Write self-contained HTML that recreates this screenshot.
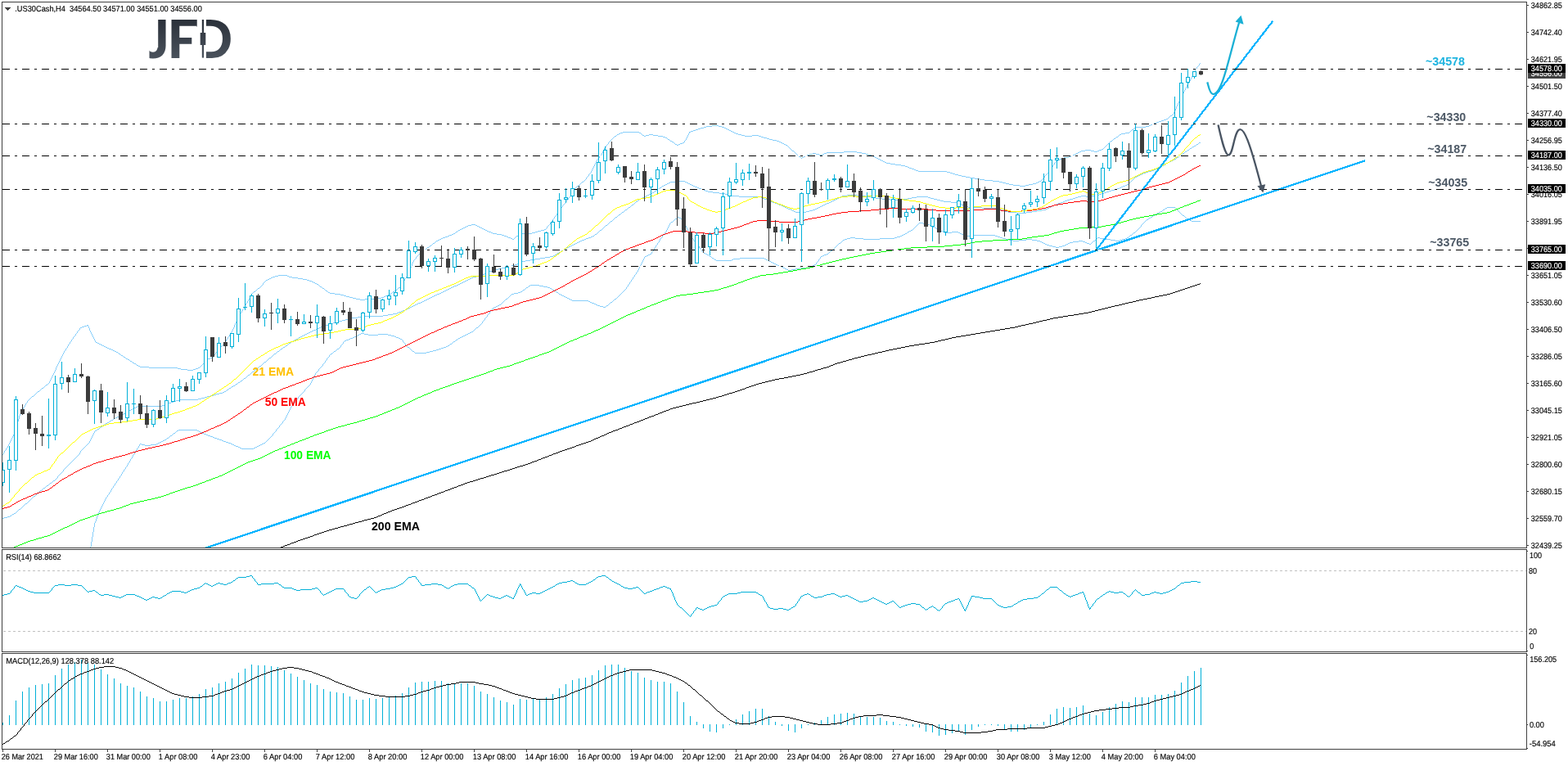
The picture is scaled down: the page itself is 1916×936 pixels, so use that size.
<!DOCTYPE html>
<html lang="en"><head><meta charset="utf-8"><title>.US30Cash H4 chart</title>
<style>
html,body{margin:0;padding:0;background:#fff;width:1916px;height:936px;overflow:hidden}
svg{display:block;position:absolute;left:0;top:0}
text{white-space:pre}
</style></head><body>
<svg width="1916" height="936" viewBox="0 0 1916 936" font-family="'Liberation Sans', sans-serif">
<rect width="1916" height="936" fill="#fff"/>
<defs>
<clipPath id="cm"><rect x="3" y="3" width="1862" height="666"/></clipPath>
<clipPath id="cr"><rect x="3" y="672" width="1862" height="124"/></clipPath>
<clipPath id="cd"><rect x="3" y="799" width="1862" height="116"/></clipPath>
<clipPath id="cj"><path d="M193.2,20 H204 V75 H182.5 V58 H193.2 Z"/><rect x="205" y="20" width="35.8" height="55"/><rect x="251.7" y="20" width="34" height="55"/></clipPath>
<linearGradient id="lg" gradientUnits="userSpaceOnUse" x1="0" y1="24" x2="0" y2="71"><stop offset="0" stop-color="#2b313a"/><stop offset="1" stop-color="#4a525c"/></linearGradient>
</defs>
<g clip-path="url(#cm)">
<g shape-rendering="crispEdges">
<path d="M1466 77h1v1h-1zM1465 78h1v1h-1zM1465 79h1v1h-1zM1464 80h1v1h-1zM1463 81h1v1h-1zM1462 82h1v1h-1zM1462 83h1v1h-1zM1461 84h1v1h-1zM1460 85h1v1h-1zM1460 86h1v1h-1zM1459 87h1v1h-1zM1459 88h1v1h-1zM1458 89h1v1h-1zM1458 90h1v1h-1zM1457 91h1v1h-1zM1457 92h1v1h-1zM1456 93h1v1h-1zM1456 94h1v1h-1zM1455 95h1v1h-1zM1455 96h1v1h-1zM1454 97h1v1h-1zM1454 98h1v1h-1zM1453 99h1v1h-1zM1453 100h1v1h-1zM1452 101h1v1h-1zM1451 102h1v1h-1zM1451 103h1v1h-1zM1450 104h1v1h-1zM1450 105h1v1h-1zM1449 106h1v1h-1zM1449 107h1v1h-1zM1448 108h1v1h-1zM1448 109h1v1h-1zM1447 110h1v1h-1zM1447 111h1v1h-1zM1446 112h1v1h-1zM1446 113h1v1h-1zM1445 114h1v1h-1zM1445 115h1v1h-1zM1444 116h1v1h-1zM1444 117h1v1h-1zM1443 118h1v1h-1zM1443 119h1v1h-1zM1442 120h1v1h-1zM1442 121h1v1h-1zM1441 122h1v1h-1zM1441 123h1v1h-1zM1440 124h1v1h-1zM1440 125h1v1h-1zM1439 126h1v1h-1zM1439 127h1v1h-1zM1438 128h1v1h-1zM1438 129h1v1h-1zM1437 130h1v1h-1zM1437 131h1v1h-1zM1437 132h1v1h-1zM1436 133h1v1h-1zM1436 134h1v1h-1zM1435 135h1v1h-1zM1435 136h1v1h-1zM1434 137h1v1h-1zM1434 138h1v1h-1zM1433 139h1v1h-1zM1432 140h1v1h-1zM1430 141h2v1h-2zM1429 142h1v1h-1zM1428 143h1v1h-1zM1427 144h1v1h-1zM1425 145h2v1h-2zM1422 146h3v1h-3zM1419 147h3v1h-3zM1416 148h3v1h-3zM1413 149h3v1h-3zM1410 150h3v1h-3zM1408 151h2v1h-2zM1406 152h2v1h-2zM870 153h8v1h-8zM1404 153h2v1h-2zM863 154h7v1h-7zM878 154h4v1h-4zM1400 154h4v1h-4zM860 155h3v1h-3zM882 155h3v1h-3zM1387 155h13v1h-13zM856 156h4v1h-4zM885 156h2v1h-2zM1386 156h1v1h-1zM853 157h3v1h-3zM887 157h2v1h-2zM1385 157h1v1h-1zM850 158h3v1h-3zM889 158h2v1h-2zM1383 158h2v1h-2zM847 159h3v1h-3zM891 159h2v1h-2zM1382 159h1v1h-1zM844 160h3v1h-3zM893 160h2v1h-2zM1381 160h1v1h-1zM761 161h20v1h-20zM842 161h2v1h-2zM895 161h2v1h-2zM1380 161h1v1h-1zM758 162h3v1h-3zM781 162h2v1h-2zM842 162h1v1h-1zM897 162h2v1h-2zM1375 162h5v1h-5zM756 163h2v1h-2zM783 163h1v1h-1zM841 163h1v1h-1zM899 163h3v1h-3zM1370 163h5v1h-5zM754 164h2v1h-2zM784 164h1v1h-1zM793 164h5v1h-5zM841 164h1v1h-1zM902 164h4v1h-4zM1368 164h2v1h-2zM753 165h1v1h-1zM785 165h2v1h-2zM789 165h4v1h-4zM798 165h6v1h-6zM840 165h1v1h-1zM906 165h4v1h-4zM919 165h8v1h-8zM1367 165h1v1h-1zM751 166h2v1h-2zM787 166h2v1h-2zM804 166h6v1h-6zM840 166h1v1h-1zM910 166h9v1h-9zM927 166h3v1h-3zM1366 166h1v1h-1zM750 167h1v1h-1zM810 167h3v1h-3zM839 167h1v1h-1zM930 167h3v1h-3zM1364 167h2v1h-2zM749 168h1v1h-1zM813 168h2v1h-2zM839 168h1v1h-1zM933 168h4v1h-4zM1363 168h1v1h-1zM748 169h1v1h-1zM815 169h1v1h-1zM838 169h1v1h-1zM937 169h3v1h-3zM1361 169h2v1h-2zM747 170h1v1h-1zM816 170h2v1h-2zM838 170h1v1h-1zM940 170h4v1h-4zM1360 170h1v1h-1zM746 171h1v1h-1zM818 171h1v1h-1zM837 171h1v1h-1zM944 171h5v1h-5zM1359 171h1v1h-1zM745 172h1v1h-1zM819 172h2v1h-2zM836 172h1v1h-1zM949 172h3v1h-3zM1357 172h2v1h-2zM744 173h1v1h-1zM821 173h2v1h-2zM836 173h1v1h-1zM952 173h2v1h-2zM1356 173h1v1h-1zM743 174h1v1h-1zM823 174h1v1h-1zM834 174h2v1h-2zM954 174h2v1h-2zM1355 174h1v1h-1zM743 175h1v1h-1zM824 175h1v1h-1zM831 175h3v1h-3zM956 175h2v1h-2zM1354 175h1v1h-1zM742 176h1v1h-1zM825 176h2v1h-2zM829 176h2v1h-2zM958 176h2v1h-2zM1353 176h1v1h-1zM741 177h1v1h-1zM827 177h2v1h-2zM960 177h2v1h-2zM1352 177h1v1h-1zM740 178h1v1h-1zM962 178h1v1h-1zM1351 178h1v1h-1zM740 179h1v1h-1zM963 179h1v1h-1zM1350 179h1v1h-1zM739 180h1v1h-1zM964 180h1v1h-1zM1349 180h1v1h-1zM738 181h1v1h-1zM965 181h1v1h-1zM1348 181h1v1h-1zM738 182h1v1h-1zM966 182h1v1h-1zM1346 182h2v1h-2zM737 183h1v1h-1zM967 183h1v1h-1zM1326 183h7v1h-7zM1343 183h3v1h-3zM737 184h1v1h-1zM968 184h2v1h-2zM1321 184h5v1h-5zM1333 184h4v1h-4zM1341 184h2v1h-2zM736 185h1v1h-1zM970 185h1v1h-1zM1031 185h16v1h-16zM1319 185h2v1h-2zM1337 185h4v1h-4zM736 186h1v1h-1zM971 186h1v1h-1zM1010 186h21v1h-21zM1047 186h6v1h-6zM1317 186h2v1h-2zM735 187h1v1h-1zM972 187h1v1h-1zM993 187h4v1h-4zM1007 187h3v1h-3zM1053 187h5v1h-5zM1315 187h2v1h-2zM735 188h1v1h-1zM973 188h1v1h-1zM989 188h4v1h-4zM997 188h4v1h-4zM1005 188h2v1h-2zM1058 188h3v1h-3zM1313 188h2v1h-2zM734 189h1v1h-1zM974 189h1v1h-1zM986 189h3v1h-3zM1001 189h4v1h-4zM1061 189h4v1h-4zM1311 189h2v1h-2zM733 190h1v1h-1zM975 190h1v1h-1zM984 190h2v1h-2zM1065 190h2v1h-2zM1309 190h2v1h-2zM732 191h1v1h-1zM976 191h2v1h-2zM982 191h2v1h-2zM1067 191h2v1h-2zM1306 191h3v1h-3zM732 192h1v1h-1zM978 192h1v1h-1zM980 192h2v1h-2zM1069 192h2v1h-2zM1300 192h6v1h-6zM731 193h1v1h-1zM979 193h1v1h-1zM1071 193h2v1h-2zM1297 193h3v1h-3zM730 194h1v1h-1zM1073 194h2v1h-2zM1295 194h2v1h-2zM729 195h1v1h-1zM1075 195h2v1h-2zM1293 195h2v1h-2zM729 196h1v1h-1zM1077 196h2v1h-2zM1292 196h1v1h-1zM728 197h1v1h-1zM1079 197h2v1h-2zM1290 197h2v1h-2zM728 198h1v1h-1zM1081 198h2v1h-2zM1289 198h1v1h-1zM727 199h1v1h-1zM1083 199h5v1h-5zM1288 199h1v1h-1zM727 200h1v1h-1zM1088 200h6v1h-6zM1288 200h1v1h-1zM726 201h1v1h-1zM1094 201h7v1h-7zM1287 201h1v1h-1zM726 202h1v1h-1zM1101 202h5v1h-5zM1286 202h1v1h-1zM725 203h1v1h-1zM1106 203h3v1h-3zM1286 203h1v1h-1zM725 204h1v1h-1zM1109 204h2v1h-2zM1285 204h1v1h-1zM724 205h1v1h-1zM1111 205h3v1h-3zM1284 205h1v1h-1zM724 206h1v1h-1zM1114 206h3v1h-3zM1283 206h1v1h-1zM723 207h1v1h-1zM1117 207h2v1h-2zM1283 207h1v1h-1zM723 208h1v1h-1zM1119 208h3v1h-3zM1282 208h1v1h-1zM722 209h1v1h-1zM1122 209h35v1h-35zM1281 209h1v1h-1zM722 210h1v1h-1zM1157 210h4v1h-4zM1281 210h1v1h-1zM721 211h1v1h-1zM1161 211h3v1h-3zM1280 211h1v1h-1zM720 212h1v1h-1zM1164 212h3v1h-3zM1279 212h1v1h-1zM719 213h1v1h-1zM1167 213h4v1h-4zM1278 213h1v1h-1zM719 214h1v1h-1zM1171 214h4v1h-4zM1277 214h1v1h-1zM718 215h1v1h-1zM1175 215h5v1h-5zM1276 215h1v1h-1zM717 216h1v1h-1zM1180 216h5v1h-5zM1276 216h1v1h-1zM716 217h1v1h-1zM1185 217h6v1h-6zM1275 217h1v1h-1zM716 218h1v1h-1zM1191 218h6v1h-6zM1274 218h1v1h-1zM715 219h1v1h-1zM1197 219h6v1h-6zM1273 219h1v1h-1zM714 220h1v1h-1zM1203 220h10v1h-10zM1272 220h1v1h-1zM713 221h1v1h-1zM1213 221h8v1h-8zM1270 221h2v1h-2zM711 222h2v1h-2zM1221 222h4v1h-4zM1268 222h2v1h-2zM710 223h1v1h-1zM1225 223h4v1h-4zM1266 223h2v1h-2zM709 224h1v1h-1zM1229 224h4v1h-4zM1262 224h4v1h-4zM708 225h1v1h-1zM1233 225h5v1h-5zM1257 225h5v1h-5zM707 226h1v1h-1zM1238 226h8v1h-8zM1253 226h4v1h-4zM705 227h2v1h-2zM1246 227h7v1h-7zM704 228h1v1h-1zM703 229h1v1h-1zM702 230h1v1h-1zM702 231h1v1h-1zM701 232h1v1h-1zM700 233h1v1h-1zM700 234h1v1h-1zM699 235h1v1h-1zM699 236h1v1h-1zM698 237h1v1h-1zM697 238h1v1h-1zM697 239h1v1h-1zM696 240h1v1h-1zM695 241h1v1h-1zM694 242h1v1h-1zM694 243h1v1h-1zM693 244h1v1h-1zM692 245h1v1h-1zM691 246h1v1h-1zM691 247h1v1h-1zM690 248h1v1h-1zM689 249h1v1h-1zM688 250h1v1h-1zM687 251h1v1h-1zM687 252h1v1h-1zM686 253h1v1h-1zM685 254h1v1h-1zM684 255h1v1h-1zM684 256h1v1h-1zM683 257h1v1h-1zM682 258h1v1h-1zM682 259h1v1h-1zM681 260h1v1h-1zM680 261h1v1h-1zM680 262h1v1h-1zM679 263h1v1h-1zM678 264h1v1h-1zM677 265h1v1h-1zM677 266h1v1h-1zM676 267h1v1h-1zM675 268h1v1h-1zM675 269h1v1h-1zM674 270h1v1h-1zM673 271h1v1h-1zM672 272h1v1h-1zM672 273h1v1h-1zM576 274h5v1h-5zM671 274h1v1h-1zM572 275h4v1h-4zM581 275h2v1h-2zM670 275h1v1h-1zM570 276h2v1h-2zM583 276h2v1h-2zM669 276h1v1h-1zM568 277h2v1h-2zM585 277h2v1h-2zM668 277h1v1h-1zM566 278h2v1h-2zM587 278h2v1h-2zM668 278h1v1h-1zM564 279h2v1h-2zM589 279h2v1h-2zM667 279h1v1h-1zM562 280h2v1h-2zM591 280h2v1h-2zM665 280h2v1h-2zM560 281h2v1h-2zM593 281h2v1h-2zM661 281h4v1h-4zM559 282h1v1h-1zM595 282h2v1h-2zM657 282h4v1h-4zM557 283h2v1h-2zM597 283h3v1h-3zM654 283h3v1h-3zM556 284h1v1h-1zM600 284h2v1h-2zM650 284h4v1h-4zM554 285h2v1h-2zM602 285h5v1h-5zM637 285h13v1h-13zM552 286h2v1h-2zM607 286h6v1h-6zM635 286h2v1h-2zM549 287h3v1h-3zM613 287h3v1h-3zM633 287h2v1h-2zM547 288h2v1h-2zM616 288h3v1h-3zM631 288h2v1h-2zM544 289h3v1h-3zM619 289h2v1h-2zM630 289h1v1h-1zM541 290h3v1h-3zM621 290h3v1h-3zM629 290h1v1h-1zM539 291h2v1h-2zM624 291h2v1h-2zM628 291h1v1h-1zM537 292h2v1h-2zM626 292h2v1h-2zM535 293h2v1h-2zM533 294h2v1h-2zM532 295h1v1h-1zM531 296h1v1h-1zM529 297h2v1h-2zM528 298h1v1h-1zM527 299h1v1h-1zM525 300h2v1h-2zM524 301h1v1h-1zM522 302h2v1h-2zM521 303h1v1h-1zM520 304h1v1h-1zM518 305h2v1h-2zM517 306h1v1h-1zM516 307h1v1h-1zM515 308h1v1h-1zM513 309h2v1h-2zM512 310h1v1h-1zM511 311h1v1h-1zM510 312h1v1h-1zM509 313h1v1h-1zM508 314h1v1h-1zM508 315h1v1h-1zM507 316h1v1h-1zM506 317h1v1h-1zM505 318h1v1h-1zM505 319h1v1h-1zM504 320h1v1h-1zM504 321h1v1h-1zM503 322h1v1h-1zM503 323h1v1h-1zM503 324h1v1h-1zM502 325h1v1h-1zM502 326h1v1h-1zM501 327h1v1h-1zM501 328h1v1h-1zM500 329h1v1h-1zM500 330h1v1h-1zM500 331h1v1h-1zM499 332h1v1h-1zM499 333h1v1h-1zM498 334h1v1h-1zM498 335h1v1h-1zM340 336h11v1h-11zM497 336h1v1h-1zM336 337h4v1h-4zM351 337h2v1h-2zM497 337h1v1h-1zM333 338h3v1h-3zM353 338h4v1h-4zM496 338h1v1h-1zM331 339h2v1h-2zM357 339h7v1h-7zM496 339h1v1h-1zM329 340h2v1h-2zM364 340h6v1h-6zM495 340h1v1h-1zM327 341h2v1h-2zM370 341h5v1h-5zM494 341h1v1h-1zM325 342h2v1h-2zM375 342h3v1h-3zM494 342h1v1h-1zM324 343h1v1h-1zM378 343h3v1h-3zM493 343h1v1h-1zM323 344h1v1h-1zM381 344h2v1h-2zM493 344h1v1h-1zM322 345h1v1h-1zM383 345h2v1h-2zM492 345h1v1h-1zM321 346h1v1h-1zM385 346h2v1h-2zM491 346h1v1h-1zM321 347h1v1h-1zM387 347h2v1h-2zM491 347h1v1h-1zM320 348h1v1h-1zM389 348h1v1h-1zM490 348h1v1h-1zM319 349h1v1h-1zM390 349h1v1h-1zM490 349h1v1h-1zM318 350h1v1h-1zM391 350h2v1h-2zM489 350h1v1h-1zM317 351h1v1h-1zM393 351h1v1h-1zM487 351h2v1h-2zM315 352h2v1h-2zM394 352h2v1h-2zM486 352h1v1h-1zM314 353h1v1h-1zM396 353h1v1h-1zM485 353h1v1h-1zM313 354h1v1h-1zM397 354h1v1h-1zM483 354h2v1h-2zM312 355h1v1h-1zM398 355h2v1h-2zM482 355h1v1h-1zM310 356h2v1h-2zM400 356h1v1h-1zM480 356h2v1h-2zM309 357h1v1h-1zM401 357h2v1h-2zM479 357h1v1h-1zM308 358h1v1h-1zM403 358h6v1h-6zM478 358h1v1h-1zM307 359h1v1h-1zM409 359h7v1h-7zM476 359h2v1h-2zM307 360h1v1h-1zM416 360h4v1h-4zM474 360h2v1h-2zM306 361h1v1h-1zM420 361h3v1h-3zM471 361h3v1h-3zM306 362h1v1h-1zM423 362h4v1h-4zM469 362h2v1h-2zM305 363h1v1h-1zM427 363h4v1h-4zM466 363h3v1h-3zM305 364h1v1h-1zM431 364h4v1h-4zM457 364h9v1h-9zM304 365h1v1h-1zM435 365h5v1h-5zM446 365h11v1h-11zM303 366h1v1h-1zM440 366h6v1h-6zM303 367h1v1h-1zM302 368h1v1h-1zM302 369h1v1h-1zM301 370h1v1h-1zM300 371h1v1h-1zM300 372h1v1h-1zM299 373h1v1h-1zM299 374h1v1h-1zM298 375h1v1h-1zM298 376h1v1h-1zM297 377h1v1h-1zM296 378h1v1h-1zM296 379h1v1h-1zM295 380h1v1h-1zM295 381h1v1h-1zM294 382h1v1h-1zM293 383h1v1h-1zM293 384h1v1h-1zM292 385h1v1h-1zM292 386h1v1h-1zM291 387h1v1h-1zM291 388h1v1h-1zM290 389h1v1h-1zM290 390h1v1h-1zM289 391h1v1h-1zM289 392h1v1h-1zM288 393h1v1h-1zM288 394h1v1h-1zM287 395h1v1h-1zM287 396h1v1h-1zM106 397h2v1h-2zM286 397h1v1h-1zM103 398h3v1h-3zM107 398h1v1h-1zM286 398h1v1h-1zM100 399h3v1h-3zM108 399h1v1h-1zM286 399h1v1h-1zM98 400h2v1h-2zM108 400h1v1h-1zM285 400h1v1h-1zM97 401h1v1h-1zM109 401h1v1h-1zM285 401h1v1h-1zM97 402h1v1h-1zM109 402h1v1h-1zM284 402h1v1h-1zM96 403h1v1h-1zM109 403h1v1h-1zM284 403h1v1h-1zM95 404h1v1h-1zM110 404h1v1h-1zM283 404h1v1h-1zM94 405h1v1h-1zM110 405h1v1h-1zM283 405h1v1h-1zM94 406h1v1h-1zM111 406h1v1h-1zM282 406h1v1h-1zM93 407h1v1h-1zM111 407h1v1h-1zM282 407h1v1h-1zM92 408h1v1h-1zM112 408h1v1h-1zM281 408h1v1h-1zM92 409h1v1h-1zM112 409h1v1h-1zM280 409h1v1h-1zM91 410h1v1h-1zM113 410h1v1h-1zM280 410h1v1h-1zM90 411h1v1h-1zM113 411h1v1h-1zM279 411h1v1h-1zM89 412h1v1h-1zM114 412h1v1h-1zM278 412h1v1h-1zM89 413h1v1h-1zM114 413h1v1h-1zM278 413h1v1h-1zM88 414h1v1h-1zM115 414h1v1h-1zM277 414h1v1h-1zM87 415h1v1h-1zM115 415h1v1h-1zM276 415h1v1h-1zM87 416h1v1h-1zM116 416h1v1h-1zM276 416h1v1h-1zM86 417h1v1h-1zM116 417h1v1h-1zM275 417h1v1h-1zM85 418h1v1h-1zM117 418h2v1h-2zM274 418h1v1h-1zM85 419h1v1h-1zM119 419h2v1h-2zM274 419h1v1h-1zM84 420h1v1h-1zM121 420h2v1h-2zM273 420h1v1h-1zM83 421h1v1h-1zM123 421h2v1h-2zM272 421h1v1h-1zM83 422h1v1h-1zM125 422h2v1h-2zM271 422h1v1h-1zM82 423h1v1h-1zM127 423h2v1h-2zM270 423h1v1h-1zM82 424h1v1h-1zM129 424h2v1h-2zM269 424h1v1h-1zM81 425h1v1h-1zM131 425h2v1h-2zM269 425h1v1h-1zM80 426h1v1h-1zM133 426h3v1h-3zM268 426h1v1h-1zM80 427h1v1h-1zM136 427h2v1h-2zM267 427h1v1h-1zM79 428h1v1h-1zM138 428h2v1h-2zM266 428h1v1h-1zM78 429h1v1h-1zM140 429h2v1h-2zM265 429h1v1h-1zM78 430h1v1h-1zM142 430h2v1h-2zM264 430h1v1h-1zM77 431h1v1h-1zM144 431h1v1h-1zM263 431h1v1h-1zM77 432h1v1h-1zM145 432h2v1h-2zM263 432h1v1h-1zM76 433h1v1h-1zM147 433h1v1h-1zM262 433h1v1h-1zM76 434h1v1h-1zM148 434h2v1h-2zM261 434h1v1h-1zM75 435h1v1h-1zM150 435h1v1h-1zM260 435h1v1h-1zM75 436h1v1h-1zM151 436h2v1h-2zM260 436h1v1h-1zM74 437h1v1h-1zM153 437h1v1h-1zM257 437h3v1h-3zM74 438h1v1h-1zM154 438h2v1h-2zM254 438h3v1h-3zM73 439h1v1h-1zM156 439h2v1h-2zM253 439h1v1h-1zM73 440h1v1h-1zM158 440h1v1h-1zM252 440h1v1h-1zM72 441h1v1h-1zM159 441h2v1h-2zM251 441h1v1h-1zM72 442h1v1h-1zM161 442h1v1h-1zM250 442h1v1h-1zM71 443h1v1h-1zM162 443h2v1h-2zM249 443h1v1h-1zM71 444h1v1h-1zM164 444h2v1h-2zM248 444h1v1h-1zM70 445h1v1h-1zM166 445h1v1h-1zM247 445h1v1h-1zM70 446h1v1h-1zM167 446h2v1h-2zM246 446h1v1h-1zM69 447h1v1h-1zM169 447h2v1h-2zM245 447h1v1h-1zM69 448h1v1h-1zM171 448h11v1h-11zM244 448h1v1h-1zM68 449h1v1h-1zM182 449h35v1h-35zM242 449h2v1h-2zM68 450h1v1h-1zM217 450h4v1h-4zM239 450h3v1h-3zM68 451h1v1h-1zM221 451h8v1h-8zM236 451h3v1h-3zM67 452h1v1h-1zM229 452h7v1h-7zM67 453h1v1h-1zM66 454h1v1h-1zM66 455h1v1h-1zM65 456h1v1h-1zM65 457h1v1h-1zM64 458h1v1h-1zM64 459h1v1h-1zM63 460h1v1h-1zM63 461h1v1h-1zM62 462h1v1h-1zM62 463h1v1h-1zM61 464h1v1h-1zM61 465h1v1h-1zM60 466h1v1h-1zM60 467h1v1h-1zM59 468h1v1h-1zM58 469h1v1h-1zM56 470h2v1h-2zM55 471h1v1h-1zM54 472h1v1h-1zM53 473h1v1h-1zM51 474h2v1h-2zM50 475h1v1h-1zM49 476h1v1h-1zM48 477h1v1h-1zM46 478h2v1h-2zM45 479h1v1h-1zM44 480h1v1h-1zM43 481h1v1h-1zM42 482h1v1h-1zM41 483h1v1h-1zM39 484h2v1h-2zM38 485h1v1h-1zM37 486h1v1h-1zM36 487h1v1h-1zM35 488h1v1h-1zM34 489h1v1h-1zM33 490h1v1h-1zM33 491h1v1h-1zM32 492h1v1h-1zM31 493h1v1h-1zM31 494h1v1h-1zM30 495h1v1h-1zM30 496h1v1h-1zM29 497h1v1h-1zM28 498h1v1h-1zM28 499h1v1h-1zM27 500h1v1h-1zM27 501h1v1h-1zM26 502h1v1h-1zM26 503h1v1h-1zM25 504h1v1h-1zM25 505h1v1h-1zM24 506h1v1h-1zM24 507h1v1h-1zM23 508h1v1h-1zM23 509h1v1h-1zM23 510h1v1h-1zM23 511h1v1h-1zM22 512h1v1h-1zM22 513h1v1h-1zM22 514h1v1h-1zM21 515h1v1h-1zM21 516h1v1h-1zM21 517h1v1h-1zM21 518h1v1h-1zM20 519h1v1h-1zM20 520h1v1h-1zM20 521h1v1h-1zM19 522h1v1h-1zM19 523h1v1h-1zM19 524h1v1h-1zM19 525h1v1h-1zM18 526h1v1h-1zM18 527h1v1h-1zM18 528h1v1h-1zM17 529h1v1h-1zM17 530h1v1h-1zM16 531h1v1h-1zM16 532h1v1h-1zM15 533h1v1h-1zM15 534h1v1h-1zM14 535h1v1h-1zM14 536h1v1h-1zM13 537h1v1h-1zM13 538h1v1h-1zM12 539h1v1h-1zM12 540h1v1h-1zM11 541h1v1h-1zM11 542h1v1h-1zM10 543h1v1h-1zM10 544h1v1h-1zM9 545h1v1h-1zM9 546h1v1h-1zM8 547h1v1h-1zM7 548h1v1h-1zM7 549h1v1h-1zM6 550h1v1h-1zM5 551h1v1h-1zM5 552h1v1h-1zM4 553h1v1h-1zM4 554h1v1h-1zM3 555h1v1h-1z" fill="#87cefa"/>
<path d="M1465 174h2v1h-2zM1464 175h1v1h-1zM1462 176h2v1h-2zM1461 177h1v1h-1zM1459 178h2v1h-2zM1457 179h2v1h-2zM1456 180h1v1h-1zM1454 181h2v1h-2zM1453 182h1v1h-1zM1451 183h2v1h-2zM1450 184h1v1h-1zM1448 185h2v1h-2zM1447 186h1v1h-1zM1445 187h2v1h-2zM1444 188h1v1h-1zM1443 189h1v1h-1zM1441 190h2v1h-2zM1440 191h1v1h-1zM1438 192h2v1h-2zM1437 193h1v1h-1zM1435 194h2v1h-2zM1433 195h2v1h-2zM1431 196h2v1h-2zM1429 197h2v1h-2zM1427 198h2v1h-2zM1425 199h2v1h-2zM1424 200h1v1h-1zM1422 201h2v1h-2zM1420 202h2v1h-2zM1418 203h2v1h-2zM1416 204h2v1h-2zM1414 205h2v1h-2zM1412 206h2v1h-2zM1410 207h2v1h-2zM1407 208h3v1h-3zM1403 209h4v1h-4zM1400 210h3v1h-3zM1397 211h3v1h-3zM1395 212h2v1h-2zM1393 213h2v1h-2zM1391 214h2v1h-2zM1389 215h2v1h-2zM1387 216h2v1h-2zM1386 217h1v1h-1zM1385 218h1v1h-1zM1384 219h1v1h-1zM1383 220h1v1h-1zM828 221h9v1h-9zM1382 221h1v1h-1zM819 222h9v1h-9zM837 222h2v1h-2zM1381 222h1v1h-1zM817 223h2v1h-2zM839 223h2v1h-2zM1380 223h1v1h-1zM815 224h2v1h-2zM841 224h2v1h-2zM1379 224h1v1h-1zM813 225h2v1h-2zM843 225h2v1h-2zM1377 225h2v1h-2zM811 226h2v1h-2zM845 226h2v1h-2zM1375 226h2v1h-2zM809 227h2v1h-2zM847 227h2v1h-2zM1372 227h3v1h-3zM808 228h1v1h-1zM849 228h3v1h-3zM1370 228h2v1h-2zM806 229h2v1h-2zM852 229h2v1h-2zM1368 229h2v1h-2zM805 230h1v1h-1zM854 230h3v1h-3zM1365 230h3v1h-3zM803 231h2v1h-2zM857 231h3v1h-3zM1362 231h3v1h-3zM802 232h1v1h-1zM860 232h2v1h-2zM1358 232h4v1h-4zM800 233h2v1h-2zM862 233h3v1h-3zM1355 233h3v1h-3zM799 234h1v1h-1zM865 234h6v1h-6zM1352 234h3v1h-3zM797 235h2v1h-2zM871 235h8v1h-8zM1349 235h3v1h-3zM795 236h2v1h-2zM879 236h7v1h-7zM1346 236h3v1h-3zM793 237h2v1h-2zM886 237h4v1h-4zM1343 237h3v1h-3zM791 238h2v1h-2zM890 238h4v1h-4zM1035 238h13v1h-13zM1339 238h4v1h-4zM789 239h2v1h-2zM894 239h9v1h-9zM1029 239h6v1h-6zM1048 239h10v1h-10zM1321 239h6v1h-6zM1333 239h6v1h-6zM787 240h2v1h-2zM903 240h27v1h-27zM1027 240h2v1h-2zM1058 240h6v1h-6zM1120 240h14v1h-14zM1317 240h4v1h-4zM1327 240h6v1h-6zM785 241h2v1h-2zM930 241h2v1h-2zM1025 241h2v1h-2zM1064 241h6v1h-6zM1114 241h6v1h-6zM1134 241h3v1h-3zM1314 241h3v1h-3zM783 242h2v1h-2zM932 242h2v1h-2zM1023 242h2v1h-2zM1070 242h8v1h-8zM1109 242h5v1h-5zM1137 242h4v1h-4zM1311 242h3v1h-3zM781 243h2v1h-2zM934 243h3v1h-3zM1021 243h2v1h-2zM1078 243h10v1h-10zM1100 243h9v1h-9zM1141 243h4v1h-4zM1307 243h4v1h-4zM780 244h1v1h-1zM937 244h2v1h-2zM1019 244h2v1h-2zM1088 244h12v1h-12zM1145 244h4v1h-4zM1304 244h3v1h-3zM779 245h1v1h-1zM939 245h3v1h-3zM1017 245h2v1h-2zM1149 245h4v1h-4zM1301 245h3v1h-3zM777 246h2v1h-2zM942 246h2v1h-2zM1015 246h2v1h-2zM1153 246h9v1h-9zM1299 246h2v1h-2zM776 247h1v1h-1zM944 247h3v1h-3zM1013 247h2v1h-2zM1162 247h8v1h-8zM1296 247h3v1h-3zM775 248h1v1h-1zM947 248h3v1h-3zM1010 248h3v1h-3zM1170 248h2v1h-2zM1293 248h3v1h-3zM774 249h1v1h-1zM950 249h2v1h-2zM1008 249h2v1h-2zM1172 249h3v1h-3zM1291 249h2v1h-2zM772 250h2v1h-2zM952 250h3v1h-3zM1006 250h2v1h-2zM1175 250h2v1h-2zM1288 250h3v1h-3zM771 251h1v1h-1zM955 251h2v1h-2zM1004 251h2v1h-2zM1177 251h3v1h-3zM1286 251h2v1h-2zM770 252h1v1h-1zM957 252h2v1h-2zM1002 252h2v1h-2zM1180 252h3v1h-3zM1284 252h2v1h-2zM768 253h2v1h-2zM959 253h2v1h-2zM1000 253h2v1h-2zM1183 253h17v1h-17zM1282 253h2v1h-2zM767 254h1v1h-1zM961 254h2v1h-2zM998 254h2v1h-2zM1200 254h17v1h-17zM1280 254h2v1h-2zM766 255h1v1h-1zM963 255h3v1h-3zM996 255h2v1h-2zM1217 255h4v1h-4zM1278 255h2v1h-2zM764 256h2v1h-2zM966 256h2v1h-2zM993 256h3v1h-3zM1221 256h4v1h-4zM1273 256h5v1h-5zM763 257h1v1h-1zM968 257h2v1h-2zM989 257h4v1h-4zM1225 257h3v1h-3zM1267 257h6v1h-6zM762 258h1v1h-1zM970 258h2v1h-2zM985 258h4v1h-4zM1228 258h4v1h-4zM1261 258h6v1h-6zM760 259h2v1h-2zM972 259h13v1h-13zM1232 259h10v1h-10zM1254 259h7v1h-7zM759 260h1v1h-1zM1242 260h12v1h-12zM758 261h1v1h-1zM756 262h2v1h-2zM755 263h1v1h-1zM754 264h1v1h-1zM752 265h2v1h-2zM751 266h1v1h-1zM750 267h1v1h-1zM749 268h1v1h-1zM748 269h1v1h-1zM746 270h2v1h-2zM745 271h1v1h-1zM744 272h1v1h-1zM743 273h1v1h-1zM742 274h1v1h-1zM740 275h2v1h-2zM739 276h1v1h-1zM738 277h1v1h-1zM737 278h1v1h-1zM736 279h1v1h-1zM735 280h1v1h-1zM733 281h2v1h-2zM732 282h1v1h-1zM731 283h1v1h-1zM730 284h1v1h-1zM729 285h1v1h-1zM727 286h2v1h-2zM726 287h1v1h-1zM724 288h2v1h-2zM722 289h2v1h-2zM719 290h3v1h-3zM716 291h3v1h-3zM714 292h2v1h-2zM711 293h3v1h-3zM709 294h2v1h-2zM707 295h2v1h-2zM705 296h2v1h-2zM703 297h2v1h-2zM701 298h2v1h-2zM699 299h2v1h-2zM697 300h2v1h-2zM695 301h2v1h-2zM693 302h2v1h-2zM691 303h2v1h-2zM690 304h1v1h-1zM688 305h2v1h-2zM686 306h2v1h-2zM685 307h1v1h-1zM683 308h2v1h-2zM681 309h2v1h-2zM680 310h1v1h-1zM678 311h2v1h-2zM676 312h2v1h-2zM672 313h4v1h-4zM666 314h6v1h-6zM660 315h6v1h-6zM654 316h6v1h-6zM648 317h6v1h-6zM642 318h6v1h-6zM638 319h4v1h-4zM636 320h2v1h-2zM634 321h2v1h-2zM632 322h2v1h-2zM629 323h3v1h-3zM625 324h4v1h-4zM621 325h4v1h-4zM617 326h4v1h-4zM613 327h4v1h-4zM609 328h4v1h-4zM605 329h4v1h-4zM601 330h4v1h-4zM598 331h3v1h-3zM596 332h2v1h-2zM594 333h2v1h-2zM592 334h2v1h-2zM590 335h2v1h-2zM587 336h3v1h-3zM582 337h5v1h-5zM578 338h4v1h-4zM576 339h2v1h-2zM574 340h2v1h-2zM572 341h2v1h-2zM570 342h2v1h-2zM568 343h2v1h-2zM566 344h2v1h-2zM564 345h2v1h-2zM562 346h2v1h-2zM560 347h2v1h-2zM558 348h2v1h-2zM555 349h3v1h-3zM553 350h2v1h-2zM551 351h2v1h-2zM549 352h2v1h-2zM547 353h2v1h-2zM545 354h2v1h-2zM543 355h2v1h-2zM541 356h2v1h-2zM539 357h2v1h-2zM537 358h2v1h-2zM534 359h3v1h-3zM532 360h2v1h-2zM530 361h2v1h-2zM528 362h2v1h-2zM526 363h2v1h-2zM524 364h2v1h-2zM522 365h2v1h-2zM520 366h2v1h-2zM518 367h2v1h-2zM516 368h2v1h-2zM514 369h2v1h-2zM511 370h3v1h-3zM509 371h2v1h-2zM507 372h2v1h-2zM505 373h2v1h-2zM503 374h2v1h-2zM501 375h2v1h-2zM499 376h2v1h-2zM497 377h2v1h-2zM495 378h2v1h-2zM492 379h3v1h-3zM490 380h2v1h-2zM487 381h3v1h-3zM485 382h2v1h-2zM480 383h5v1h-5zM474 384h6v1h-6zM468 385h6v1h-6zM446 386h22v1h-22zM437 387h9v1h-9zM430 388h7v1h-7zM426 389h4v1h-4zM422 390h4v1h-4zM418 391h4v1h-4zM414 392h4v1h-4zM410 393h4v1h-4zM407 394h3v1h-3zM404 395h3v1h-3zM401 396h3v1h-3zM398 397h3v1h-3zM395 398h3v1h-3zM392 399h3v1h-3zM390 400h2v1h-2zM388 401h2v1h-2zM386 402h2v1h-2zM383 403h3v1h-3zM381 404h2v1h-2zM379 405h2v1h-2zM377 406h2v1h-2zM375 407h2v1h-2zM373 408h2v1h-2zM371 409h2v1h-2zM369 410h2v1h-2zM367 411h2v1h-2zM365 412h2v1h-2zM364 413h1v1h-1zM362 414h2v1h-2zM360 415h2v1h-2zM358 416h2v1h-2zM356 417h2v1h-2zM355 418h1v1h-1zM353 419h2v1h-2zM352 420h1v1h-1zM351 421h1v1h-1zM349 422h2v1h-2zM348 423h1v1h-1zM346 424h2v1h-2zM345 425h1v1h-1zM343 426h2v1h-2zM342 427h1v1h-1zM341 428h1v1h-1zM339 429h2v1h-2zM338 430h1v1h-1zM337 431h1v1h-1zM335 432h2v1h-2zM334 433h1v1h-1zM333 434h1v1h-1zM332 435h1v1h-1zM331 436h1v1h-1zM329 437h2v1h-2zM328 438h1v1h-1zM327 439h1v1h-1zM326 440h1v1h-1zM325 441h1v1h-1zM323 442h2v1h-2zM322 443h1v1h-1zM321 444h1v1h-1zM320 445h1v1h-1zM319 446h1v1h-1zM317 447h2v1h-2zM316 448h1v1h-1zM315 449h1v1h-1zM314 450h1v1h-1zM312 451h2v1h-2zM311 452h1v1h-1zM310 453h1v1h-1zM308 454h2v1h-2zM307 455h1v1h-1zM306 456h1v1h-1zM305 457h1v1h-1zM303 458h2v1h-2zM302 459h1v1h-1zM301 460h1v1h-1zM300 461h1v1h-1zM298 462h2v1h-2zM297 463h1v1h-1zM296 464h1v1h-1zM294 465h2v1h-2zM293 466h1v1h-1zM291 467h2v1h-2zM290 468h1v1h-1zM288 469h2v1h-2zM287 470h1v1h-1zM285 471h2v1h-2zM283 472h2v1h-2zM282 473h1v1h-1zM280 474h2v1h-2zM279 475h1v1h-1zM277 476h2v1h-2zM276 477h1v1h-1zM274 478h2v1h-2zM272 479h2v1h-2zM268 480h4v1h-4zM264 481h4v1h-4zM261 482h3v1h-3zM257 483h4v1h-4zM253 484h4v1h-4zM250 485h3v1h-3zM246 486h4v1h-4zM242 487h4v1h-4zM219 488h23v1h-23zM215 489h4v1h-4zM212 490h3v1h-3zM209 491h3v1h-3zM206 492h3v1h-3zM203 493h3v1h-3zM201 494h2v1h-2zM198 495h3v1h-3zM168 496h30v1h-30zM166 497h2v1h-2zM164 498h2v1h-2zM162 499h2v1h-2zM160 500h2v1h-2zM158 501h2v1h-2zM156 502h2v1h-2zM154 503h2v1h-2zM153 504h1v1h-1zM151 505h2v1h-2zM149 506h2v1h-2zM147 507h2v1h-2zM145 508h2v1h-2zM143 509h2v1h-2zM141 510h2v1h-2zM139 511h2v1h-2zM138 512h1v1h-1zM136 513h2v1h-2zM134 514h2v1h-2zM133 515h1v1h-1zM131 516h2v1h-2zM129 517h2v1h-2zM128 518h1v1h-1zM126 519h2v1h-2zM125 520h1v1h-1zM123 521h2v1h-2zM122 522h1v1h-1zM121 523h1v1h-1zM119 524h2v1h-2zM118 525h1v1h-1zM116 526h2v1h-2zM115 527h1v1h-1zM115 528h1v1h-1zM114 529h1v1h-1zM114 530h1v1h-1zM113 531h1v1h-1zM113 532h1v1h-1zM112 533h1v1h-1zM112 534h1v1h-1zM111 535h1v1h-1zM111 536h1v1h-1zM110 537h1v1h-1zM110 538h1v1h-1zM109 539h1v1h-1zM109 540h1v1h-1zM108 541h1v1h-1zM107 542h1v1h-1zM106 543h1v1h-1zM105 544h1v1h-1zM104 545h1v1h-1zM103 546h1v1h-1zM102 547h1v1h-1zM101 548h1v1h-1zM100 549h1v1h-1zM99 550h1v1h-1zM98 551h1v1h-1zM98 552h1v1h-1zM97 553h1v1h-1zM97 554h1v1h-1zM96 555h1v1h-1zM95 556h1v1h-1zM94 557h1v1h-1zM93 558h1v1h-1zM92 559h1v1h-1zM91 560h1v1h-1zM90 561h1v1h-1zM89 562h1v1h-1zM88 563h1v1h-1zM87 564h1v1h-1zM86 565h1v1h-1zM85 566h1v1h-1zM84 567h1v1h-1zM83 568h1v1h-1zM82 569h1v1h-1zM81 570h1v1h-1zM80 571h1v1h-1zM79 572h1v1h-1zM78 573h1v1h-1zM77 574h1v1h-1zM77 575h1v1h-1zM76 576h1v1h-1zM75 577h1v1h-1zM74 578h1v1h-1zM73 579h1v1h-1zM72 580h1v1h-1zM71 581h1v1h-1zM70 582h1v1h-1zM70 583h1v1h-1zM69 584h1v1h-1zM68 585h1v1h-1zM67 586h1v1h-1zM65 587h2v1h-2zM64 588h1v1h-1zM63 589h1v1h-1zM61 590h2v1h-2zM60 591h1v1h-1zM59 592h1v1h-1zM57 593h2v1h-2zM56 594h1v1h-1zM55 595h1v1h-1zM53 596h2v1h-2zM52 597h1v1h-1zM51 598h1v1h-1zM49 599h2v1h-2zM48 600h1v1h-1zM47 601h1v1h-1zM46 602h1v1h-1zM45 603h1v1h-1zM44 604h1v1h-1zM43 605h1v1h-1zM41 606h2v1h-2zM40 607h1v1h-1zM39 608h1v1h-1zM38 609h1v1h-1zM37 610h1v1h-1zM36 611h1v1h-1zM35 612h1v1h-1zM34 613h1v1h-1zM33 614h1v1h-1zM31 615h2v1h-2zM30 616h1v1h-1zM29 617h1v1h-1zM28 618h1v1h-1zM27 619h1v1h-1zM26 620h1v1h-1zM25 621h1v1h-1zM23 622h2v1h-2zM22 623h1v1h-1zM21 624h1v1h-1zM20 625h1v1h-1zM19 626h1v1h-1zM17 627h2v1h-2zM15 628h2v1h-2zM14 629h1v1h-1zM12 630h2v1h-2zM9 631h3v1h-3zM5 632h4v1h-4zM3 633h2v1h-2z" fill="#87cefa"/>
<path d="M1426 253h10v1h-10zM1424 254h2v1h-2zM1436 254h1v1h-1zM1423 255h1v1h-1zM1437 255h1v1h-1zM1421 256h2v1h-2zM1438 256h1v1h-1zM1420 257h1v1h-1zM1439 257h1v1h-1zM1418 258h2v1h-2zM1440 258h1v1h-1zM1416 259h2v1h-2zM1441 259h1v1h-1zM1414 260h2v1h-2zM1442 260h1v1h-1zM1412 261h2v1h-2zM1443 261h1v1h-1zM1411 262h1v1h-1zM1444 262h1v1h-1zM1409 263h2v1h-2zM1445 263h2v1h-2zM1408 264h1v1h-1zM1447 264h1v1h-1zM828 265h2v1h-2zM1406 265h2v1h-2zM1448 265h1v1h-1zM827 266h1v1h-1zM830 266h2v1h-2zM1404 266h2v1h-2zM1449 266h1v1h-1zM825 267h2v1h-2zM832 267h2v1h-2zM1403 267h1v1h-1zM1450 267h2v1h-2zM824 268h1v1h-1zM834 268h1v1h-1zM1401 268h2v1h-2zM1452 268h2v1h-2zM823 269h1v1h-1zM834 269h1v1h-1zM1400 269h1v1h-1zM1454 269h2v1h-2zM822 270h1v1h-1zM835 270h1v1h-1zM1399 270h1v1h-1zM1456 270h11v1h-11zM820 271h2v1h-2zM835 271h1v1h-1zM1398 271h1v1h-1zM819 272h1v1h-1zM836 272h1v1h-1zM1123 272h5v1h-5zM1397 272h1v1h-1zM818 273h1v1h-1zM836 273h1v1h-1zM1122 273h1v1h-1zM1128 273h6v1h-6zM1396 273h1v1h-1zM818 274h1v1h-1zM837 274h1v1h-1zM1121 274h1v1h-1zM1134 274h2v1h-2zM1395 274h1v1h-1zM817 275h1v1h-1zM837 275h1v1h-1zM1120 275h1v1h-1zM1136 275h2v1h-2zM1394 275h1v1h-1zM817 276h1v1h-1zM838 276h1v1h-1zM1119 276h1v1h-1zM1138 276h2v1h-2zM1394 276h1v1h-1zM816 277h1v1h-1zM838 277h1v1h-1zM1118 277h1v1h-1zM1140 277h2v1h-2zM1393 277h1v1h-1zM816 278h1v1h-1zM839 278h1v1h-1zM1117 278h1v1h-1zM1142 278h2v1h-2zM1392 278h1v1h-1zM815 279h1v1h-1zM839 279h1v1h-1zM1116 279h1v1h-1zM1144 279h2v1h-2zM1391 279h1v1h-1zM815 280h1v1h-1zM840 280h1v1h-1zM1115 280h1v1h-1zM1146 280h2v1h-2zM1390 280h1v1h-1zM814 281h1v1h-1zM840 281h1v1h-1zM1113 281h2v1h-2zM1148 281h2v1h-2zM1389 281h1v1h-1zM814 282h1v1h-1zM841 282h1v1h-1zM1111 282h2v1h-2zM1150 282h2v1h-2zM1388 282h1v1h-1zM813 283h1v1h-1zM841 283h1v1h-1zM1109 283h2v1h-2zM1152 283h2v1h-2zM1163 283h8v1h-8zM1387 283h1v1h-1zM812 284h1v1h-1zM842 284h1v1h-1zM1108 284h1v1h-1zM1154 284h9v1h-9zM1171 284h2v1h-2zM1385 284h2v1h-2zM812 285h1v1h-1zM842 285h1v1h-1zM1106 285h2v1h-2zM1173 285h2v1h-2zM1384 285h1v1h-1zM811 286h1v1h-1zM843 286h1v1h-1zM1104 286h2v1h-2zM1175 286h2v1h-2zM1383 286h1v1h-1zM810 287h1v1h-1zM843 287h1v1h-1zM1102 287h2v1h-2zM1177 287h4v1h-4zM1189 287h27v1h-27zM1381 287h2v1h-2zM809 288h1v1h-1zM844 288h1v1h-1zM1100 288h2v1h-2zM1181 288h8v1h-8zM1216 288h3v1h-3zM1380 288h1v1h-1zM809 289h1v1h-1zM845 289h1v1h-1zM1096 289h4v1h-4zM1219 289h3v1h-3zM1379 289h1v1h-1zM808 290h1v1h-1zM845 290h1v1h-1zM1039 290h6v1h-6zM1093 290h3v1h-3zM1222 290h3v1h-3zM1341 290h3v1h-3zM1377 290h2v1h-2zM807 291h1v1h-1zM846 291h1v1h-1zM1035 291h4v1h-4zM1045 291h10v1h-10zM1075 291h18v1h-18zM1225 291h4v1h-4zM1340 291h1v1h-1zM1344 291h6v1h-6zM1375 291h2v1h-2zM806 292h1v1h-1zM847 292h1v1h-1zM1032 292h3v1h-3zM1055 292h20v1h-20zM1229 292h4v1h-4zM1254 292h7v1h-7zM1339 292h1v1h-1zM1350 292h7v1h-7zM1371 292h4v1h-4zM806 293h1v1h-1zM847 293h1v1h-1zM1030 293h2v1h-2zM1233 293h5v1h-5zM1245 293h9v1h-9zM1261 293h6v1h-6zM1338 293h1v1h-1zM1357 293h6v1h-6zM1368 293h3v1h-3zM805 294h1v1h-1zM848 294h1v1h-1zM1029 294h1v1h-1zM1238 294h7v1h-7zM1267 294h4v1h-4zM1318 294h5v1h-5zM1336 294h2v1h-2zM1363 294h5v1h-5zM805 295h1v1h-1zM849 295h1v1h-1zM1028 295h1v1h-1zM1271 295h2v1h-2zM1311 295h7v1h-7zM1323 295h3v1h-3zM1335 295h1v1h-1zM804 296h1v1h-1zM850 296h1v1h-1zM1027 296h1v1h-1zM1273 296h2v1h-2zM1307 296h4v1h-4zM1326 296h2v1h-2zM1334 296h1v1h-1zM803 297h1v1h-1zM850 297h1v1h-1zM1025 297h2v1h-2zM1275 297h2v1h-2zM1305 297h2v1h-2zM1328 297h3v1h-3zM1333 297h1v1h-1zM803 298h1v1h-1zM851 298h1v1h-1zM1024 298h1v1h-1zM1277 298h2v1h-2zM1303 298h2v1h-2zM1331 298h2v1h-2zM802 299h1v1h-1zM852 299h1v1h-1zM1023 299h1v1h-1zM1279 299h3v1h-3zM1301 299h2v1h-2zM801 300h1v1h-1zM853 300h1v1h-1zM1022 300h1v1h-1zM1282 300h4v1h-4zM1298 300h3v1h-3zM801 301h1v1h-1zM854 301h1v1h-1zM1021 301h1v1h-1zM1286 301h4v1h-4zM1294 301h4v1h-4zM800 302h1v1h-1zM854 302h1v1h-1zM1020 302h1v1h-1zM1290 302h4v1h-4zM799 303h1v1h-1zM855 303h1v1h-1zM1019 303h1v1h-1zM799 304h1v1h-1zM856 304h1v1h-1zM1018 304h1v1h-1zM798 305h1v1h-1zM857 305h1v1h-1zM1017 305h1v1h-1zM798 306h1v1h-1zM857 306h1v1h-1zM1015 306h2v1h-2zM797 307h1v1h-1zM858 307h1v1h-1zM1014 307h1v1h-1zM796 308h1v1h-1zM859 308h1v1h-1zM1013 308h1v1h-1zM796 309h1v1h-1zM860 309h2v1h-2zM1012 309h1v1h-1zM794 310h2v1h-2zM862 310h2v1h-2zM1010 310h2v1h-2zM792 311h2v1h-2zM864 311h2v1h-2zM1007 311h3v1h-3zM790 312h2v1h-2zM866 312h1v1h-1zM1005 312h2v1h-2zM788 313h2v1h-2zM867 313h2v1h-2zM1003 313h2v1h-2zM787 314h1v1h-1zM869 314h1v1h-1zM1002 314h1v1h-1zM787 315h1v1h-1zM870 315h2v1h-2zM904 315h30v1h-30zM1002 315h1v1h-1zM786 316h1v1h-1zM872 316h1v1h-1zM896 316h8v1h-8zM934 316h2v1h-2zM1001 316h1v1h-1zM786 317h1v1h-1zM873 317h2v1h-2zM894 317h2v1h-2zM936 317h2v1h-2zM1000 317h1v1h-1zM785 318h1v1h-1zM875 318h19v1h-19zM938 318h2v1h-2zM1000 318h1v1h-1zM785 319h1v1h-1zM940 319h2v1h-2zM999 319h1v1h-1zM784 320h1v1h-1zM942 320h2v1h-2zM998 320h1v1h-1zM784 321h1v1h-1zM944 321h2v1h-2zM997 321h1v1h-1zM783 322h1v1h-1zM946 322h2v1h-2zM997 322h1v1h-1zM783 323h1v1h-1zM948 323h2v1h-2zM995 323h2v1h-2zM782 324h1v1h-1zM950 324h2v1h-2zM993 324h2v1h-2zM782 325h1v1h-1zM952 325h3v1h-3zM991 325h2v1h-2zM781 326h1v1h-1zM955 326h2v1h-2zM989 326h2v1h-2zM781 327h1v1h-1zM957 327h2v1h-2zM977 327h12v1h-12zM780 328h1v1h-1zM959 328h2v1h-2zM972 328h5v1h-5zM780 329h1v1h-1zM961 329h2v1h-2zM967 329h5v1h-5zM779 330h1v1h-1zM963 330h4v1h-4zM779 331h1v1h-1zM778 332h1v1h-1zM777 333h1v1h-1zM777 334h1v1h-1zM776 335h1v1h-1zM775 336h1v1h-1zM775 337h1v1h-1zM774 338h1v1h-1zM773 339h1v1h-1zM773 340h1v1h-1zM772 341h1v1h-1zM771 342h1v1h-1zM771 343h1v1h-1zM770 344h1v1h-1zM769 345h1v1h-1zM769 346h1v1h-1zM768 347h1v1h-1zM648 348h11v1h-11zM767 348h1v1h-1zM646 349h2v1h-2zM659 349h5v1h-5zM767 349h1v1h-1zM645 350h1v1h-1zM664 350h5v1h-5zM766 350h1v1h-1zM643 351h2v1h-2zM669 351h3v1h-3zM765 351h1v1h-1zM642 352h1v1h-1zM672 352h2v1h-2zM765 352h1v1h-1zM641 353h1v1h-1zM674 353h1v1h-1zM764 353h1v1h-1zM639 354h2v1h-2zM675 354h2v1h-2zM763 354h1v1h-1zM638 355h1v1h-1zM677 355h2v1h-2zM762 355h1v1h-1zM636 356h2v1h-2zM679 356h1v1h-1zM761 356h1v1h-1zM633 357h3v1h-3zM680 357h2v1h-2zM760 357h1v1h-1zM628 358h5v1h-5zM682 358h1v1h-1zM759 358h1v1h-1zM625 359h3v1h-3zM683 359h2v1h-2zM758 359h1v1h-1zM624 360h1v1h-1zM685 360h2v1h-2zM757 360h1v1h-1zM623 361h1v1h-1zM687 361h2v1h-2zM756 361h1v1h-1zM622 362h1v1h-1zM689 362h2v1h-2zM755 362h1v1h-1zM621 363h1v1h-1zM691 363h2v1h-2zM754 363h1v1h-1zM620 364h1v1h-1zM693 364h2v1h-2zM753 364h1v1h-1zM618 365h2v1h-2zM695 365h2v1h-2zM751 365h2v1h-2zM617 366h1v1h-1zM697 366h2v1h-2zM750 366h1v1h-1zM616 367h1v1h-1zM699 367h20v1h-20zM749 367h1v1h-1zM615 368h1v1h-1zM719 368h2v1h-2zM748 368h1v1h-1zM614 369h1v1h-1zM721 369h2v1h-2zM746 369h2v1h-2zM613 370h1v1h-1zM723 370h3v1h-3zM745 370h1v1h-1zM612 371h1v1h-1zM726 371h2v1h-2zM744 371h1v1h-1zM610 372h2v1h-2zM728 372h2v1h-2zM743 372h1v1h-1zM608 373h2v1h-2zM730 373h3v1h-3zM741 373h2v1h-2zM606 374h2v1h-2zM733 374h4v1h-4zM740 374h1v1h-1zM604 375h2v1h-2zM737 375h3v1h-3zM602 376h2v1h-2zM601 377h1v1h-1zM601 378h1v1h-1zM600 379h1v1h-1zM599 380h1v1h-1zM598 381h1v1h-1zM598 382h1v1h-1zM597 383h1v1h-1zM596 384h1v1h-1zM595 385h1v1h-1zM595 386h1v1h-1zM594 387h1v1h-1zM593 388h1v1h-1zM592 389h1v1h-1zM592 390h1v1h-1zM591 391h1v1h-1zM590 392h1v1h-1zM589 393h1v1h-1zM589 394h1v1h-1zM588 395h1v1h-1zM587 396h1v1h-1zM586 397h1v1h-1zM585 398h1v1h-1zM584 399h1v1h-1zM582 400h2v1h-2zM581 401h1v1h-1zM580 402h1v1h-1zM579 403h1v1h-1zM578 404h1v1h-1zM576 405h2v1h-2zM574 406h2v1h-2zM441 407h4v1h-4zM572 407h2v1h-2zM439 408h2v1h-2zM445 408h5v1h-5zM462 408h12v1h-12zM570 408h2v1h-2zM437 409h2v1h-2zM450 409h12v1h-12zM474 409h4v1h-4zM568 409h2v1h-2zM435 410h2v1h-2zM478 410h4v1h-4zM566 410h2v1h-2zM433 411h2v1h-2zM482 411h2v1h-2zM564 411h2v1h-2zM431 412h2v1h-2zM484 412h3v1h-3zM562 412h2v1h-2zM428 413h3v1h-3zM487 413h2v1h-2zM560 413h2v1h-2zM426 414h2v1h-2zM489 414h2v1h-2zM559 414h1v1h-1zM423 415h3v1h-3zM491 415h1v1h-1zM557 415h2v1h-2zM421 416h2v1h-2zM492 416h1v1h-1zM556 416h1v1h-1zM420 417h1v1h-1zM492 417h1v1h-1zM554 417h2v1h-2zM419 418h1v1h-1zM493 418h1v1h-1zM553 418h1v1h-1zM419 419h1v1h-1zM494 419h1v1h-1zM552 419h1v1h-1zM418 420h1v1h-1zM495 420h1v1h-1zM550 420h2v1h-2zM417 421h1v1h-1zM495 421h1v1h-1zM549 421h1v1h-1zM416 422h1v1h-1zM496 422h1v1h-1zM547 422h2v1h-2zM416 423h1v1h-1zM497 423h1v1h-1zM545 423h2v1h-2zM415 424h1v1h-1zM498 424h2v1h-2zM542 424h3v1h-3zM414 425h1v1h-1zM500 425h1v1h-1zM539 425h3v1h-3zM412 426h2v1h-2zM501 426h1v1h-1zM536 426h3v1h-3zM411 427h1v1h-1zM502 427h1v1h-1zM533 427h3v1h-3zM410 428h1v1h-1zM503 428h1v1h-1zM529 428h4v1h-4zM408 429h2v1h-2zM504 429h2v1h-2zM525 429h4v1h-4zM407 430h1v1h-1zM506 430h1v1h-1zM521 430h4v1h-4zM406 431h1v1h-1zM507 431h14v1h-14zM404 432h2v1h-2zM403 433h1v1h-1zM402 434h1v1h-1zM402 435h1v1h-1zM401 436h1v1h-1zM400 437h1v1h-1zM399 438h1v1h-1zM399 439h1v1h-1zM398 440h1v1h-1zM397 441h1v1h-1zM397 442h1v1h-1zM396 443h1v1h-1zM395 444h1v1h-1zM394 445h1v1h-1zM394 446h1v1h-1zM393 447h1v1h-1zM392 448h1v1h-1zM391 449h1v1h-1zM390 450h1v1h-1zM389 451h1v1h-1zM389 452h1v1h-1zM388 453h1v1h-1zM387 454h1v1h-1zM386 455h1v1h-1zM385 456h1v1h-1zM385 457h1v1h-1zM384 458h1v1h-1zM384 459h1v1h-1zM383 460h1v1h-1zM383 461h1v1h-1zM382 462h1v1h-1zM382 463h1v1h-1zM381 464h1v1h-1zM381 465h1v1h-1zM380 466h1v1h-1zM380 467h1v1h-1zM379 468h1v1h-1zM379 469h1v1h-1zM378 470h1v1h-1zM377 471h1v1h-1zM376 472h1v1h-1zM375 473h1v1h-1zM374 474h1v1h-1zM373 475h1v1h-1zM372 476h1v1h-1zM372 477h1v1h-1zM371 478h1v1h-1zM370 479h1v1h-1zM369 480h1v1h-1zM368 481h1v1h-1zM367 482h1v1h-1zM366 483h1v1h-1zM365 484h1v1h-1zM364 485h1v1h-1zM364 486h1v1h-1zM363 487h1v1h-1zM362 488h1v1h-1zM361 489h1v1h-1zM361 490h1v1h-1zM360 491h1v1h-1zM359 492h1v1h-1zM358 493h1v1h-1zM358 494h1v1h-1zM357 495h1v1h-1zM356 496h1v1h-1zM355 497h1v1h-1zM355 498h1v1h-1zM354 499h1v1h-1zM354 500h1v1h-1zM353 501h1v1h-1zM353 502h1v1h-1zM352 503h1v1h-1zM352 504h1v1h-1zM351 505h1v1h-1zM351 506h1v1h-1zM350 507h1v1h-1zM350 508h1v1h-1zM349 509h1v1h-1zM349 510h1v1h-1zM348 511h1v1h-1zM348 512h1v1h-1zM347 513h1v1h-1zM346 514h1v1h-1zM345 515h1v1h-1zM345 516h1v1h-1zM344 517h1v1h-1zM343 518h1v1h-1zM342 519h1v1h-1zM341 520h1v1h-1zM341 521h1v1h-1zM340 522h1v1h-1zM339 523h1v1h-1zM338 524h1v1h-1zM218 525h23v1h-23zM337 525h1v1h-1zM216 526h2v1h-2zM241 526h2v1h-2zM337 526h1v1h-1zM215 527h1v1h-1zM243 527h2v1h-2zM336 527h1v1h-1zM214 528h1v1h-1zM245 528h2v1h-2zM335 528h1v1h-1zM212 529h2v1h-2zM247 529h2v1h-2zM334 529h1v1h-1zM211 530h1v1h-1zM249 530h3v1h-3zM333 530h1v1h-1zM210 531h1v1h-1zM252 531h2v1h-2zM333 531h1v1h-1zM208 532h2v1h-2zM254 532h3v1h-3zM332 532h1v1h-1zM207 533h1v1h-1zM257 533h3v1h-3zM331 533h1v1h-1zM206 534h1v1h-1zM260 534h2v1h-2zM330 534h1v1h-1zM204 535h2v1h-2zM262 535h3v1h-3zM329 535h1v1h-1zM203 536h1v1h-1zM265 536h3v1h-3zM328 536h1v1h-1zM201 537h2v1h-2zM268 537h3v1h-3zM327 537h1v1h-1zM199 538h2v1h-2zM271 538h2v1h-2zM326 538h1v1h-1zM197 539h2v1h-2zM273 539h3v1h-3zM325 539h1v1h-1zM195 540h2v1h-2zM276 540h3v1h-3zM324 540h1v1h-1zM193 541h2v1h-2zM279 541h3v1h-3zM322 541h2v1h-2zM171 542h2v1h-2zM191 542h2v1h-2zM282 542h2v1h-2zM320 542h2v1h-2zM170 543h1v1h-1zM173 543h4v1h-4zM184 543h7v1h-7zM284 543h2v1h-2zM318 543h2v1h-2zM170 544h1v1h-1zM177 544h7v1h-7zM286 544h2v1h-2zM316 544h2v1h-2zM169 545h1v1h-1zM288 545h3v1h-3zM314 545h2v1h-2zM169 546h1v1h-1zM291 546h2v1h-2zM312 546h2v1h-2zM168 547h1v1h-1zM293 547h2v1h-2zM310 547h2v1h-2zM167 548h1v1h-1zM295 548h15v1h-15zM167 549h1v1h-1zM166 550h1v1h-1zM165 551h1v1h-1zM165 552h1v1h-1zM164 553h1v1h-1zM164 554h1v1h-1zM163 555h1v1h-1zM162 556h1v1h-1zM162 557h1v1h-1zM161 558h1v1h-1zM161 559h1v1h-1zM160 560h1v1h-1zM159 561h1v1h-1zM159 562h1v1h-1zM158 563h1v1h-1zM158 564h1v1h-1zM157 565h1v1h-1zM156 566h1v1h-1zM156 567h1v1h-1zM155 568h1v1h-1zM155 569h1v1h-1zM154 570h1v1h-1zM153 571h1v1h-1zM153 572h1v1h-1zM152 573h1v1h-1zM151 574h1v1h-1zM151 575h1v1h-1zM150 576h1v1h-1zM149 577h1v1h-1zM149 578h1v1h-1zM148 579h1v1h-1zM148 580h1v1h-1zM147 581h1v1h-1zM146 582h1v1h-1zM146 583h1v1h-1zM145 584h1v1h-1zM144 585h1v1h-1zM144 586h1v1h-1zM143 587h1v1h-1zM142 588h1v1h-1zM142 589h1v1h-1zM141 590h1v1h-1zM140 591h1v1h-1zM140 592h1v1h-1zM139 593h1v1h-1zM138 594h1v1h-1zM138 595h1v1h-1zM137 596h1v1h-1zM136 597h1v1h-1zM136 598h1v1h-1zM135 599h1v1h-1zM135 600h1v1h-1zM134 601h1v1h-1zM133 602h1v1h-1zM133 603h1v1h-1zM132 604h1v1h-1zM131 605h1v1h-1zM131 606h1v1h-1zM130 607h1v1h-1zM129 608h1v1h-1zM129 609h1v1h-1zM128 610h1v1h-1zM128 611h1v1h-1zM127 612h1v1h-1zM127 613h1v1h-1zM126 614h1v1h-1zM126 615h1v1h-1zM125 616h1v1h-1zM125 617h1v1h-1zM124 618h1v1h-1zM124 619h1v1h-1zM123 620h1v1h-1zM123 621h1v1h-1zM122 622h1v1h-1zM122 623h1v1h-1zM121 624h1v1h-1zM121 625h1v1h-1zM120 626h1v1h-1zM120 627h1v1h-1zM120 628h1v1h-1zM119 629h1v1h-1zM119 630h1v1h-1zM118 631h1v1h-1zM118 632h1v1h-1zM118 633h1v1h-1zM117 634h1v1h-1zM117 635h1v1h-1zM117 636h1v1h-1zM116 637h1v1h-1zM116 638h1v1h-1zM115 639h1v1h-1zM115 640h1v1h-1zM115 641h1v1h-1zM115 642h1v1h-1zM115 643h1v1h-1zM114 644h1v1h-1zM114 645h1v1h-1zM114 646h1v1h-1zM114 647h1v1h-1zM114 648h1v1h-1zM114 649h1v1h-1zM113 650h1v1h-1zM113 651h1v1h-1zM113 652h1v1h-1zM113 653h1v1h-1zM113 654h1v1h-1zM113 655h1v1h-1zM112 656h1v1h-1zM112 657h1v1h-1zM112 658h1v1h-1zM112 659h1v1h-1zM112 660h1v1h-1zM112 661h1v1h-1zM111 662h1v1h-1zM111 663h1v1h-1zM111 664h1v1h-1zM111 665h1v1h-1zM111 666h1v1h-1zM111 667h1v1h-1zM110 668h1v1h-1zM110 669h1v1h-1zM110 670h1v1h-1z" fill="#87cefa"/>
<path d="M1466 346h1v1h-1zM1463 347h3v1h-3zM1460 348h3v1h-3zM1457 349h3v1h-3zM1454 350h3v1h-3zM1451 351h3v1h-3zM1448 352h3v1h-3zM1445 353h3v1h-3zM1442 354h3v1h-3zM1439 355h3v1h-3zM1436 356h3v1h-3zM1433 357h3v1h-3zM1430 358h3v1h-3zM1426 359h4v1h-4zM1421 360h5v1h-5zM1416 361h5v1h-5zM1411 362h5v1h-5zM1407 363h4v1h-4zM1402 364h5v1h-5zM1397 365h5v1h-5zM1392 366h5v1h-5zM1388 367h4v1h-4zM1384 368h4v1h-4zM1379 369h5v1h-5zM1375 370h4v1h-4zM1371 371h4v1h-4zM1367 372h4v1h-4zM1362 373h5v1h-5zM1358 374h4v1h-4zM1354 375h4v1h-4zM1350 376h4v1h-4zM1346 377h4v1h-4zM1342 378h4v1h-4zM1338 379h4v1h-4zM1334 380h4v1h-4zM1330 381h4v1h-4zM1324 382h6v1h-6zM1318 383h6v1h-6zM1312 384h6v1h-6zM1305 385h7v1h-7zM1299 386h6v1h-6zM1293 387h6v1h-6zM1287 388h6v1h-6zM1283 389h4v1h-4zM1279 390h4v1h-4zM1274 391h5v1h-5zM1270 392h4v1h-4zM1266 393h4v1h-4zM1262 394h4v1h-4zM1257 395h5v1h-5zM1253 396h4v1h-4zM1248 397h5v1h-5zM1244 398h4v1h-4zM1240 399h4v1h-4zM1234 400h6v1h-6zM1228 401h6v1h-6zM1222 402h6v1h-6zM1216 403h6v1h-6zM1210 404h6v1h-6zM1204 405h6v1h-6zM1198 406h6v1h-6zM1192 407h6v1h-6zM1186 408h6v1h-6zM1180 409h6v1h-6zM1174 410h6v1h-6zM1168 411h6v1h-6zM1163 412h5v1h-5zM1159 413h4v1h-4zM1155 414h4v1h-4zM1150 415h5v1h-5zM1146 416h4v1h-4zM1142 417h4v1h-4zM1136 418h6v1h-6zM1130 419h6v1h-6zM1123 420h7v1h-7zM1117 421h6v1h-6zM1111 422h6v1h-6zM1106 423h5v1h-5zM1101 424h5v1h-5zM1096 425h5v1h-5zM1091 426h5v1h-5zM1086 427h5v1h-5zM1082 428h4v1h-4zM1078 429h4v1h-4zM1073 430h5v1h-5zM1069 431h4v1h-4zM1065 432h4v1h-4zM1060 433h5v1h-5zM1056 434h4v1h-4zM1052 435h4v1h-4zM1048 436h4v1h-4zM1044 437h4v1h-4zM1041 438h3v1h-3zM1037 439h4v1h-4zM1034 440h3v1h-3zM1030 441h4v1h-4zM1027 442h3v1h-3zM1023 443h4v1h-4zM1020 444h3v1h-3zM1018 445h2v1h-2zM1015 446h3v1h-3zM1013 447h2v1h-2zM1010 448h3v1h-3zM1006 449h4v1h-4zM1003 450h3v1h-3zM999 451h4v1h-4zM996 452h3v1h-3zM993 453h3v1h-3zM989 454h4v1h-4zM986 455h3v1h-3zM982 456h4v1h-4zM978 457h4v1h-4zM973 458h5v1h-5zM968 459h5v1h-5zM963 460h5v1h-5zM958 461h5v1h-5zM952 462h6v1h-6zM947 463h5v1h-5zM943 464h4v1h-4zM939 465h4v1h-4zM935 466h4v1h-4zM931 467h4v1h-4zM927 468h4v1h-4zM924 469h3v1h-3zM921 470h3v1h-3zM918 471h3v1h-3zM915 472h3v1h-3zM912 473h3v1h-3zM910 474h2v1h-2zM907 475h3v1h-3zM904 476h3v1h-3zM901 477h3v1h-3zM898 478h3v1h-3zM895 479h3v1h-3zM891 480h4v1h-4zM888 481h3v1h-3zM885 482h3v1h-3zM882 483h3v1h-3zM878 484h4v1h-4zM875 485h3v1h-3zM871 486h4v1h-4zM867 487h4v1h-4zM863 488h4v1h-4zM859 489h4v1h-4zM855 490h4v1h-4zM851 491h4v1h-4zM846 492h5v1h-5zM842 493h4v1h-4zM838 494h4v1h-4zM834 495h4v1h-4zM830 496h4v1h-4zM826 497h4v1h-4zM822 498h4v1h-4zM819 499h3v1h-3zM817 500h2v1h-2zM814 501h3v1h-3zM811 502h3v1h-3zM809 503h2v1h-2zM806 504h3v1h-3zM804 505h2v1h-2zM801 506h3v1h-3zM799 507h2v1h-2zM796 508h3v1h-3zM793 509h3v1h-3zM791 510h2v1h-2zM788 511h3v1h-3zM786 512h2v1h-2zM783 513h3v1h-3zM781 514h2v1h-2zM778 515h3v1h-3zM775 516h3v1h-3zM773 517h2v1h-2zM770 518h3v1h-3zM768 519h2v1h-2zM765 520h3v1h-3zM762 521h3v1h-3zM760 522h2v1h-2zM757 523h3v1h-3zM755 524h2v1h-2zM752 525h3v1h-3zM749 526h3v1h-3zM747 527h2v1h-2zM744 528h3v1h-3zM742 529h2v1h-2zM740 530h2v1h-2zM738 531h2v1h-2zM735 532h3v1h-3zM733 533h2v1h-2zM731 534h2v1h-2zM728 535h3v1h-3zM726 536h2v1h-2zM724 537h2v1h-2zM722 538h2v1h-2zM719 539h3v1h-3zM716 540h3v1h-3zM713 541h3v1h-3zM710 542h3v1h-3zM707 543h3v1h-3zM704 544h3v1h-3zM702 545h2v1h-2zM699 546h3v1h-3zM696 547h3v1h-3zM693 548h3v1h-3zM690 549h3v1h-3zM687 550h3v1h-3zM684 551h3v1h-3zM682 552h2v1h-2zM679 553h3v1h-3zM676 554h3v1h-3zM674 555h2v1h-2zM671 556h3v1h-3zM669 557h2v1h-2zM666 558h3v1h-3zM663 559h3v1h-3zM661 560h2v1h-2zM658 561h3v1h-3zM656 562h2v1h-2zM653 563h3v1h-3zM650 564h3v1h-3zM648 565h2v1h-2zM645 566h3v1h-3zM642 567h3v1h-3zM639 568h3v1h-3zM635 569h4v1h-4zM632 570h3v1h-3zM629 571h3v1h-3zM626 572h3v1h-3zM623 573h3v1h-3zM620 574h3v1h-3zM616 575h4v1h-4zM613 576h3v1h-3zM610 577h3v1h-3zM607 578h3v1h-3zM604 579h3v1h-3zM600 580h4v1h-4zM597 581h3v1h-3zM594 582h3v1h-3zM591 583h3v1h-3zM587 584h4v1h-4zM584 585h3v1h-3zM581 586h3v1h-3zM578 587h3v1h-3zM574 588h4v1h-4zM571 589h3v1h-3zM568 590h3v1h-3zM566 591h2v1h-2zM563 592h3v1h-3zM560 593h3v1h-3zM558 594h2v1h-2zM555 595h3v1h-3zM552 596h3v1h-3zM550 597h2v1h-2zM547 598h3v1h-3zM544 599h3v1h-3zM542 600h2v1h-2zM539 601h3v1h-3zM536 602h3v1h-3zM534 603h2v1h-2zM531 604h3v1h-3zM528 605h3v1h-3zM526 606h2v1h-2zM523 607h3v1h-3zM520 608h3v1h-3zM518 609h2v1h-2zM515 610h3v1h-3zM512 611h3v1h-3zM510 612h2v1h-2zM507 613h3v1h-3zM504 614h3v1h-3zM502 615h2v1h-2zM499 616h3v1h-3zM496 617h3v1h-3zM494 618h2v1h-2zM491 619h3v1h-3zM488 620h3v1h-3zM485 621h3v1h-3zM482 622h3v1h-3zM479 623h3v1h-3zM477 624h2v1h-2zM474 625h3v1h-3zM472 626h2v1h-2zM469 627h3v1h-3zM467 628h2v1h-2zM465 629h2v1h-2zM462 630h3v1h-3zM460 631h2v1h-2zM457 632h3v1h-3zM453 633h4v1h-4zM449 634h4v1h-4zM445 635h4v1h-4zM442 636h3v1h-3zM438 637h4v1h-4zM434 638h4v1h-4zM431 639h3v1h-3zM427 640h4v1h-4zM424 641h3v1h-3zM420 642h4v1h-4zM416 643h4v1h-4zM413 644h3v1h-3zM409 645h4v1h-4zM406 646h3v1h-3zM402 647h4v1h-4zM399 648h3v1h-3zM396 649h3v1h-3zM393 650h3v1h-3zM390 651h3v1h-3zM387 652h3v1h-3zM384 653h3v1h-3zM382 654h2v1h-2zM379 655h3v1h-3zM376 656h3v1h-3zM373 657h3v1h-3zM370 658h3v1h-3zM367 659h3v1h-3zM364 660h3v1h-3zM362 661h2v1h-2zM359 662h3v1h-3zM356 663h3v1h-3zM354 664h2v1h-2zM351 665h3v1h-3zM348 666h3v1h-3zM346 667h2v1h-2zM343 668h3v1h-3zM341 669h2v1h-2z" fill="#000"/>
<path d="M1466 244h1v1h-1zM1463 245h3v1h-3zM1461 246h2v1h-2zM1458 247h3v1h-3zM1455 248h3v1h-3zM1453 249h2v1h-2zM1450 250h3v1h-3zM1447 251h3v1h-3zM1445 252h2v1h-2zM1442 253h3v1h-3zM1440 254h2v1h-2zM1437 255h3v1h-3zM1435 256h2v1h-2zM1432 257h3v1h-3zM1430 258h2v1h-2zM1426 259h4v1h-4zM1420 260h6v1h-6zM1414 261h6v1h-6zM1409 262h5v1h-5zM1404 263h5v1h-5zM1398 264h6v1h-6zM1393 265h5v1h-5zM1388 266h5v1h-5zM1384 267h4v1h-4zM1380 268h4v1h-4zM1377 269h3v1h-3zM1373 270h4v1h-4zM1370 271h3v1h-3zM1366 272h4v1h-4zM1362 273h4v1h-4zM1357 274h5v1h-5zM1351 275h6v1h-6zM1346 276h5v1h-5zM1332 277h14v1h-14zM1318 278h14v1h-14zM1312 279h6v1h-6zM1306 280h6v1h-6zM1300 281h6v1h-6zM1295 282h5v1h-5zM1292 283h3v1h-3zM1288 284h4v1h-4zM1285 285h3v1h-3zM1282 286h3v1h-3zM1276 287h6v1h-6zM1268 288h8v1h-8zM1261 289h7v1h-7zM1255 290h6v1h-6zM1249 291h6v1h-6zM1232 292h17v1h-17zM1213 293h19v1h-19zM1200 294h13v1h-13zM1191 295h9v1h-9zM1186 296h5v1h-5zM1181 297h5v1h-5zM1174 298h7v1h-7zM1164 299h10v1h-10zM1154 300h10v1h-10zM1133 301h21v1h-21zM1113 302h20v1h-20zM1105 303h8v1h-8zM1097 304h8v1h-8zM1090 305h7v1h-7zM1083 306h7v1h-7zM1076 307h7v1h-7zM1069 308h7v1h-7zM1063 309h6v1h-6zM1058 310h5v1h-5zM1053 311h5v1h-5zM1048 312h5v1h-5zM1043 313h5v1h-5zM1038 314h5v1h-5zM1034 315h4v1h-4zM1029 316h5v1h-5zM1025 317h4v1h-4zM1021 318h4v1h-4zM1017 319h4v1h-4zM1013 320h4v1h-4zM1009 321h4v1h-4zM1005 322h4v1h-4zM1002 323h3v1h-3zM998 324h4v1h-4zM994 325h4v1h-4zM990 326h4v1h-4zM985 327h5v1h-5zM979 328h6v1h-6zM974 329h5v1h-5zM969 330h5v1h-5zM963 331h6v1h-6zM957 332h6v1h-6zM951 333h6v1h-6zM945 334h6v1h-6zM936 335h9v1h-9zM929 336h7v1h-7zM926 337h3v1h-3zM922 338h4v1h-4zM919 339h3v1h-3zM916 340h3v1h-3zM913 341h3v1h-3zM910 342h3v1h-3zM908 343h2v1h-2zM905 344h3v1h-3zM902 345h3v1h-3zM900 346h2v1h-2zM897 347h3v1h-3zM894 348h3v1h-3zM891 349h3v1h-3zM888 350h3v1h-3zM884 351h4v1h-4zM881 352h3v1h-3zM878 353h3v1h-3zM873 354h5v1h-5zM867 355h6v1h-6zM860 356h7v1h-7zM853 357h7v1h-7zM847 358h6v1h-6zM839 359h8v1h-8zM831 360h8v1h-8zM826 361h5v1h-5zM823 362h3v1h-3zM820 363h3v1h-3zM817 364h3v1h-3zM815 365h2v1h-2zM812 366h3v1h-3zM809 367h3v1h-3zM807 368h2v1h-2zM804 369h3v1h-3zM802 370h2v1h-2zM799 371h3v1h-3zM796 372h3v1h-3zM794 373h2v1h-2zM791 374h3v1h-3zM789 375h2v1h-2zM787 376h2v1h-2zM784 377h3v1h-3zM782 378h2v1h-2zM779 379h3v1h-3zM777 380h2v1h-2zM775 381h2v1h-2zM772 382h3v1h-3zM770 383h2v1h-2zM767 384h3v1h-3zM765 385h2v1h-2zM763 386h2v1h-2zM761 387h2v1h-2zM759 388h2v1h-2zM757 389h2v1h-2zM755 390h2v1h-2zM753 391h2v1h-2zM751 392h2v1h-2zM749 393h2v1h-2zM747 394h2v1h-2zM745 395h2v1h-2zM743 396h2v1h-2zM741 397h2v1h-2zM739 398h2v1h-2zM737 399h2v1h-2zM735 400h2v1h-2zM733 401h2v1h-2zM731 402h2v1h-2zM728 403h3v1h-3zM726 404h2v1h-2zM724 405h2v1h-2zM722 406h2v1h-2zM719 407h3v1h-3zM717 408h2v1h-2zM714 409h3v1h-3zM712 410h2v1h-2zM709 411h3v1h-3zM707 412h2v1h-2zM705 413h2v1h-2zM702 414h3v1h-3zM700 415h2v1h-2zM697 416h3v1h-3zM695 417h2v1h-2zM693 418h2v1h-2zM691 419h2v1h-2zM689 420h2v1h-2zM687 421h2v1h-2zM685 422h2v1h-2zM683 423h2v1h-2zM681 424h2v1h-2zM679 425h2v1h-2zM677 426h2v1h-2zM675 427h2v1h-2zM673 428h2v1h-2zM671 429h2v1h-2zM668 430h3v1h-3zM665 431h3v1h-3zM662 432h3v1h-3zM659 433h3v1h-3zM657 434h2v1h-2zM654 435h3v1h-3zM651 436h3v1h-3zM648 437h3v1h-3zM645 438h3v1h-3zM642 439h3v1h-3zM640 440h2v1h-2zM637 441h3v1h-3zM634 442h3v1h-3zM631 443h3v1h-3zM628 444h3v1h-3zM626 445h2v1h-2zM623 446h3v1h-3zM619 447h4v1h-4zM615 448h4v1h-4zM611 449h4v1h-4zM607 450h4v1h-4zM604 451h3v1h-3zM602 452h2v1h-2zM599 453h3v1h-3zM596 454h3v1h-3zM594 455h2v1h-2zM591 456h3v1h-3zM588 457h3v1h-3zM585 458h3v1h-3zM582 459h3v1h-3zM579 460h3v1h-3zM576 461h3v1h-3zM573 462h3v1h-3zM570 463h3v1h-3zM567 464h3v1h-3zM564 465h3v1h-3zM561 466h3v1h-3zM558 467h3v1h-3zM555 468h3v1h-3zM552 469h3v1h-3zM550 470h2v1h-2zM547 471h3v1h-3zM544 472h3v1h-3zM541 473h3v1h-3zM538 474h3v1h-3zM536 475h2v1h-2zM533 476h3v1h-3zM530 477h3v1h-3zM528 478h2v1h-2zM526 479h2v1h-2zM523 480h3v1h-3zM521 481h2v1h-2zM518 482h3v1h-3zM516 483h2v1h-2zM514 484h2v1h-2zM511 485h3v1h-3zM509 486h2v1h-2zM507 487h2v1h-2zM505 488h2v1h-2zM503 489h2v1h-2zM501 490h2v1h-2zM499 491h2v1h-2zM497 492h2v1h-2zM495 493h2v1h-2zM493 494h2v1h-2zM491 495h2v1h-2zM489 496h2v1h-2zM487 497h2v1h-2zM484 498h3v1h-3zM482 499h2v1h-2zM479 500h3v1h-3zM477 501h2v1h-2zM474 502h3v1h-3zM472 503h2v1h-2zM469 504h3v1h-3zM467 505h2v1h-2zM464 506h3v1h-3zM462 507h2v1h-2zM459 508h3v1h-3zM456 509h3v1h-3zM452 510h4v1h-4zM449 511h3v1h-3zM446 512h3v1h-3zM442 513h4v1h-4zM439 514h3v1h-3zM436 515h3v1h-3zM432 516h4v1h-4zM428 517h4v1h-4zM424 518h4v1h-4zM421 519h3v1h-3zM417 520h4v1h-4zM413 521h4v1h-4zM410 522h3v1h-3zM407 523h3v1h-3zM404 524h3v1h-3zM401 525h3v1h-3zM398 526h3v1h-3zM396 527h2v1h-2zM393 528h3v1h-3zM390 529h3v1h-3zM387 530h3v1h-3zM384 531h3v1h-3zM382 532h2v1h-2zM379 533h3v1h-3zM377 534h2v1h-2zM374 535h3v1h-3zM372 536h2v1h-2zM369 537h3v1h-3zM366 538h3v1h-3zM364 539h2v1h-2zM361 540h3v1h-3zM359 541h2v1h-2zM356 542h3v1h-3zM354 543h2v1h-2zM351 544h3v1h-3zM349 545h2v1h-2zM346 546h3v1h-3zM344 547h2v1h-2zM341 548h3v1h-3zM339 549h2v1h-2zM336 550h3v1h-3zM334 551h2v1h-2zM332 552h2v1h-2zM330 553h2v1h-2zM328 554h2v1h-2zM326 555h2v1h-2zM324 556h2v1h-2zM322 557h2v1h-2zM320 558h2v1h-2zM318 559h2v1h-2zM315 560h3v1h-3zM312 561h3v1h-3zM309 562h3v1h-3zM306 563h3v1h-3zM303 564h3v1h-3zM301 565h2v1h-2zM299 566h2v1h-2zM297 567h2v1h-2zM295 568h2v1h-2zM293 569h2v1h-2zM291 570h2v1h-2zM289 571h2v1h-2zM287 572h2v1h-2zM285 573h2v1h-2zM283 574h2v1h-2zM281 575h2v1h-2zM279 576h2v1h-2zM277 577h2v1h-2zM275 578h2v1h-2zM273 579h2v1h-2zM271 580h2v1h-2zM268 581h3v1h-3zM266 582h2v1h-2zM263 583h3v1h-3zM260 584h3v1h-3zM258 585h2v1h-2zM255 586h3v1h-3zM252 587h3v1h-3zM250 588h2v1h-2zM247 589h3v1h-3zM244 590h3v1h-3zM242 591h2v1h-2zM239 592h3v1h-3zM236 593h3v1h-3zM233 594h3v1h-3zM229 595h4v1h-4zM226 596h3v1h-3zM223 597h3v1h-3zM220 598h3v1h-3zM217 599h3v1h-3zM214 600h3v1h-3zM211 601h3v1h-3zM208 602h3v1h-3zM206 603h2v1h-2zM203 604h3v1h-3zM200 605h3v1h-3zM197 606h3v1h-3zM193 607h4v1h-4zM189 608h4v1h-4zM185 609h4v1h-4zM180 610h5v1h-5zM176 611h4v1h-4zM171 612h5v1h-5zM167 613h4v1h-4zM163 614h4v1h-4zM159 615h4v1h-4zM157 616h2v1h-2zM154 617h3v1h-3zM151 618h3v1h-3zM149 619h2v1h-2zM146 620h3v1h-3zM142 621h4v1h-4zM139 622h3v1h-3zM135 623h4v1h-4zM131 624h4v1h-4zM128 625h3v1h-3zM124 626h4v1h-4zM121 627h3v1h-3zM118 628h3v1h-3zM115 629h3v1h-3zM112 630h3v1h-3zM110 631h2v1h-2zM107 632h3v1h-3zM104 633h3v1h-3zM101 634h3v1h-3zM98 635h3v1h-3zM96 636h2v1h-2zM94 637h2v1h-2zM92 638h2v1h-2zM90 639h2v1h-2zM88 640h2v1h-2zM86 641h2v1h-2zM84 642h2v1h-2zM82 643h2v1h-2zM79 644h3v1h-3zM77 645h2v1h-2zM75 646h2v1h-2zM73 647h2v1h-2zM71 648h2v1h-2zM69 649h2v1h-2zM67 650h2v1h-2zM65 651h2v1h-2zM63 652h2v1h-2zM61 653h2v1h-2zM58 654h3v1h-3zM54 655h4v1h-4zM51 656h3v1h-3zM47 657h4v1h-4zM44 658h3v1h-3zM41 659h3v1h-3zM37 660h4v1h-4zM34 661h3v1h-3zM32 662h2v1h-2zM29 663h3v1h-3zM27 664h2v1h-2zM24 665h3v1h-3zM22 666h2v1h-2zM19 667h3v1h-3zM17 668h2v1h-2zM15 669h2v1h-2z" fill="#00ff00"/>
<path d="M1465 202h2v1h-2zM1463 203h2v1h-2zM1461 204h2v1h-2zM1459 205h2v1h-2zM1457 206h2v1h-2zM1456 207h1v1h-1zM1454 208h2v1h-2zM1452 209h2v1h-2zM1451 210h1v1h-1zM1449 211h2v1h-2zM1448 212h1v1h-1zM1446 213h2v1h-2zM1444 214h2v1h-2zM1442 215h2v1h-2zM1440 216h2v1h-2zM1438 217h2v1h-2zM1436 218h2v1h-2zM1434 219h2v1h-2zM1432 220h2v1h-2zM1430 221h2v1h-2zM1428 222h2v1h-2zM1424 223h4v1h-4zM1420 224h4v1h-4zM1416 225h4v1h-4zM1412 226h4v1h-4zM1408 227h4v1h-4zM1404 228h4v1h-4zM1401 229h3v1h-3zM1397 230h4v1h-4zM1394 231h3v1h-3zM1390 232h4v1h-4zM1386 233h4v1h-4zM1382 234h4v1h-4zM1378 235h4v1h-4zM1374 236h4v1h-4zM1370 237h4v1h-4zM1366 238h4v1h-4zM1362 239h4v1h-4zM1359 240h3v1h-3zM1355 241h4v1h-4zM1352 242h3v1h-3zM1349 243h3v1h-3zM1345 244h4v1h-4zM1320 245h8v1h-8zM1338 245h7v1h-7zM1312 246h8v1h-8zM1328 246h10v1h-10zM1305 247h7v1h-7zM1299 248h6v1h-6zM1293 249h6v1h-6zM1288 250h5v1h-5zM1285 251h3v1h-3zM1281 252h4v1h-4zM1278 253h3v1h-3zM1086 254h14v1h-14zM1273 254h5v1h-5zM1074 255h12v1h-12zM1100 255h34v1h-34zM1202 255h15v1h-15zM1267 255h6v1h-6zM1064 256h10v1h-10zM1134 256h10v1h-10zM1186 256h16v1h-16zM1217 256h6v1h-6zM1261 256h6v1h-6zM1050 257h14v1h-14zM1144 257h42v1h-42zM1223 257h9v1h-9zM1248 257h13v1h-13zM1036 258h14v1h-14zM1232 258h16v1h-16zM1028 259h8v1h-8zM1022 260h6v1h-6zM1017 261h5v1h-5zM1013 262h4v1h-4zM1008 263h5v1h-5zM1003 264h5v1h-5zM998 265h5v1h-5zM992 266h6v1h-6zM987 267h5v1h-5zM983 268h4v1h-4zM925 269h17v1h-17zM979 269h4v1h-4zM920 270h5v1h-5zM942 270h10v1h-10zM975 270h4v1h-4zM917 271h3v1h-3zM952 271h23v1h-23zM915 272h2v1h-2zM912 273h3v1h-3zM909 274h3v1h-3zM907 275h2v1h-2zM904 276h3v1h-3zM901 277h3v1h-3zM897 278h4v1h-4zM893 279h4v1h-4zM889 280h4v1h-4zM885 281h4v1h-4zM822 282h18v1h-18zM881 282h4v1h-4zM819 283h3v1h-3zM840 283h9v1h-9zM876 283h5v1h-5zM816 284h3v1h-3zM849 284h12v1h-12zM872 284h4v1h-4zM813 285h3v1h-3zM861 285h11v1h-11zM810 286h3v1h-3zM808 287h2v1h-2zM806 288h2v1h-2zM804 289h2v1h-2zM802 290h2v1h-2zM800 291h2v1h-2zM798 292h2v1h-2zM795 293h3v1h-3zM792 294h3v1h-3zM789 295h3v1h-3zM787 296h2v1h-2zM784 297h3v1h-3zM781 298h3v1h-3zM778 299h3v1h-3zM776 300h2v1h-2zM773 301h3v1h-3zM770 302h3v1h-3zM768 303h2v1h-2zM765 304h3v1h-3zM763 305h2v1h-2zM761 306h2v1h-2zM759 307h2v1h-2zM757 308h2v1h-2zM756 309h1v1h-1zM754 310h2v1h-2zM752 311h2v1h-2zM751 312h1v1h-1zM749 313h2v1h-2zM747 314h2v1h-2zM746 315h1v1h-1zM744 316h2v1h-2zM742 317h2v1h-2zM741 318h1v1h-1zM739 319h2v1h-2zM738 320h1v1h-1zM736 321h2v1h-2zM735 322h1v1h-1zM734 323h1v1h-1zM732 324h2v1h-2zM731 325h1v1h-1zM729 326h2v1h-2zM727 327h2v1h-2zM726 328h1v1h-1zM724 329h2v1h-2zM723 330h1v1h-1zM721 331h2v1h-2zM719 332h2v1h-2zM718 333h1v1h-1zM716 334h2v1h-2zM714 335h2v1h-2zM712 336h2v1h-2zM710 337h2v1h-2zM708 338h2v1h-2zM706 339h2v1h-2zM704 340h2v1h-2zM702 341h2v1h-2zM700 342h2v1h-2zM698 343h2v1h-2zM697 344h1v1h-1zM695 345h2v1h-2zM693 346h2v1h-2zM691 347h2v1h-2zM690 348h1v1h-1zM688 349h2v1h-2zM686 350h2v1h-2zM684 351h2v1h-2zM682 352h2v1h-2zM680 353h2v1h-2zM678 354h2v1h-2zM676 355h2v1h-2zM674 356h2v1h-2zM672 357h2v1h-2zM670 358h2v1h-2zM668 359h2v1h-2zM666 360h2v1h-2zM664 361h2v1h-2zM662 362h2v1h-2zM659 363h3v1h-3zM655 364h4v1h-4zM651 365h4v1h-4zM647 366h4v1h-4zM643 367h4v1h-4zM639 368h4v1h-4zM636 369h3v1h-3zM634 370h2v1h-2zM631 371h3v1h-3zM628 372h3v1h-3zM626 373h2v1h-2zM622 374h4v1h-4zM617 375h5v1h-5zM612 376h5v1h-5zM608 377h4v1h-4zM603 378h5v1h-5zM599 379h4v1h-4zM596 380h3v1h-3zM594 381h2v1h-2zM591 382h3v1h-3zM587 383h4v1h-4zM583 384h4v1h-4zM579 385h4v1h-4zM575 386h4v1h-4zM573 387h2v1h-2zM571 388h2v1h-2zM569 389h2v1h-2zM566 390h3v1h-3zM564 391h2v1h-2zM561 392h3v1h-3zM559 393h2v1h-2zM556 394h3v1h-3zM553 395h3v1h-3zM551 396h2v1h-2zM548 397h3v1h-3zM546 398h2v1h-2zM543 399h3v1h-3zM541 400h2v1h-2zM539 401h2v1h-2zM536 402h3v1h-3zM534 403h2v1h-2zM532 404h2v1h-2zM530 405h2v1h-2zM527 406h3v1h-3zM525 407h2v1h-2zM523 408h2v1h-2zM521 409h2v1h-2zM519 410h2v1h-2zM517 411h2v1h-2zM515 412h2v1h-2zM513 413h2v1h-2zM511 414h2v1h-2zM509 415h2v1h-2zM507 416h2v1h-2zM505 417h2v1h-2zM503 418h2v1h-2zM501 419h2v1h-2zM499 420h2v1h-2zM497 421h2v1h-2zM495 422h2v1h-2zM493 423h2v1h-2zM491 424h2v1h-2zM489 425h2v1h-2zM487 426h2v1h-2zM485 427h2v1h-2zM483 428h2v1h-2zM481 429h2v1h-2zM479 430h2v1h-2zM476 431h3v1h-3zM474 432h2v1h-2zM471 433h3v1h-3zM468 434h3v1h-3zM466 435h2v1h-2zM463 436h3v1h-3zM460 437h3v1h-3zM458 438h2v1h-2zM455 439h3v1h-3zM451 440h4v1h-4zM447 441h4v1h-4zM443 442h4v1h-4zM439 443h4v1h-4zM435 444h4v1h-4zM431 445h4v1h-4zM427 446h4v1h-4zM423 447h4v1h-4zM419 448h4v1h-4zM416 449h3v1h-3zM414 450h2v1h-2zM412 451h2v1h-2zM410 452h2v1h-2zM408 453h2v1h-2zM406 454h2v1h-2zM403 455h3v1h-3zM399 456h4v1h-4zM395 457h4v1h-4zM391 458h4v1h-4zM387 459h4v1h-4zM383 460h4v1h-4zM381 461h2v1h-2zM378 462h3v1h-3zM375 463h3v1h-3zM373 464h2v1h-2zM370 465h3v1h-3zM368 466h2v1h-2zM365 467h3v1h-3zM362 468h3v1h-3zM360 469h2v1h-2zM357 470h3v1h-3zM354 471h3v1h-3zM352 472h2v1h-2zM349 473h3v1h-3zM346 474h3v1h-3zM344 475h2v1h-2zM342 476h2v1h-2zM340 477h2v1h-2zM338 478h2v1h-2zM335 479h3v1h-3zM333 480h2v1h-2zM331 481h2v1h-2zM329 482h2v1h-2zM327 483h2v1h-2zM325 484h2v1h-2zM323 485h2v1h-2zM321 486h2v1h-2zM319 487h2v1h-2zM317 488h2v1h-2zM315 489h2v1h-2zM313 490h2v1h-2zM311 491h2v1h-2zM309 492h2v1h-2zM308 493h1v1h-1zM306 494h2v1h-2zM305 495h1v1h-1zM304 496h1v1h-1zM302 497h2v1h-2zM301 498h1v1h-1zM300 499h1v1h-1zM298 500h2v1h-2zM297 501h1v1h-1zM296 502h1v1h-1zM294 503h2v1h-2zM293 504h1v1h-1zM291 505h2v1h-2zM290 506h1v1h-1zM288 507h2v1h-2zM287 508h1v1h-1zM285 509h2v1h-2zM284 510h1v1h-1zM282 511h2v1h-2zM281 512h1v1h-1zM279 513h2v1h-2zM278 514h1v1h-1zM276 515h2v1h-2zM274 516h2v1h-2zM272 517h2v1h-2zM270 518h2v1h-2zM268 519h2v1h-2zM265 520h3v1h-3zM263 521h2v1h-2zM261 522h2v1h-2zM258 523h3v1h-3zM256 524h2v1h-2zM254 525h2v1h-2zM252 526h2v1h-2zM249 527h3v1h-3zM247 528h2v1h-2zM244 529h3v1h-3zM242 530h2v1h-2zM239 531h3v1h-3zM236 532h3v1h-3zM233 533h3v1h-3zM229 534h4v1h-4zM226 535h3v1h-3zM223 536h3v1h-3zM220 537h3v1h-3zM217 538h3v1h-3zM213 539h4v1h-4zM210 540h3v1h-3zM207 541h3v1h-3zM203 542h4v1h-4zM199 543h4v1h-4zM195 544h4v1h-4zM190 545h5v1h-5zM186 546h4v1h-4zM181 547h5v1h-5zM177 548h4v1h-4zM173 549h4v1h-4zM169 550h4v1h-4zM166 551h3v1h-3zM162 552h4v1h-4zM159 553h3v1h-3zM156 554h3v1h-3zM153 555h3v1h-3zM149 556h4v1h-4zM145 557h4v1h-4zM141 558h4v1h-4zM138 559h3v1h-3zM134 560h4v1h-4zM130 561h4v1h-4zM127 562h3v1h-3zM124 563h3v1h-3zM120 564h4v1h-4zM117 565h3v1h-3zM114 566h3v1h-3zM112 567h2v1h-2zM110 568h2v1h-2zM107 569h3v1h-3zM105 570h2v1h-2zM102 571h3v1h-3zM100 572h2v1h-2zM98 573h2v1h-2zM96 574h2v1h-2zM94 575h2v1h-2zM92 576h2v1h-2zM90 577h2v1h-2zM89 578h1v1h-1zM87 579h2v1h-2zM85 580h2v1h-2zM83 581h2v1h-2zM82 582h1v1h-1zM80 583h2v1h-2zM78 584h2v1h-2zM76 585h2v1h-2zM75 586h1v1h-1zM73 587h2v1h-2zM72 588h1v1h-1zM71 589h1v1h-1zM69 590h2v1h-2zM68 591h1v1h-1zM67 592h1v1h-1zM65 593h2v1h-2zM64 594h1v1h-1zM63 595h1v1h-1zM61 596h2v1h-2zM60 597h1v1h-1zM58 598h2v1h-2zM55 599h3v1h-3zM51 600h4v1h-4zM48 601h3v1h-3zM45 602h3v1h-3zM42 603h3v1h-3zM40 604h2v1h-2zM38 605h2v1h-2zM35 606h3v1h-3zM33 607h2v1h-2zM31 608h2v1h-2zM28 609h3v1h-3zM26 610h2v1h-2zM24 611h2v1h-2zM22 612h2v1h-2zM20 613h2v1h-2zM19 614h1v1h-1zM17 615h2v1h-2zM15 616h2v1h-2zM14 617h1v1h-1zM12 618h2v1h-2zM9 619h3v1h-3zM5 620h4v1h-4zM3 621h2v1h-2z" fill="#ff0000"/>
<path d="M1466 164h1v1h-1zM1464 165h2v1h-2zM1463 166h1v1h-1zM1462 167h1v1h-1zM1460 168h2v1h-2zM1459 169h1v1h-1zM1458 170h1v1h-1zM1457 171h1v1h-1zM1456 172h1v1h-1zM1455 173h1v1h-1zM1454 174h1v1h-1zM1454 175h1v1h-1zM1453 176h1v1h-1zM1452 177h1v1h-1zM1451 178h1v1h-1zM1450 179h1v1h-1zM1449 180h1v1h-1zM1448 181h1v1h-1zM1447 182h1v1h-1zM1447 183h1v1h-1zM1446 184h1v1h-1zM1445 185h1v1h-1zM1444 186h1v1h-1zM1443 187h1v1h-1zM1442 188h1v1h-1zM1440 189h2v1h-2zM1439 190h1v1h-1zM1438 191h1v1h-1zM1436 192h2v1h-2zM1435 193h1v1h-1zM1434 194h1v1h-1zM1432 195h2v1h-2zM1430 196h2v1h-2zM1429 197h1v1h-1zM1427 198h2v1h-2zM1425 199h2v1h-2zM1423 200h2v1h-2zM1421 201h2v1h-2zM1419 202h2v1h-2zM1417 203h2v1h-2zM1415 204h2v1h-2zM1413 205h2v1h-2zM1410 206h3v1h-3zM1407 207h3v1h-3zM1403 208h4v1h-4zM1400 209h3v1h-3zM1397 210h3v1h-3zM1395 211h2v1h-2zM1393 212h2v1h-2zM1391 213h2v1h-2zM1389 214h2v1h-2zM1387 215h2v1h-2zM1385 216h2v1h-2zM1383 217h2v1h-2zM1381 218h2v1h-2zM1379 219h2v1h-2zM1376 220h3v1h-3zM1372 221h4v1h-4zM1368 222h4v1h-4zM1365 223h3v1h-3zM1363 224h2v1h-2zM1361 225h2v1h-2zM1359 226h2v1h-2zM1357 227h2v1h-2zM1356 228h1v1h-1zM1354 229h2v1h-2zM1353 230h1v1h-1zM1351 231h2v1h-2zM814 232h11v1h-11zM1350 232h1v1h-1zM810 233h4v1h-4zM825 233h3v1h-3zM1322 233h3v1h-3zM1348 233h2v1h-2zM808 234h2v1h-2zM828 234h2v1h-2zM1318 234h4v1h-4zM1325 234h2v1h-2zM1346 234h2v1h-2zM806 235h2v1h-2zM830 235h2v1h-2zM1314 235h4v1h-4zM1327 235h2v1h-2zM1343 235h3v1h-3zM804 236h2v1h-2zM832 236h2v1h-2zM1310 236h4v1h-4zM1329 236h5v1h-5zM1340 236h3v1h-3zM801 237h3v1h-3zM834 237h2v1h-2zM1305 237h5v1h-5zM1334 237h6v1h-6zM799 238h2v1h-2zM836 238h2v1h-2zM1299 238h6v1h-6zM796 239h3v1h-3zM838 239h1v1h-1zM1036 239h10v1h-10zM1059 239h23v1h-23zM1296 239h3v1h-3zM794 240h2v1h-2zM839 240h1v1h-1zM926 240h6v1h-6zM1028 240h8v1h-8zM1046 240h13v1h-13zM1082 240h6v1h-6zM1294 240h2v1h-2zM789 241h5v1h-5zM840 241h1v1h-1zM920 241h6v1h-6zM932 241h4v1h-4zM1023 241h5v1h-5zM1088 241h6v1h-6zM1292 241h2v1h-2zM783 242h6v1h-6zM840 242h1v1h-1zM918 242h2v1h-2zM936 242h2v1h-2zM1020 242h3v1h-3zM1094 242h5v1h-5zM1290 242h2v1h-2zM778 243h5v1h-5zM841 243h1v1h-1zM915 243h3v1h-3zM938 243h2v1h-2zM1016 243h4v1h-4zM1099 243h5v1h-5zM1288 243h2v1h-2zM776 244h2v1h-2zM842 244h1v1h-1zM913 244h2v1h-2zM940 244h2v1h-2zM1013 244h3v1h-3zM1104 244h7v1h-7zM1286 244h2v1h-2zM774 245h2v1h-2zM843 245h1v1h-1zM911 245h2v1h-2zM942 245h2v1h-2zM1009 245h4v1h-4zM1111 245h8v1h-8zM1284 245h2v1h-2zM772 246h2v1h-2zM844 246h2v1h-2zM908 246h3v1h-3zM944 246h2v1h-2zM1005 246h4v1h-4zM1119 246h6v1h-6zM1283 246h1v1h-1zM770 247h2v1h-2zM846 247h2v1h-2zM906 247h2v1h-2zM946 247h3v1h-3zM1001 247h4v1h-4zM1125 247h3v1h-3zM1281 247h2v1h-2zM768 248h2v1h-2zM848 248h2v1h-2zM904 248h2v1h-2zM949 248h2v1h-2zM996 248h5v1h-5zM1128 248h4v1h-4zM1280 248h1v1h-1zM765 249h3v1h-3zM850 249h1v1h-1zM902 249h2v1h-2zM951 249h3v1h-3zM991 249h5v1h-5zM1132 249h3v1h-3zM1278 249h2v1h-2zM762 250h3v1h-3zM851 250h2v1h-2zM900 250h2v1h-2zM954 250h3v1h-3zM987 250h4v1h-4zM1135 250h4v1h-4zM1277 250h1v1h-1zM759 251h3v1h-3zM853 251h2v1h-2zM898 251h2v1h-2zM957 251h2v1h-2zM983 251h4v1h-4zM1139 251h4v1h-4zM1199 251h18v1h-18zM1275 251h2v1h-2zM757 252h2v1h-2zM855 252h2v1h-2zM895 252h3v1h-3zM959 252h3v1h-3zM981 252h2v1h-2zM1143 252h4v1h-4zM1190 252h9v1h-9zM1217 252h3v1h-3zM1273 252h2v1h-2zM754 253h3v1h-3zM857 253h2v1h-2zM893 253h2v1h-2zM962 253h3v1h-3zM979 253h2v1h-2zM1147 253h8v1h-8zM1168 253h9v1h-9zM1187 253h3v1h-3zM1220 253h2v1h-2zM1270 253h3v1h-3zM752 254h2v1h-2zM859 254h3v1h-3zM890 254h3v1h-3zM965 254h4v1h-4zM974 254h5v1h-5zM1155 254h13v1h-13zM1177 254h4v1h-4zM1184 254h3v1h-3zM1222 254h3v1h-3zM1268 254h2v1h-2zM751 255h1v1h-1zM862 255h2v1h-2zM887 255h3v1h-3zM969 255h5v1h-5zM1181 255h3v1h-3zM1225 255h3v1h-3zM1262 255h6v1h-6zM749 256h2v1h-2zM864 256h3v1h-3zM885 256h2v1h-2zM1228 256h3v1h-3zM1255 256h7v1h-7zM748 257h1v1h-1zM867 257h3v1h-3zM881 257h4v1h-4zM1231 257h4v1h-4zM1249 257h6v1h-6zM747 258h1v1h-1zM870 258h4v1h-4zM877 258h4v1h-4zM1235 258h14v1h-14zM746 259h1v1h-1zM874 259h3v1h-3zM745 260h1v1h-1zM743 261h2v1h-2zM742 262h1v1h-1zM741 263h1v1h-1zM740 264h1v1h-1zM739 265h1v1h-1zM738 266h1v1h-1zM737 267h1v1h-1zM736 268h1v1h-1zM735 269h1v1h-1zM734 270h1v1h-1zM733 271h1v1h-1zM732 272h1v1h-1zM731 273h1v1h-1zM730 274h1v1h-1zM728 275h2v1h-2zM727 276h1v1h-1zM726 277h1v1h-1zM725 278h1v1h-1zM724 279h1v1h-1zM723 280h1v1h-1zM722 281h1v1h-1zM720 282h2v1h-2zM719 283h1v1h-1zM718 284h1v1h-1zM717 285h1v1h-1zM715 286h2v1h-2zM713 287h2v1h-2zM711 288h2v1h-2zM709 289h2v1h-2zM707 290h2v1h-2zM705 291h2v1h-2zM704 292h1v1h-1zM703 293h1v1h-1zM701 294h2v1h-2zM700 295h1v1h-1zM699 296h1v1h-1zM698 297h1v1h-1zM696 298h2v1h-2zM695 299h1v1h-1zM694 300h1v1h-1zM693 301h1v1h-1zM692 302h1v1h-1zM690 303h2v1h-2zM689 304h1v1h-1zM688 305h1v1h-1zM687 306h1v1h-1zM685 307h2v1h-2zM684 308h1v1h-1zM683 309h1v1h-1zM681 310h2v1h-2zM680 311h1v1h-1zM679 312h1v1h-1zM677 313h2v1h-2zM676 314h1v1h-1zM675 315h1v1h-1zM673 316h2v1h-2zM672 317h1v1h-1zM670 318h2v1h-2zM668 319h2v1h-2zM665 320h3v1h-3zM662 321h3v1h-3zM660 322h2v1h-2zM657 323h3v1h-3zM655 324h2v1h-2zM651 325h4v1h-4zM647 326h4v1h-4zM643 327h4v1h-4zM639 328h4v1h-4zM637 329h2v1h-2zM636 330h1v1h-1zM634 331h2v1h-2zM633 332h1v1h-1zM632 333h1v1h-1zM630 334h2v1h-2zM629 335h1v1h-1zM595 336h34v1h-34zM575 337h20v1h-20zM572 338h3v1h-3zM569 339h3v1h-3zM567 340h2v1h-2zM565 341h2v1h-2zM563 342h2v1h-2zM561 343h2v1h-2zM559 344h2v1h-2zM557 345h2v1h-2zM555 346h2v1h-2zM552 347h3v1h-3zM550 348h2v1h-2zM547 349h3v1h-3zM545 350h2v1h-2zM542 351h3v1h-3zM540 352h2v1h-2zM537 353h3v1h-3zM535 354h2v1h-2zM532 355h3v1h-3zM530 356h2v1h-2zM527 357h3v1h-3zM525 358h2v1h-2zM523 359h2v1h-2zM521 360h2v1h-2zM519 361h2v1h-2zM517 362h2v1h-2zM515 363h2v1h-2zM513 364h2v1h-2zM511 365h2v1h-2zM509 366h2v1h-2zM508 367h1v1h-1zM507 368h1v1h-1zM506 369h1v1h-1zM504 370h2v1h-2zM503 371h1v1h-1zM502 372h1v1h-1zM501 373h1v1h-1zM500 374h1v1h-1zM499 375h1v1h-1zM498 376h1v1h-1zM496 377h2v1h-2zM495 378h1v1h-1zM494 379h1v1h-1zM493 380h1v1h-1zM491 381h2v1h-2zM489 382h2v1h-2zM488 383h1v1h-1zM486 384h2v1h-2zM484 385h2v1h-2zM482 386h2v1h-2zM480 387h2v1h-2zM478 388h2v1h-2zM475 389h3v1h-3zM473 390h2v1h-2zM470 391h3v1h-3zM468 392h2v1h-2zM466 393h2v1h-2zM462 394h4v1h-4zM457 395h5v1h-5zM453 396h4v1h-4zM449 397h4v1h-4zM447 398h2v1h-2zM445 399h2v1h-2zM443 400h2v1h-2zM433 401h10v1h-10zM422 402h11v1h-11zM417 403h5v1h-5zM413 404h4v1h-4zM408 405h5v1h-5zM402 406h6v1h-6zM395 407h7v1h-7zM389 408h6v1h-6zM384 409h5v1h-5zM380 410h4v1h-4zM376 411h4v1h-4zM372 412h4v1h-4zM368 413h4v1h-4zM365 414h3v1h-3zM362 415h3v1h-3zM359 416h3v1h-3zM355 417h4v1h-4zM352 418h3v1h-3zM349 419h3v1h-3zM346 420h3v1h-3zM344 421h2v1h-2zM342 422h2v1h-2zM340 423h2v1h-2zM337 424h3v1h-3zM335 425h2v1h-2zM333 426h2v1h-2zM331 427h2v1h-2zM329 428h2v1h-2zM327 429h2v1h-2zM326 430h1v1h-1zM324 431h2v1h-2zM323 432h1v1h-1zM321 433h2v1h-2zM319 434h2v1h-2zM318 435h1v1h-1zM316 436h2v1h-2zM315 437h1v1h-1zM313 438h2v1h-2zM312 439h1v1h-1zM310 440h2v1h-2zM309 441h1v1h-1zM308 442h1v1h-1zM307 443h1v1h-1zM306 444h1v1h-1zM305 445h1v1h-1zM304 446h1v1h-1zM303 447h1v1h-1zM302 448h1v1h-1zM301 449h1v1h-1zM300 450h1v1h-1zM299 451h1v1h-1zM298 452h1v1h-1zM297 453h1v1h-1zM296 454h1v1h-1zM295 455h1v1h-1zM294 456h1v1h-1zM293 457h1v1h-1zM292 458h1v1h-1zM291 459h1v1h-1zM290 460h1v1h-1zM289 461h1v1h-1zM288 462h1v1h-1zM286 463h2v1h-2zM285 464h1v1h-1zM284 465h1v1h-1zM283 466h1v1h-1zM282 467h1v1h-1zM280 468h2v1h-2zM279 469h1v1h-1zM277 470h2v1h-2zM276 471h1v1h-1zM274 472h2v1h-2zM273 473h1v1h-1zM271 474h2v1h-2zM270 475h1v1h-1zM268 476h2v1h-2zM267 477h1v1h-1zM265 478h2v1h-2zM264 479h1v1h-1zM262 480h2v1h-2zM261 481h1v1h-1zM259 482h2v1h-2zM258 483h1v1h-1zM256 484h2v1h-2zM255 485h1v1h-1zM253 486h2v1h-2zM252 487h1v1h-1zM250 488h2v1h-2zM249 489h1v1h-1zM247 490h2v1h-2zM246 491h1v1h-1zM244 492h2v1h-2zM243 493h1v1h-1zM241 494h2v1h-2zM239 495h2v1h-2zM236 496h3v1h-3zM234 497h2v1h-2zM231 498h3v1h-3zM228 499h3v1h-3zM226 500h2v1h-2zM223 501h3v1h-3zM220 502h3v1h-3zM217 503h3v1h-3zM213 504h4v1h-4zM210 505h3v1h-3zM207 506h3v1h-3zM204 507h3v1h-3zM201 508h3v1h-3zM197 509h4v1h-4zM194 510h3v1h-3zM191 511h3v1h-3zM168 512h23v1h-23zM162 513h6v1h-6zM156 514h6v1h-6zM149 515h7v1h-7zM139 516h10v1h-10zM133 517h6v1h-6zM130 518h3v1h-3zM127 519h3v1h-3zM123 520h4v1h-4zM120 521h3v1h-3zM117 522h3v1h-3zM114 523h3v1h-3zM112 524h2v1h-2zM110 525h2v1h-2zM108 526h2v1h-2zM106 527h2v1h-2zM104 528h2v1h-2zM102 529h2v1h-2zM100 530h2v1h-2zM99 531h1v1h-1zM98 532h1v1h-1zM97 533h1v1h-1zM96 534h1v1h-1zM95 535h1v1h-1zM94 536h1v1h-1zM93 537h1v1h-1zM92 538h1v1h-1zM91 539h1v1h-1zM89 540h2v1h-2zM88 541h1v1h-1zM87 542h1v1h-1zM86 543h1v1h-1zM85 544h1v1h-1zM84 545h1v1h-1zM83 546h1v1h-1zM82 547h1v1h-1zM81 548h1v1h-1zM80 549h1v1h-1zM79 550h1v1h-1zM78 551h1v1h-1zM77 552h1v1h-1zM75 553h2v1h-2zM74 554h1v1h-1zM73 555h1v1h-1zM72 556h1v1h-1zM71 557h1v1h-1zM70 558h1v1h-1zM70 559h1v1h-1zM69 560h1v1h-1zM68 561h1v1h-1zM68 562h1v1h-1zM67 563h1v1h-1zM66 564h1v1h-1zM66 565h1v1h-1zM65 566h1v1h-1zM64 567h1v1h-1zM63 568h1v1h-1zM63 569h1v1h-1zM62 570h1v1h-1zM61 571h1v1h-1zM61 572h1v1h-1zM59 573h2v1h-2zM57 574h2v1h-2zM54 575h3v1h-3zM52 576h2v1h-2zM50 577h2v1h-2zM47 578h3v1h-3zM45 579h2v1h-2zM43 580h2v1h-2zM42 581h1v1h-1zM41 582h1v1h-1zM39 583h2v1h-2zM38 584h1v1h-1zM37 585h1v1h-1zM36 586h1v1h-1zM35 587h1v1h-1zM34 588h1v1h-1zM33 589h1v1h-1zM31 590h2v1h-2zM30 591h1v1h-1zM29 592h1v1h-1zM28 593h1v1h-1zM27 594h1v1h-1zM26 595h1v1h-1zM25 596h1v1h-1zM24 597h1v1h-1zM23 598h1v1h-1zM23 599h1v1h-1zM22 600h1v1h-1zM21 601h1v1h-1zM20 602h1v1h-1zM19 603h1v1h-1zM18 604h1v1h-1zM17 605h1v1h-1zM17 606h1v1h-1zM16 607h1v1h-1zM15 608h1v1h-1zM14 609h1v1h-1zM13 610h1v1h-1zM13 611h1v1h-1zM12 612h1v1h-1zM11 613h1v1h-1zM9 614h2v1h-2zM7 615h2v1h-2zM6 616h1v1h-1zM4 617h2v1h-2zM3 618h1v1h-1z" fill="#ffff00"/>
</g>
<g stroke="#00b4ff" stroke-linecap="butt" fill="none" shape-rendering="crispEdges">
<line x1="251" y1="669.6" x2="1668" y2="196.3" stroke-width="2.3"/>
<line x1="1339.5" y1="305.5" x2="1555.4" y2="25.6" stroke-width="2.2"/>
</g>
<g shape-rendering="crispEdges">
<rect x="3" y="84" width="1862" height="1" fill="#fff"/>
<line x1="3" y1="84.5" x2="1865" y2="84.5" stroke="#000" stroke-width="1" stroke-dasharray="9 6 3 6"/>
<rect x="3" y="151" width="1862" height="1" fill="#fff"/>
<line x1="3" y1="151.5" x2="1865" y2="151.5" stroke="#000" stroke-width="1" stroke-dasharray="9 6 3 6"/>
<rect x="3" y="190" width="1862" height="1" fill="#fff"/>
<line x1="3" y1="190.5" x2="1865" y2="190.5" stroke="#000" stroke-width="1" stroke-dasharray="9 6 3 6"/>
<rect x="3" y="231" width="1862" height="1" fill="#fff"/>
<line x1="3" y1="231.5" x2="1865" y2="231.5" stroke="#000" stroke-width="1" stroke-dasharray="9 6 3 6"/>
<rect x="3" y="305" width="1862" height="1" fill="#fff"/>
<line x1="3" y1="305.5" x2="1865" y2="305.5" stroke="#000" stroke-width="1" stroke-dasharray="9 6 3 6"/>
<rect x="3" y="325" width="1862" height="1" fill="#fff"/>
<line x1="3" y1="325.5" x2="1865" y2="325.5" stroke="#000" stroke-width="1" stroke-dasharray="9 6 3 6"/>
<rect x="1506" y="84" width="18" height="1" fill="#000"/>
<rect x="1554" y="231" width="18" height="1" fill="#000"/>
</g>
<g shape-rendering="crispEdges">
<rect x="3" y="565" width="1" height="9" fill="#00b0d8"/>
<rect x="3" y="590" width="1" height="4" fill="#00b0d8"/>
<rect x="1" y="574" width="5" height="16" fill="#00b0d8"/>
<rect x="2" y="575" width="3" height="14" fill="#fff"/>
<rect x="11" y="545" width="1" height="17" fill="#00b0d8"/>
<rect x="11" y="574" width="1" height="28" fill="#00b0d8"/>
<rect x="9" y="562" width="5" height="12" fill="#00b0d8"/>
<rect x="10" y="563" width="3" height="10" fill="#fff"/>
<rect x="19" y="484" width="1" height="4" fill="#00b0d8"/>
<rect x="19" y="563" width="1" height="12" fill="#00b0d8"/>
<rect x="17" y="488" width="5" height="75" fill="#00b0d8"/>
<rect x="18" y="489" width="3" height="73" fill="#fff"/>
<rect x="27" y="494" width="1" height="6" fill="#3c3c3c"/>
<rect x="27" y="506" width="1" height="1" fill="#3c3c3c"/>
<rect x="25" y="500" width="5" height="6" fill="#3c3c3c"/>
<rect x="35" y="503" width="1" height="2" fill="#3c3c3c"/>
<rect x="35" y="524" width="1" height="7" fill="#3c3c3c"/>
<rect x="33" y="505" width="5" height="19" fill="#3c3c3c"/>
<rect x="43" y="517" width="1" height="6" fill="#3c3c3c"/>
<rect x="43" y="530" width="1" height="20" fill="#3c3c3c"/>
<rect x="41" y="523" width="5" height="7" fill="#3c3c3c"/>
<rect x="51" y="508" width="1" height="22" fill="#3c3c3c"/>
<rect x="51" y="533" width="1" height="12" fill="#3c3c3c"/>
<rect x="49" y="530" width="5" height="3" fill="#3c3c3c"/>
<rect x="59" y="487" width="1" height="44" fill="#00b0d8"/>
<rect x="59" y="533" width="1" height="15" fill="#00b0d8"/>
<rect x="57" y="531" width="5" height="2" fill="#00b0d8"/>
<rect x="67" y="459" width="1" height="10" fill="#00b0d8"/>
<rect x="67" y="532" width="1" height="6" fill="#00b0d8"/>
<rect x="65" y="469" width="5" height="63" fill="#00b0d8"/>
<rect x="66" y="470" width="3" height="61" fill="#fff"/>
<rect x="75" y="442" width="1" height="19" fill="#00b0d8"/>
<rect x="75" y="469" width="1" height="7" fill="#00b0d8"/>
<rect x="73" y="461" width="5" height="8" fill="#00b0d8"/>
<rect x="74" y="462" width="3" height="6" fill="#fff"/>
<rect x="83" y="458" width="1" height="3" fill="#3c3c3c"/>
<rect x="83" y="467" width="1" height="13" fill="#3c3c3c"/>
<rect x="81" y="461" width="5" height="6" fill="#3c3c3c"/>
<rect x="91" y="450" width="1" height="7" fill="#00b0d8"/>
<rect x="89" y="457" width="5" height="10" fill="#00b0d8"/>
<rect x="90" y="458" width="3" height="8" fill="#fff"/>
<rect x="99" y="444" width="1" height="13" fill="#3c3c3c"/>
<rect x="99" y="460" width="1" height="2" fill="#3c3c3c"/>
<rect x="97" y="457" width="5" height="3" fill="#3c3c3c"/>
<rect x="107" y="459" width="1" height="1" fill="#3c3c3c"/>
<rect x="107" y="491" width="1" height="15" fill="#3c3c3c"/>
<rect x="105" y="460" width="5" height="31" fill="#3c3c3c"/>
<rect x="115" y="476" width="1" height="1" fill="#00b0d8"/>
<rect x="115" y="490" width="1" height="28" fill="#00b0d8"/>
<rect x="113" y="477" width="5" height="13" fill="#00b0d8"/>
<rect x="114" y="478" width="3" height="11" fill="#fff"/>
<rect x="123" y="469" width="1" height="8" fill="#3c3c3c"/>
<rect x="123" y="504" width="1" height="13" fill="#3c3c3c"/>
<rect x="121" y="477" width="5" height="27" fill="#3c3c3c"/>
<rect x="131" y="479" width="1" height="19" fill="#00b0d8"/>
<rect x="131" y="505" width="1" height="4" fill="#00b0d8"/>
<rect x="129" y="498" width="5" height="7" fill="#00b0d8"/>
<rect x="130" y="499" width="3" height="5" fill="#fff"/>
<rect x="139" y="488" width="1" height="10" fill="#3c3c3c"/>
<rect x="139" y="505" width="1" height="7" fill="#3c3c3c"/>
<rect x="137" y="498" width="5" height="7" fill="#3c3c3c"/>
<rect x="147" y="495" width="1" height="8" fill="#3c3c3c"/>
<rect x="147" y="513" width="1" height="4" fill="#3c3c3c"/>
<rect x="145" y="503" width="5" height="10" fill="#3c3c3c"/>
<rect x="155" y="467" width="1" height="26" fill="#00b0d8"/>
<rect x="155" y="511" width="1" height="4" fill="#00b0d8"/>
<rect x="153" y="493" width="5" height="18" fill="#00b0d8"/>
<rect x="154" y="494" width="3" height="16" fill="#fff"/>
<rect x="163" y="475" width="1" height="18" fill="#00b0d8"/>
<rect x="163" y="494" width="1" height="12" fill="#00b0d8"/>
<rect x="161" y="493" width="5" height="1" fill="#00b0d8"/>
<rect x="171" y="483" width="1" height="10" fill="#3c3c3c"/>
<rect x="171" y="506" width="1" height="6" fill="#3c3c3c"/>
<rect x="169" y="493" width="5" height="13" fill="#3c3c3c"/>
<rect x="179" y="495" width="1" height="10" fill="#3c3c3c"/>
<rect x="179" y="519" width="1" height="4" fill="#3c3c3c"/>
<rect x="177" y="505" width="5" height="14" fill="#3c3c3c"/>
<rect x="187" y="500" width="1" height="1" fill="#00b0d8"/>
<rect x="187" y="519" width="1" height="3" fill="#00b0d8"/>
<rect x="185" y="501" width="5" height="18" fill="#00b0d8"/>
<rect x="186" y="502" width="3" height="16" fill="#fff"/>
<rect x="195" y="489" width="1" height="12" fill="#3c3c3c"/>
<rect x="195" y="511" width="1" height="1" fill="#3c3c3c"/>
<rect x="193" y="501" width="5" height="10" fill="#3c3c3c"/>
<rect x="203" y="483" width="1" height="6" fill="#00b0d8"/>
<rect x="203" y="511" width="1" height="6" fill="#00b0d8"/>
<rect x="201" y="489" width="5" height="22" fill="#00b0d8"/>
<rect x="202" y="490" width="3" height="20" fill="#fff"/>
<rect x="211" y="469" width="1" height="5" fill="#00b0d8"/>
<rect x="209" y="474" width="5" height="17" fill="#00b0d8"/>
<rect x="210" y="475" width="3" height="15" fill="#fff"/>
<rect x="219" y="463" width="1" height="9" fill="#00b0d8"/>
<rect x="219" y="475" width="1" height="16" fill="#00b0d8"/>
<rect x="217" y="472" width="5" height="3" fill="#00b0d8"/>
<rect x="218" y="473" width="3" height="1" fill="#fff"/>
<rect x="227" y="467" width="1" height="5" fill="#3c3c3c"/>
<rect x="227" y="478" width="1" height="1" fill="#3c3c3c"/>
<rect x="225" y="472" width="5" height="6" fill="#3c3c3c"/>
<rect x="235" y="459" width="1" height="4" fill="#00b0d8"/>
<rect x="233" y="463" width="5" height="15" fill="#00b0d8"/>
<rect x="234" y="464" width="3" height="13" fill="#fff"/>
<rect x="243" y="464" width="1" height="5" fill="#00b0d8"/>
<rect x="241" y="455" width="5" height="9" fill="#00b0d8"/>
<rect x="242" y="456" width="3" height="7" fill="#fff"/>
<rect x="251" y="411" width="1" height="16" fill="#00b0d8"/>
<rect x="251" y="456" width="1" height="5" fill="#00b0d8"/>
<rect x="249" y="427" width="5" height="29" fill="#00b0d8"/>
<rect x="250" y="428" width="3" height="27" fill="#fff"/>
<rect x="259" y="436" width="1" height="6" fill="#3c3c3c"/>
<rect x="257" y="412" width="5" height="24" fill="#3c3c3c"/>
<rect x="267" y="412" width="1" height="7" fill="#00b0d8"/>
<rect x="265" y="419" width="5" height="18" fill="#00b0d8"/>
<rect x="266" y="420" width="3" height="16" fill="#fff"/>
<rect x="275" y="411" width="1" height="7" fill="#3c3c3c"/>
<rect x="275" y="423" width="1" height="9" fill="#3c3c3c"/>
<rect x="273" y="418" width="5" height="5" fill="#3c3c3c"/>
<rect x="283" y="424" width="1" height="2" fill="#00b0d8"/>
<rect x="281" y="407" width="5" height="17" fill="#00b0d8"/>
<rect x="282" y="408" width="3" height="15" fill="#fff"/>
<rect x="291" y="364" width="1" height="13" fill="#00b0d8"/>
<rect x="291" y="409" width="1" height="9" fill="#00b0d8"/>
<rect x="289" y="377" width="5" height="32" fill="#00b0d8"/>
<rect x="290" y="378" width="3" height="30" fill="#fff"/>
<rect x="299" y="346" width="1" height="29" fill="#00b0d8"/>
<rect x="299" y="376" width="1" height="3" fill="#00b0d8"/>
<rect x="297" y="375" width="5" height="1" fill="#00b0d8"/>
<rect x="307" y="359" width="1" height="2" fill="#00b0d8"/>
<rect x="307" y="375" width="1" height="7" fill="#00b0d8"/>
<rect x="305" y="361" width="5" height="14" fill="#00b0d8"/>
<rect x="306" y="362" width="3" height="12" fill="#fff"/>
<rect x="315" y="359" width="1" height="2" fill="#3c3c3c"/>
<rect x="315" y="389" width="1" height="5" fill="#3c3c3c"/>
<rect x="313" y="361" width="5" height="28" fill="#3c3c3c"/>
<rect x="323" y="378" width="1" height="5" fill="#00b0d8"/>
<rect x="323" y="389" width="1" height="10" fill="#00b0d8"/>
<rect x="321" y="383" width="5" height="6" fill="#00b0d8"/>
<rect x="322" y="384" width="3" height="4" fill="#fff"/>
<rect x="331" y="370" width="1" height="12" fill="#3c3c3c"/>
<rect x="331" y="383" width="1" height="20" fill="#3c3c3c"/>
<rect x="329" y="382" width="5" height="1" fill="#3c3c3c"/>
<rect x="339" y="365" width="1" height="12" fill="#00b0d8"/>
<rect x="339" y="383" width="1" height="12" fill="#00b0d8"/>
<rect x="337" y="377" width="5" height="6" fill="#00b0d8"/>
<rect x="338" y="378" width="3" height="4" fill="#fff"/>
<rect x="347" y="372" width="1" height="5" fill="#3c3c3c"/>
<rect x="347" y="391" width="1" height="4" fill="#3c3c3c"/>
<rect x="345" y="377" width="5" height="14" fill="#3c3c3c"/>
<rect x="355" y="386" width="1" height="4" fill="#00b0d8"/>
<rect x="355" y="391" width="1" height="20" fill="#00b0d8"/>
<rect x="353" y="390" width="5" height="1" fill="#00b0d8"/>
<rect x="363" y="381" width="1" height="9" fill="#3c3c3c"/>
<rect x="363" y="396" width="1" height="2" fill="#3c3c3c"/>
<rect x="361" y="390" width="5" height="6" fill="#3c3c3c"/>
<rect x="371" y="384" width="1" height="9" fill="#00b0d8"/>
<rect x="369" y="393" width="5" height="3" fill="#00b0d8"/>
<rect x="370" y="394" width="3" height="1" fill="#fff"/>
<rect x="379" y="385" width="1" height="8" fill="#3c3c3c"/>
<rect x="379" y="395" width="1" height="6" fill="#3c3c3c"/>
<rect x="377" y="393" width="5" height="2" fill="#3c3c3c"/>
<rect x="387" y="372" width="1" height="14" fill="#00b0d8"/>
<rect x="387" y="395" width="1" height="18" fill="#00b0d8"/>
<rect x="385" y="386" width="5" height="9" fill="#00b0d8"/>
<rect x="386" y="387" width="3" height="7" fill="#fff"/>
<rect x="395" y="386" width="1" height="1" fill="#3c3c3c"/>
<rect x="395" y="405" width="1" height="15" fill="#3c3c3c"/>
<rect x="393" y="387" width="5" height="18" fill="#3c3c3c"/>
<rect x="403" y="386" width="1" height="9" fill="#00b0d8"/>
<rect x="403" y="404" width="1" height="10" fill="#00b0d8"/>
<rect x="401" y="395" width="5" height="9" fill="#00b0d8"/>
<rect x="402" y="396" width="3" height="7" fill="#fff"/>
<rect x="411" y="376" width="1" height="4" fill="#00b0d8"/>
<rect x="411" y="395" width="1" height="2" fill="#00b0d8"/>
<rect x="409" y="380" width="5" height="15" fill="#00b0d8"/>
<rect x="410" y="381" width="3" height="13" fill="#fff"/>
<rect x="419" y="369" width="1" height="10" fill="#3c3c3c"/>
<rect x="419" y="382" width="1" height="3" fill="#3c3c3c"/>
<rect x="417" y="379" width="5" height="3" fill="#3c3c3c"/>
<rect x="427" y="376" width="1" height="5" fill="#3c3c3c"/>
<rect x="425" y="381" width="5" height="20" fill="#3c3c3c"/>
<rect x="435" y="390" width="1" height="10" fill="#3c3c3c"/>
<rect x="435" y="404" width="1" height="19" fill="#3c3c3c"/>
<rect x="433" y="400" width="5" height="4" fill="#3c3c3c"/>
<rect x="443" y="381" width="1" height="1" fill="#00b0d8"/>
<rect x="443" y="404" width="1" height="2" fill="#00b0d8"/>
<rect x="441" y="382" width="5" height="22" fill="#00b0d8"/>
<rect x="442" y="383" width="3" height="20" fill="#fff"/>
<rect x="451" y="357" width="1" height="4" fill="#00b0d8"/>
<rect x="451" y="382" width="1" height="7" fill="#00b0d8"/>
<rect x="449" y="361" width="5" height="21" fill="#00b0d8"/>
<rect x="450" y="362" width="3" height="19" fill="#fff"/>
<rect x="459" y="354" width="1" height="8" fill="#3c3c3c"/>
<rect x="459" y="378" width="1" height="5" fill="#3c3c3c"/>
<rect x="457" y="362" width="5" height="16" fill="#3c3c3c"/>
<rect x="467" y="365" width="1" height="1" fill="#00b0d8"/>
<rect x="467" y="378" width="1" height="3" fill="#00b0d8"/>
<rect x="465" y="366" width="5" height="12" fill="#00b0d8"/>
<rect x="466" y="367" width="3" height="10" fill="#fff"/>
<rect x="475" y="354" width="1" height="7" fill="#00b0d8"/>
<rect x="475" y="366" width="1" height="7" fill="#00b0d8"/>
<rect x="473" y="361" width="5" height="5" fill="#00b0d8"/>
<rect x="474" y="362" width="3" height="3" fill="#fff"/>
<rect x="483" y="336" width="1" height="21" fill="#00b0d8"/>
<rect x="483" y="362" width="1" height="11" fill="#00b0d8"/>
<rect x="481" y="357" width="5" height="5" fill="#00b0d8"/>
<rect x="482" y="358" width="3" height="3" fill="#fff"/>
<rect x="491" y="334" width="1" height="5" fill="#00b0d8"/>
<rect x="491" y="356" width="1" height="4" fill="#00b0d8"/>
<rect x="489" y="339" width="5" height="17" fill="#00b0d8"/>
<rect x="490" y="340" width="3" height="15" fill="#fff"/>
<rect x="499" y="294" width="1" height="12" fill="#00b0d8"/>
<rect x="497" y="306" width="5" height="34" fill="#00b0d8"/>
<rect x="498" y="307" width="3" height="32" fill="#fff"/>
<rect x="507" y="296" width="1" height="5" fill="#00b0d8"/>
<rect x="507" y="308" width="1" height="2" fill="#00b0d8"/>
<rect x="505" y="301" width="5" height="7" fill="#00b0d8"/>
<rect x="506" y="302" width="3" height="5" fill="#fff"/>
<rect x="515" y="299" width="1" height="2" fill="#3c3c3c"/>
<rect x="515" y="325" width="1" height="3" fill="#3c3c3c"/>
<rect x="513" y="301" width="5" height="24" fill="#3c3c3c"/>
<rect x="523" y="316" width="1" height="3" fill="#00b0d8"/>
<rect x="523" y="325" width="1" height="7" fill="#00b0d8"/>
<rect x="521" y="319" width="5" height="6" fill="#00b0d8"/>
<rect x="522" y="320" width="3" height="4" fill="#fff"/>
<rect x="531" y="312" width="1" height="3" fill="#00b0d8"/>
<rect x="531" y="320" width="1" height="12" fill="#00b0d8"/>
<rect x="529" y="315" width="5" height="5" fill="#00b0d8"/>
<rect x="530" y="316" width="3" height="3" fill="#fff"/>
<rect x="539" y="300" width="1" height="15" fill="#3c3c3c"/>
<rect x="539" y="316" width="1" height="9" fill="#3c3c3c"/>
<rect x="537" y="315" width="5" height="1" fill="#3c3c3c"/>
<rect x="547" y="304" width="1" height="12" fill="#3c3c3c"/>
<rect x="547" y="327" width="1" height="7" fill="#3c3c3c"/>
<rect x="545" y="316" width="5" height="11" fill="#3c3c3c"/>
<rect x="555" y="303" width="1" height="7" fill="#00b0d8"/>
<rect x="555" y="327" width="1" height="6" fill="#00b0d8"/>
<rect x="553" y="310" width="5" height="17" fill="#00b0d8"/>
<rect x="554" y="311" width="3" height="15" fill="#fff"/>
<rect x="563" y="302" width="1" height="3" fill="#00b0d8"/>
<rect x="563" y="311" width="1" height="4" fill="#00b0d8"/>
<rect x="561" y="305" width="5" height="6" fill="#00b0d8"/>
<rect x="562" y="306" width="3" height="4" fill="#fff"/>
<rect x="571" y="301" width="1" height="3" fill="#3c3c3c"/>
<rect x="571" y="306" width="1" height="11" fill="#3c3c3c"/>
<rect x="569" y="304" width="5" height="2" fill="#3c3c3c"/>
<rect x="579" y="289" width="1" height="16" fill="#3c3c3c"/>
<rect x="579" y="317" width="1" height="2" fill="#3c3c3c"/>
<rect x="577" y="305" width="5" height="12" fill="#3c3c3c"/>
<rect x="587" y="315" width="1" height="1" fill="#3c3c3c"/>
<rect x="587" y="348" width="1" height="18" fill="#3c3c3c"/>
<rect x="585" y="316" width="5" height="32" fill="#3c3c3c"/>
<rect x="595" y="322" width="1" height="3" fill="#00b0d8"/>
<rect x="595" y="347" width="1" height="16" fill="#00b0d8"/>
<rect x="593" y="325" width="5" height="22" fill="#00b0d8"/>
<rect x="594" y="326" width="3" height="20" fill="#fff"/>
<rect x="603" y="311" width="1" height="15" fill="#3c3c3c"/>
<rect x="603" y="333" width="1" height="1" fill="#3c3c3c"/>
<rect x="601" y="326" width="5" height="7" fill="#3c3c3c"/>
<rect x="611" y="328" width="1" height="4" fill="#3c3c3c"/>
<rect x="611" y="338" width="1" height="4" fill="#3c3c3c"/>
<rect x="609" y="332" width="5" height="6" fill="#3c3c3c"/>
<rect x="619" y="324" width="1" height="2" fill="#00b0d8"/>
<rect x="619" y="338" width="1" height="4" fill="#00b0d8"/>
<rect x="617" y="326" width="5" height="12" fill="#00b0d8"/>
<rect x="618" y="327" width="3" height="10" fill="#fff"/>
<rect x="627" y="322" width="1" height="5" fill="#3c3c3c"/>
<rect x="627" y="336" width="1" height="1" fill="#3c3c3c"/>
<rect x="625" y="327" width="5" height="9" fill="#3c3c3c"/>
<rect x="635" y="267" width="1" height="6" fill="#00b0d8"/>
<rect x="635" y="336" width="1" height="1" fill="#00b0d8"/>
<rect x="633" y="273" width="5" height="63" fill="#00b0d8"/>
<rect x="634" y="274" width="3" height="61" fill="#fff"/>
<rect x="643" y="265" width="1" height="8" fill="#3c3c3c"/>
<rect x="643" y="311" width="1" height="2" fill="#3c3c3c"/>
<rect x="641" y="273" width="5" height="38" fill="#3c3c3c"/>
<rect x="651" y="297" width="1" height="4" fill="#00b0d8"/>
<rect x="651" y="310" width="1" height="12" fill="#00b0d8"/>
<rect x="649" y="301" width="5" height="9" fill="#00b0d8"/>
<rect x="650" y="302" width="3" height="7" fill="#fff"/>
<rect x="659" y="290" width="1" height="10" fill="#3c3c3c"/>
<rect x="659" y="303" width="1" height="4" fill="#3c3c3c"/>
<rect x="657" y="300" width="5" height="3" fill="#3c3c3c"/>
<rect x="667" y="283" width="1" height="1" fill="#00b0d8"/>
<rect x="667" y="302" width="1" height="2" fill="#00b0d8"/>
<rect x="665" y="284" width="5" height="18" fill="#00b0d8"/>
<rect x="666" y="285" width="3" height="16" fill="#fff"/>
<rect x="675" y="269" width="1" height="2" fill="#00b0d8"/>
<rect x="675" y="286" width="1" height="2" fill="#00b0d8"/>
<rect x="673" y="271" width="5" height="15" fill="#00b0d8"/>
<rect x="674" y="272" width="3" height="13" fill="#fff"/>
<rect x="683" y="236" width="1" height="8" fill="#00b0d8"/>
<rect x="683" y="271" width="1" height="8" fill="#00b0d8"/>
<rect x="681" y="244" width="5" height="27" fill="#00b0d8"/>
<rect x="682" y="245" width="3" height="25" fill="#fff"/>
<rect x="691" y="230" width="1" height="11" fill="#00b0d8"/>
<rect x="691" y="244" width="1" height="4" fill="#00b0d8"/>
<rect x="689" y="241" width="5" height="3" fill="#00b0d8"/>
<rect x="690" y="242" width="3" height="1" fill="#fff"/>
<rect x="699" y="222" width="1" height="8" fill="#00b0d8"/>
<rect x="699" y="240" width="1" height="8" fill="#00b0d8"/>
<rect x="697" y="230" width="5" height="10" fill="#00b0d8"/>
<rect x="698" y="231" width="3" height="8" fill="#fff"/>
<rect x="707" y="227" width="1" height="3" fill="#3c3c3c"/>
<rect x="707" y="241" width="1" height="4" fill="#3c3c3c"/>
<rect x="705" y="230" width="5" height="11" fill="#3c3c3c"/>
<rect x="715" y="232" width="1" height="7" fill="#00b0d8"/>
<rect x="715" y="240" width="1" height="2" fill="#00b0d8"/>
<rect x="713" y="239" width="5" height="1" fill="#00b0d8"/>
<rect x="723" y="213" width="1" height="8" fill="#00b0d8"/>
<rect x="723" y="239" width="1" height="5" fill="#00b0d8"/>
<rect x="721" y="221" width="5" height="18" fill="#00b0d8"/>
<rect x="722" y="222" width="3" height="16" fill="#fff"/>
<rect x="731" y="174" width="1" height="24" fill="#00b0d8"/>
<rect x="731" y="221" width="1" height="3" fill="#00b0d8"/>
<rect x="729" y="198" width="5" height="23" fill="#00b0d8"/>
<rect x="730" y="199" width="3" height="21" fill="#fff"/>
<rect x="739" y="179" width="1" height="4" fill="#00b0d8"/>
<rect x="739" y="197" width="1" height="15" fill="#00b0d8"/>
<rect x="737" y="183" width="5" height="14" fill="#00b0d8"/>
<rect x="738" y="184" width="3" height="12" fill="#fff"/>
<rect x="747" y="173" width="1" height="8" fill="#3c3c3c"/>
<rect x="747" y="196" width="1" height="1" fill="#3c3c3c"/>
<rect x="745" y="181" width="5" height="15" fill="#3c3c3c"/>
<rect x="755" y="201" width="1" height="3" fill="#00b0d8"/>
<rect x="755" y="211" width="1" height="2" fill="#00b0d8"/>
<rect x="753" y="204" width="5" height="7" fill="#00b0d8"/>
<rect x="754" y="205" width="3" height="5" fill="#fff"/>
<rect x="763" y="217" width="1" height="6" fill="#3c3c3c"/>
<rect x="761" y="203" width="5" height="14" fill="#3c3c3c"/>
<rect x="771" y="209" width="1" height="7" fill="#3c3c3c"/>
<rect x="771" y="219" width="1" height="6" fill="#3c3c3c"/>
<rect x="769" y="216" width="5" height="3" fill="#3c3c3c"/>
<rect x="779" y="199" width="1" height="11" fill="#00b0d8"/>
<rect x="777" y="210" width="5" height="10" fill="#00b0d8"/>
<rect x="778" y="211" width="3" height="8" fill="#fff"/>
<rect x="787" y="201" width="1" height="8" fill="#3c3c3c"/>
<rect x="787" y="229" width="1" height="17" fill="#3c3c3c"/>
<rect x="785" y="209" width="5" height="20" fill="#3c3c3c"/>
<rect x="795" y="217" width="1" height="2" fill="#00b0d8"/>
<rect x="795" y="229" width="1" height="19" fill="#00b0d8"/>
<rect x="793" y="219" width="5" height="10" fill="#00b0d8"/>
<rect x="794" y="220" width="3" height="8" fill="#fff"/>
<rect x="803" y="204" width="1" height="3" fill="#00b0d8"/>
<rect x="803" y="219" width="1" height="18" fill="#00b0d8"/>
<rect x="801" y="207" width="5" height="12" fill="#00b0d8"/>
<rect x="802" y="208" width="3" height="10" fill="#fff"/>
<rect x="811" y="195" width="1" height="3" fill="#00b0d8"/>
<rect x="811" y="207" width="1" height="6" fill="#00b0d8"/>
<rect x="809" y="198" width="5" height="9" fill="#00b0d8"/>
<rect x="810" y="199" width="3" height="7" fill="#fff"/>
<rect x="819" y="192" width="1" height="5" fill="#3c3c3c"/>
<rect x="819" y="204" width="1" height="3" fill="#3c3c3c"/>
<rect x="817" y="197" width="5" height="7" fill="#3c3c3c"/>
<rect x="827" y="198" width="1" height="6" fill="#3c3c3c"/>
<rect x="827" y="256" width="1" height="20" fill="#3c3c3c"/>
<rect x="825" y="204" width="5" height="52" fill="#3c3c3c"/>
<rect x="835" y="241" width="1" height="14" fill="#3c3c3c"/>
<rect x="835" y="284" width="1" height="19" fill="#3c3c3c"/>
<rect x="833" y="255" width="5" height="29" fill="#3c3c3c"/>
<rect x="843" y="278" width="1" height="6" fill="#3c3c3c"/>
<rect x="843" y="323" width="1" height="2" fill="#3c3c3c"/>
<rect x="841" y="284" width="5" height="39" fill="#3c3c3c"/>
<rect x="851" y="284" width="1" height="3" fill="#00b0d8"/>
<rect x="849" y="287" width="5" height="35" fill="#00b0d8"/>
<rect x="850" y="288" width="3" height="33" fill="#fff"/>
<rect x="859" y="285" width="1" height="2" fill="#3c3c3c"/>
<rect x="859" y="303" width="1" height="6" fill="#3c3c3c"/>
<rect x="857" y="287" width="5" height="16" fill="#3c3c3c"/>
<rect x="867" y="284" width="1" height="2" fill="#00b0d8"/>
<rect x="867" y="302" width="1" height="10" fill="#00b0d8"/>
<rect x="865" y="286" width="5" height="16" fill="#00b0d8"/>
<rect x="866" y="287" width="3" height="14" fill="#fff"/>
<rect x="875" y="277" width="1" height="2" fill="#00b0d8"/>
<rect x="875" y="287" width="1" height="14" fill="#00b0d8"/>
<rect x="873" y="279" width="5" height="8" fill="#00b0d8"/>
<rect x="874" y="280" width="3" height="6" fill="#fff"/>
<rect x="883" y="235" width="1" height="5" fill="#00b0d8"/>
<rect x="883" y="279" width="1" height="33" fill="#00b0d8"/>
<rect x="881" y="240" width="5" height="39" fill="#00b0d8"/>
<rect x="882" y="241" width="3" height="37" fill="#fff"/>
<rect x="891" y="217" width="1" height="5" fill="#00b0d8"/>
<rect x="891" y="240" width="1" height="15" fill="#00b0d8"/>
<rect x="889" y="222" width="5" height="18" fill="#00b0d8"/>
<rect x="890" y="223" width="3" height="16" fill="#fff"/>
<rect x="899" y="199" width="1" height="20" fill="#00b0d8"/>
<rect x="899" y="223" width="1" height="2" fill="#00b0d8"/>
<rect x="897" y="219" width="5" height="4" fill="#00b0d8"/>
<rect x="898" y="220" width="3" height="2" fill="#fff"/>
<rect x="907" y="207" width="1" height="4" fill="#00b0d8"/>
<rect x="907" y="220" width="1" height="7" fill="#00b0d8"/>
<rect x="905" y="211" width="5" height="9" fill="#00b0d8"/>
<rect x="906" y="212" width="3" height="7" fill="#fff"/>
<rect x="915" y="200" width="1" height="10" fill="#00b0d8"/>
<rect x="915" y="212" width="1" height="8" fill="#00b0d8"/>
<rect x="913" y="210" width="5" height="2" fill="#00b0d8"/>
<rect x="923" y="202" width="1" height="8" fill="#3c3c3c"/>
<rect x="923" y="212" width="1" height="4" fill="#3c3c3c"/>
<rect x="921" y="210" width="5" height="2" fill="#3c3c3c"/>
<rect x="931" y="204" width="1" height="8" fill="#3c3c3c"/>
<rect x="931" y="230" width="1" height="24" fill="#3c3c3c"/>
<rect x="929" y="212" width="5" height="18" fill="#3c3c3c"/>
<rect x="939" y="206" width="1" height="22" fill="#3c3c3c"/>
<rect x="939" y="279" width="1" height="40" fill="#3c3c3c"/>
<rect x="937" y="228" width="5" height="51" fill="#3c3c3c"/>
<rect x="947" y="269" width="1" height="8" fill="#3c3c3c"/>
<rect x="947" y="284" width="1" height="18" fill="#3c3c3c"/>
<rect x="945" y="277" width="5" height="7" fill="#3c3c3c"/>
<rect x="955" y="273" width="1" height="8" fill="#00b0d8"/>
<rect x="955" y="284" width="1" height="11" fill="#00b0d8"/>
<rect x="953" y="281" width="5" height="3" fill="#00b0d8"/>
<rect x="954" y="282" width="3" height="1" fill="#fff"/>
<rect x="963" y="274" width="1" height="5" fill="#3c3c3c"/>
<rect x="963" y="291" width="1" height="7" fill="#3c3c3c"/>
<rect x="961" y="279" width="5" height="12" fill="#3c3c3c"/>
<rect x="971" y="267" width="1" height="9" fill="#00b0d8"/>
<rect x="969" y="276" width="5" height="15" fill="#00b0d8"/>
<rect x="970" y="277" width="3" height="13" fill="#fff"/>
<rect x="979" y="235" width="1" height="1" fill="#00b0d8"/>
<rect x="979" y="275" width="1" height="45" fill="#00b0d8"/>
<rect x="977" y="236" width="5" height="39" fill="#00b0d8"/>
<rect x="978" y="237" width="3" height="37" fill="#fff"/>
<rect x="987" y="217" width="1" height="4" fill="#00b0d8"/>
<rect x="987" y="237" width="1" height="12" fill="#00b0d8"/>
<rect x="985" y="221" width="5" height="16" fill="#00b0d8"/>
<rect x="986" y="222" width="3" height="14" fill="#fff"/>
<rect x="995" y="198" width="1" height="23" fill="#3c3c3c"/>
<rect x="995" y="238" width="1" height="3" fill="#3c3c3c"/>
<rect x="993" y="221" width="5" height="17" fill="#3c3c3c"/>
<rect x="1003" y="223" width="1" height="8" fill="#3c3c3c"/>
<rect x="1003" y="232" width="1" height="1" fill="#3c3c3c"/>
<rect x="1001" y="231" width="5" height="1" fill="#3c3c3c"/>
<rect x="1011" y="218" width="1" height="2" fill="#00b0d8"/>
<rect x="1011" y="232" width="1" height="12" fill="#00b0d8"/>
<rect x="1009" y="220" width="5" height="12" fill="#00b0d8"/>
<rect x="1010" y="221" width="3" height="10" fill="#fff"/>
<rect x="1019" y="213" width="1" height="5" fill="#00b0d8"/>
<rect x="1019" y="220" width="1" height="2" fill="#00b0d8"/>
<rect x="1017" y="218" width="5" height="2" fill="#00b0d8"/>
<rect x="1027" y="216" width="1" height="2" fill="#3c3c3c"/>
<rect x="1027" y="229" width="1" height="6" fill="#3c3c3c"/>
<rect x="1025" y="218" width="5" height="11" fill="#3c3c3c"/>
<rect x="1035" y="201" width="1" height="20" fill="#00b0d8"/>
<rect x="1033" y="221" width="5" height="8" fill="#00b0d8"/>
<rect x="1034" y="222" width="3" height="6" fill="#fff"/>
<rect x="1043" y="212" width="1" height="9" fill="#3c3c3c"/>
<rect x="1043" y="235" width="1" height="6" fill="#3c3c3c"/>
<rect x="1041" y="221" width="5" height="14" fill="#3c3c3c"/>
<rect x="1051" y="229" width="1" height="4" fill="#3c3c3c"/>
<rect x="1051" y="247" width="1" height="12" fill="#3c3c3c"/>
<rect x="1049" y="233" width="5" height="14" fill="#3c3c3c"/>
<rect x="1059" y="235" width="1" height="8" fill="#00b0d8"/>
<rect x="1059" y="247" width="1" height="5" fill="#00b0d8"/>
<rect x="1057" y="243" width="5" height="4" fill="#00b0d8"/>
<rect x="1058" y="244" width="3" height="2" fill="#fff"/>
<rect x="1067" y="220" width="1" height="11" fill="#00b0d8"/>
<rect x="1067" y="242" width="1" height="3" fill="#00b0d8"/>
<rect x="1065" y="231" width="5" height="11" fill="#00b0d8"/>
<rect x="1066" y="232" width="3" height="9" fill="#fff"/>
<rect x="1075" y="230" width="1" height="1" fill="#3c3c3c"/>
<rect x="1075" y="241" width="1" height="21" fill="#3c3c3c"/>
<rect x="1073" y="231" width="5" height="10" fill="#3c3c3c"/>
<rect x="1083" y="236" width="1" height="3" fill="#3c3c3c"/>
<rect x="1083" y="255" width="1" height="23" fill="#3c3c3c"/>
<rect x="1081" y="239" width="5" height="16" fill="#3c3c3c"/>
<rect x="1091" y="238" width="1" height="5" fill="#00b0d8"/>
<rect x="1091" y="254" width="1" height="12" fill="#00b0d8"/>
<rect x="1089" y="243" width="5" height="11" fill="#00b0d8"/>
<rect x="1090" y="244" width="3" height="9" fill="#fff"/>
<rect x="1099" y="230" width="1" height="13" fill="#3c3c3c"/>
<rect x="1099" y="266" width="1" height="7" fill="#3c3c3c"/>
<rect x="1097" y="243" width="5" height="23" fill="#3c3c3c"/>
<rect x="1107" y="255" width="1" height="4" fill="#00b0d8"/>
<rect x="1107" y="265" width="1" height="6" fill="#00b0d8"/>
<rect x="1105" y="259" width="5" height="6" fill="#00b0d8"/>
<rect x="1106" y="260" width="3" height="4" fill="#fff"/>
<rect x="1115" y="251" width="1" height="3" fill="#00b0d8"/>
<rect x="1115" y="260" width="1" height="1" fill="#00b0d8"/>
<rect x="1113" y="254" width="5" height="6" fill="#00b0d8"/>
<rect x="1114" y="255" width="3" height="4" fill="#fff"/>
<rect x="1123" y="249" width="1" height="5" fill="#3c3c3c"/>
<rect x="1123" y="257" width="1" height="13" fill="#3c3c3c"/>
<rect x="1121" y="254" width="5" height="3" fill="#3c3c3c"/>
<rect x="1131" y="250" width="1" height="6" fill="#3c3c3c"/>
<rect x="1131" y="277" width="1" height="18" fill="#3c3c3c"/>
<rect x="1129" y="256" width="5" height="21" fill="#3c3c3c"/>
<rect x="1139" y="255" width="1" height="11" fill="#00b0d8"/>
<rect x="1139" y="277" width="1" height="18" fill="#00b0d8"/>
<rect x="1137" y="266" width="5" height="11" fill="#00b0d8"/>
<rect x="1138" y="267" width="3" height="9" fill="#fff"/>
<rect x="1147" y="261" width="1" height="5" fill="#3c3c3c"/>
<rect x="1147" y="284" width="1" height="14" fill="#3c3c3c"/>
<rect x="1145" y="266" width="5" height="18" fill="#3c3c3c"/>
<rect x="1155" y="256" width="1" height="6" fill="#00b0d8"/>
<rect x="1155" y="284" width="1" height="4" fill="#00b0d8"/>
<rect x="1153" y="262" width="5" height="22" fill="#00b0d8"/>
<rect x="1154" y="263" width="3" height="20" fill="#fff"/>
<rect x="1163" y="263" width="1" height="4" fill="#00b0d8"/>
<rect x="1161" y="253" width="5" height="10" fill="#00b0d8"/>
<rect x="1162" y="254" width="3" height="8" fill="#fff"/>
<rect x="1171" y="237" width="1" height="8" fill="#00b0d8"/>
<rect x="1171" y="253" width="1" height="8" fill="#00b0d8"/>
<rect x="1169" y="245" width="5" height="8" fill="#00b0d8"/>
<rect x="1170" y="246" width="3" height="6" fill="#fff"/>
<rect x="1179" y="231" width="1" height="15" fill="#3c3c3c"/>
<rect x="1179" y="293" width="1" height="8" fill="#3c3c3c"/>
<rect x="1177" y="246" width="5" height="47" fill="#3c3c3c"/>
<rect x="1187" y="218" width="1" height="12" fill="#00b0d8"/>
<rect x="1187" y="292" width="1" height="23" fill="#00b0d8"/>
<rect x="1185" y="230" width="5" height="62" fill="#00b0d8"/>
<rect x="1186" y="231" width="3" height="60" fill="#fff"/>
<rect x="1195" y="218" width="1" height="12" fill="#3c3c3c"/>
<rect x="1195" y="234" width="1" height="6" fill="#3c3c3c"/>
<rect x="1193" y="230" width="5" height="4" fill="#3c3c3c"/>
<rect x="1203" y="228" width="1" height="4" fill="#3c3c3c"/>
<rect x="1203" y="243" width="1" height="4" fill="#3c3c3c"/>
<rect x="1201" y="232" width="5" height="11" fill="#3c3c3c"/>
<rect x="1211" y="237" width="1" height="3" fill="#00b0d8"/>
<rect x="1211" y="243" width="1" height="11" fill="#00b0d8"/>
<rect x="1209" y="240" width="5" height="3" fill="#00b0d8"/>
<rect x="1210" y="241" width="3" height="1" fill="#fff"/>
<rect x="1219" y="231" width="1" height="10" fill="#3c3c3c"/>
<rect x="1219" y="271" width="1" height="7" fill="#3c3c3c"/>
<rect x="1217" y="241" width="5" height="30" fill="#3c3c3c"/>
<rect x="1227" y="250" width="1" height="20" fill="#3c3c3c"/>
<rect x="1227" y="283" width="1" height="6" fill="#3c3c3c"/>
<rect x="1225" y="270" width="5" height="13" fill="#3c3c3c"/>
<rect x="1235" y="264" width="1" height="16" fill="#00b0d8"/>
<rect x="1235" y="283" width="1" height="17" fill="#00b0d8"/>
<rect x="1233" y="280" width="5" height="3" fill="#00b0d8"/>
<rect x="1234" y="281" width="3" height="1" fill="#fff"/>
<rect x="1243" y="261" width="1" height="1" fill="#00b0d8"/>
<rect x="1243" y="280" width="1" height="12" fill="#00b0d8"/>
<rect x="1241" y="262" width="5" height="18" fill="#00b0d8"/>
<rect x="1242" y="263" width="3" height="16" fill="#fff"/>
<rect x="1251" y="248" width="1" height="3" fill="#00b0d8"/>
<rect x="1251" y="256" width="1" height="4" fill="#00b0d8"/>
<rect x="1249" y="251" width="5" height="5" fill="#00b0d8"/>
<rect x="1250" y="252" width="3" height="3" fill="#fff"/>
<rect x="1259" y="233" width="1" height="14" fill="#00b0d8"/>
<rect x="1259" y="250" width="1" height="3" fill="#00b0d8"/>
<rect x="1257" y="247" width="5" height="3" fill="#00b0d8"/>
<rect x="1258" y="248" width="3" height="1" fill="#fff"/>
<rect x="1267" y="239" width="1" height="4" fill="#00b0d8"/>
<rect x="1267" y="247" width="1" height="6" fill="#00b0d8"/>
<rect x="1265" y="243" width="5" height="4" fill="#00b0d8"/>
<rect x="1266" y="244" width="3" height="2" fill="#fff"/>
<rect x="1275" y="212" width="1" height="10" fill="#00b0d8"/>
<rect x="1275" y="242" width="1" height="7" fill="#00b0d8"/>
<rect x="1273" y="222" width="5" height="20" fill="#00b0d8"/>
<rect x="1274" y="223" width="3" height="18" fill="#fff"/>
<rect x="1283" y="182" width="1" height="13" fill="#00b0d8"/>
<rect x="1283" y="222" width="1" height="11" fill="#00b0d8"/>
<rect x="1281" y="195" width="5" height="27" fill="#00b0d8"/>
<rect x="1282" y="196" width="3" height="25" fill="#fff"/>
<rect x="1291" y="180" width="1" height="13" fill="#00b0d8"/>
<rect x="1291" y="196" width="1" height="10" fill="#00b0d8"/>
<rect x="1289" y="193" width="5" height="3" fill="#00b0d8"/>
<rect x="1290" y="194" width="3" height="1" fill="#fff"/>
<rect x="1299" y="211" width="1" height="7" fill="#3c3c3c"/>
<rect x="1297" y="193" width="5" height="18" fill="#3c3c3c"/>
<rect x="1307" y="225" width="1" height="9" fill="#3c3c3c"/>
<rect x="1305" y="210" width="5" height="15" fill="#3c3c3c"/>
<rect x="1315" y="213" width="1" height="3" fill="#00b0d8"/>
<rect x="1315" y="225" width="1" height="5" fill="#00b0d8"/>
<rect x="1313" y="216" width="5" height="9" fill="#00b0d8"/>
<rect x="1314" y="217" width="3" height="7" fill="#fff"/>
<rect x="1323" y="203" width="1" height="2" fill="#00b0d8"/>
<rect x="1323" y="216" width="1" height="13" fill="#00b0d8"/>
<rect x="1321" y="205" width="5" height="11" fill="#00b0d8"/>
<rect x="1322" y="206" width="3" height="9" fill="#fff"/>
<rect x="1331" y="203" width="1" height="2" fill="#3c3c3c"/>
<rect x="1331" y="279" width="1" height="13" fill="#3c3c3c"/>
<rect x="1329" y="205" width="5" height="74" fill="#3c3c3c"/>
<rect x="1339" y="224" width="1" height="10" fill="#00b0d8"/>
<rect x="1339" y="279" width="1" height="26" fill="#00b0d8"/>
<rect x="1337" y="234" width="5" height="45" fill="#00b0d8"/>
<rect x="1338" y="235" width="3" height="43" fill="#fff"/>
<rect x="1347" y="199" width="1" height="6" fill="#00b0d8"/>
<rect x="1347" y="234" width="1" height="8" fill="#00b0d8"/>
<rect x="1345" y="205" width="5" height="29" fill="#00b0d8"/>
<rect x="1346" y="206" width="3" height="27" fill="#fff"/>
<rect x="1355" y="175" width="1" height="7" fill="#00b0d8"/>
<rect x="1355" y="206" width="1" height="3" fill="#00b0d8"/>
<rect x="1353" y="182" width="5" height="24" fill="#00b0d8"/>
<rect x="1354" y="183" width="3" height="22" fill="#fff"/>
<rect x="1363" y="180" width="1" height="1" fill="#3c3c3c"/>
<rect x="1363" y="191" width="1" height="7" fill="#3c3c3c"/>
<rect x="1361" y="181" width="5" height="10" fill="#3c3c3c"/>
<rect x="1371" y="173" width="1" height="11" fill="#00b0d8"/>
<rect x="1371" y="190" width="1" height="5" fill="#00b0d8"/>
<rect x="1369" y="184" width="5" height="6" fill="#00b0d8"/>
<rect x="1370" y="185" width="3" height="4" fill="#fff"/>
<rect x="1379" y="175" width="1" height="9" fill="#3c3c3c"/>
<rect x="1379" y="205" width="1" height="26" fill="#3c3c3c"/>
<rect x="1377" y="184" width="5" height="21" fill="#3c3c3c"/>
<rect x="1387" y="151" width="1" height="8" fill="#00b0d8"/>
<rect x="1387" y="206" width="1" height="2" fill="#00b0d8"/>
<rect x="1385" y="159" width="5" height="47" fill="#00b0d8"/>
<rect x="1386" y="160" width="3" height="45" fill="#fff"/>
<rect x="1395" y="157" width="1" height="2" fill="#3c3c3c"/>
<rect x="1395" y="187" width="1" height="2" fill="#3c3c3c"/>
<rect x="1393" y="159" width="5" height="28" fill="#3c3c3c"/>
<rect x="1403" y="163" width="1" height="20" fill="#00b0d8"/>
<rect x="1403" y="187" width="1" height="6" fill="#00b0d8"/>
<rect x="1401" y="183" width="5" height="4" fill="#00b0d8"/>
<rect x="1402" y="184" width="3" height="2" fill="#fff"/>
<rect x="1411" y="164" width="1" height="3" fill="#00b0d8"/>
<rect x="1411" y="185" width="1" height="1" fill="#00b0d8"/>
<rect x="1409" y="167" width="5" height="18" fill="#00b0d8"/>
<rect x="1410" y="168" width="3" height="16" fill="#fff"/>
<rect x="1419" y="153" width="1" height="14" fill="#3c3c3c"/>
<rect x="1419" y="176" width="1" height="12" fill="#3c3c3c"/>
<rect x="1417" y="167" width="5" height="9" fill="#3c3c3c"/>
<rect x="1427" y="148" width="1" height="17" fill="#00b0d8"/>
<rect x="1427" y="177" width="1" height="14" fill="#00b0d8"/>
<rect x="1425" y="165" width="5" height="12" fill="#00b0d8"/>
<rect x="1426" y="166" width="3" height="10" fill="#fff"/>
<rect x="1435" y="118" width="1" height="25" fill="#00b0d8"/>
<rect x="1435" y="165" width="1" height="13" fill="#00b0d8"/>
<rect x="1433" y="143" width="5" height="22" fill="#00b0d8"/>
<rect x="1434" y="144" width="3" height="20" fill="#fff"/>
<rect x="1443" y="89" width="1" height="12" fill="#00b0d8"/>
<rect x="1443" y="144" width="1" height="3" fill="#00b0d8"/>
<rect x="1441" y="101" width="5" height="43" fill="#00b0d8"/>
<rect x="1442" y="102" width="3" height="41" fill="#fff"/>
<rect x="1451" y="84" width="1" height="10" fill="#00b0d8"/>
<rect x="1451" y="101" width="1" height="7" fill="#00b0d8"/>
<rect x="1449" y="94" width="5" height="7" fill="#00b0d8"/>
<rect x="1450" y="95" width="3" height="5" fill="#fff"/>
<rect x="1459" y="94" width="1" height="2" fill="#00b0d8"/>
<rect x="1457" y="87" width="5" height="7" fill="#00b0d8"/>
<rect x="1458" y="88" width="3" height="5" fill="#fff"/>
<rect x="1467" y="86" width="1" height="1" fill="#3c3c3c"/>
<rect x="1467" y="91" width="1" height="1" fill="#3c3c3c"/>
<rect x="1465" y="87" width="5" height="4" fill="#3c3c3c"/>
</g>
<path d="M1475.3,100.4 C1476.5,104.5 1478.3,115.1 1482.3,115.1 C1493.8,115.1 1501.8,68.8 1514.1,27.5" fill="none" stroke="#1ab0d5" stroke-width="2.3"/>
<path d="M1516.5,18.8 L1519.6,29.8 L1509.6,26.6 Z" fill="#1ab0d5"/>
<path d="M1488.5,152.4 C1493,172 1497,189.5 1501.3,189.5 C1507,189.5 1508,158.2 1515.4,158.2 C1522,158.2 1530,185 1541,227" fill="none" stroke="#4a5563" stroke-width="2.3"/>
<path d="M1543.4,235.5 L1536.4,227.3 L1546.2,225.2 Z" fill="#4a5563"/>
</g>
<g fill="none" stroke="#404040" stroke-width="1" shape-rendering="crispEdges">
<rect x="2.5" y="2.5" width="1863" height="667"/>
<rect x="2.5" y="671.5" width="1863" height="125"/>
<rect x="2.5" y="798.5" width="1863" height="117"/>
</g>
<g clip-path="url(#cr)" shape-rendering="crispEdges">
<line x1="4" y1="697.5" x2="1865" y2="697.5" stroke="#c0c0c0" stroke-width="1" stroke-dasharray="3 3"/>
<line x1="4" y1="771.5" x2="1865" y2="771.5" stroke="#c0c0c0" stroke-width="1" stroke-dasharray="3 3"/>
<path d="M305 703h3v1h-3zM735 703h5v1h-5zM301 704h4v1h-4zM308 704h1v1h-1zM503 704h5v1h-5zM731 704h4v1h-4zM740 704h1v1h-1zM291 705h10v1h-10zM308 705h1v1h-1zM499 705h4v1h-4zM508 705h1v1h-1zM729 705h2v1h-2zM741 705h2v1h-2zM289 706h2v1h-2zM309 706h1v1h-1zM498 706h1v1h-1zM508 706h1v1h-1zM728 706h1v1h-1zM743 706h1v1h-1zM288 707h1v1h-1zM310 707h1v1h-1zM497 707h1v1h-1zM509 707h1v1h-1zM727 707h1v1h-1zM744 707h1v1h-1zM287 708h1v1h-1zM311 708h1v1h-1zM496 708h1v1h-1zM510 708h1v1h-1zM725 708h2v1h-2zM745 708h2v1h-2zM285 709h2v1h-2zM311 709h1v1h-1zM495 709h1v1h-1zM511 709h1v1h-1zM697 709h3v1h-3zM724 709h1v1h-1zM747 709h1v1h-1zM284 710h1v1h-1zM312 710h1v1h-1zM494 710h1v1h-1zM511 710h1v1h-1zM693 710h4v1h-4zM700 710h2v1h-2zM722 710h2v1h-2zM748 710h2v1h-2zM1455 710h8v1h-8zM282 711h2v1h-2zM313 711h1v1h-1zM493 711h1v1h-1zM512 711h1v1h-1zM687 711h6v1h-6zM702 711h1v1h-1zM720 711h2v1h-2zM750 711h2v1h-2zM1447 711h8v1h-8zM1463 711h4v1h-4zM251 712h1v1h-1zM266 712h3v1h-3zM279 712h3v1h-3zM314 712h1v1h-1zM335 712h5v1h-5zM492 712h1v1h-1zM513 712h1v1h-1zM683 712h4v1h-4zM703 712h2v1h-2zM718 712h2v1h-2zM752 712h2v1h-2zM1443 712h4v1h-4zM249 713h2v1h-2zM252 713h2v1h-2zM264 713h2v1h-2zM269 713h4v1h-4zM277 713h2v1h-2zM314 713h1v1h-1zM319 713h16v1h-16zM340 713h1v1h-1zM490 713h2v1h-2zM514 713h1v1h-1zM527 713h8v1h-8zM559 713h13v1h-13zM635 713h1v1h-1zM681 713h2v1h-2zM705 713h2v1h-2zM716 713h2v1h-2zM754 713h2v1h-2zM1442 713h1v1h-1zM71 714h8v1h-8zM87 714h8v1h-8zM248 714h1v1h-1zM254 714h2v1h-2zM262 714h2v1h-2zM273 714h4v1h-4zM315 714h4v1h-4zM341 714h2v1h-2zM488 714h2v1h-2zM514 714h1v1h-1zM519 714h8v1h-8zM535 714h5v1h-5zM555 714h4v1h-4zM572 714h1v1h-1zM635 714h2v1h-2zM679 714h2v1h-2zM707 714h9v1h-9zM756 714h2v1h-2zM1441 714h1v1h-1zM19 715h2v1h-2zM67 715h4v1h-4zM79 715h8v1h-8zM95 715h5v1h-5zM247 715h1v1h-1zM256 715h2v1h-2zM260 715h2v1h-2zM343 715h1v1h-1zM486 715h2v1h-2zM515 715h4v1h-4zM540 715h2v1h-2zM553 715h2v1h-2zM573 715h2v1h-2zM634 715h1v1h-1zM636 715h1v1h-1zM678 715h1v1h-1zM758 715h1v1h-1zM1439 715h2v1h-2zM18 716h1v1h-1zM21 716h2v1h-2zM66 716h1v1h-1zM100 716h1v1h-1zM245 716h2v1h-2zM258 716h2v1h-2zM344 716h1v1h-1zM451 716h1v1h-1zM484 716h2v1h-2zM542 716h1v1h-1zM551 716h2v1h-2zM575 716h1v1h-1zM634 716h1v1h-1zM637 716h1v1h-1zM676 716h2v1h-2zM759 716h2v1h-2zM810 716h3v1h-3zM1438 716h1v1h-1zM17 717h1v1h-1zM23 717h3v1h-3zM65 717h1v1h-1zM101 717h1v1h-1zM244 717h1v1h-1zM345 717h2v1h-2zM449 717h2v1h-2zM452 717h1v1h-1zM481 717h3v1h-3zM543 717h2v1h-2zM550 717h1v1h-1zM576 717h1v1h-1zM633 717h1v1h-1zM637 717h1v1h-1zM674 717h2v1h-2zM761 717h2v1h-2zM777 717h3v1h-3zM807 717h3v1h-3zM813 717h2v1h-2zM1283 717h9v1h-9zM1437 717h1v1h-1zM17 718h1v1h-1zM26 718h2v1h-2zM64 718h1v1h-1zM102 718h1v1h-1zM241 718h3v1h-3zM347 718h10v1h-10zM385 718h3v1h-3zM448 718h1v1h-1zM453 718h1v1h-1zM477 718h4v1h-4zM545 718h2v1h-2zM548 718h2v1h-2zM577 718h2v1h-2zM633 718h1v1h-1zM638 718h1v1h-1zM672 718h2v1h-2zM763 718h4v1h-4zM773 718h4v1h-4zM780 718h1v1h-1zM805 718h2v1h-2zM815 718h3v1h-3zM1282 718h1v1h-1zM1292 718h1v1h-1zM1436 718h1v1h-1zM16 719h1v1h-1zM28 719h2v1h-2zM63 719h1v1h-1zM103 719h1v1h-1zM237 719h4v1h-4zM357 719h2v1h-2zM381 719h4v1h-4zM388 719h1v1h-1zM410 719h10v1h-10zM447 719h1v1h-1zM454 719h1v1h-1zM471 719h6v1h-6zM547 719h1v1h-1zM579 719h1v1h-1zM632 719h1v1h-1zM638 719h1v1h-1zM670 719h2v1h-2zM767 719h6v1h-6zM781 719h1v1h-1zM802 719h3v1h-3zM818 719h2v1h-2zM1281 719h1v1h-1zM1293 719h1v1h-1zM1434 719h2v1h-2zM15 720h1v1h-1zM30 720h2v1h-2zM63 720h1v1h-1zM104 720h1v1h-1zM234 720h3v1h-3zM359 720h3v1h-3zM367 720h14v1h-14zM389 720h1v1h-1zM408 720h2v1h-2zM420 720h1v1h-1zM445 720h2v1h-2zM455 720h1v1h-1zM466 720h5v1h-5zM580 720h1v1h-1zM632 720h1v1h-1zM639 720h1v1h-1zM668 720h2v1h-2zM782 720h1v1h-1zM799 720h3v1h-3zM819 720h1v1h-1zM1279 720h2v1h-2zM1294 720h1v1h-1zM1387 720h1v1h-1zM1432 720h2v1h-2zM14 721h1v1h-1zM32 721h2v1h-2zM62 721h1v1h-1zM105 721h1v1h-1zM113 721h3v1h-3zM232 721h2v1h-2zM362 721h5v1h-5zM390 721h1v1h-1zM406 721h2v1h-2zM421 721h1v1h-1zM444 721h1v1h-1zM456 721h1v1h-1zM464 721h2v1h-2zM580 721h1v1h-1zM631 721h1v1h-1zM640 721h1v1h-1zM666 721h2v1h-2zM783 721h1v1h-1zM797 721h2v1h-2zM820 721h1v1h-1zM1278 721h1v1h-1zM1295 721h2v1h-2zM1386 721h1v1h-1zM1388 721h1v1h-1zM1430 721h2v1h-2zM13 722h1v1h-1zM34 722h3v1h-3zM61 722h1v1h-1zM106 722h1v1h-1zM109 722h4v1h-4zM116 722h1v1h-1zM210 722h11v1h-11zM230 722h2v1h-2zM391 722h1v1h-1zM404 722h2v1h-2zM421 722h1v1h-1zM443 722h1v1h-1zM457 722h1v1h-1zM462 722h2v1h-2zM581 722h1v1h-1zM631 722h1v1h-1zM640 722h1v1h-1zM664 722h2v1h-2zM784 722h1v1h-1zM794 722h3v1h-3zM820 722h1v1h-1zM1277 722h1v1h-1zM1297 722h1v1h-1zM1355 722h2v1h-2zM1385 722h1v1h-1zM1389 722h1v1h-1zM1428 722h2v1h-2zM13 723h1v1h-1zM37 723h4v1h-4zM60 723h1v1h-1zM107 723h2v1h-2zM117 723h2v1h-2zM208 723h2v1h-2zM221 723h4v1h-4zM228 723h2v1h-2zM391 723h1v1h-1zM402 723h2v1h-2zM422 723h1v1h-1zM442 723h1v1h-1zM458 723h1v1h-1zM460 723h2v1h-2zM581 723h1v1h-1zM631 723h1v1h-1zM641 723h1v1h-1zM662 723h2v1h-2zM785 723h1v1h-1zM791 723h3v1h-3zM821 723h1v1h-1zM905 723h19v1h-19zM1276 723h1v1h-1zM1298 723h1v1h-1zM1322 723h2v1h-2zM1353 723h2v1h-2zM1357 723h4v1h-4zM1367 723h5v1h-5zM1384 723h1v1h-1zM1390 723h1v1h-1zM1410 723h3v1h-3zM1425 723h3v1h-3zM12 724h1v1h-1zM41 724h19v1h-19zM119 724h1v1h-1zM206 724h2v1h-2zM225 724h3v1h-3zM392 724h1v1h-1zM400 724h2v1h-2zM423 724h1v1h-1zM441 724h1v1h-1zM459 724h1v1h-1zM582 724h1v1h-1zM630 724h1v1h-1zM641 724h1v1h-1zM650 724h5v1h-5zM660 724h2v1h-2zM786 724h1v1h-1zM789 724h2v1h-2zM821 724h1v1h-1zM901 724h4v1h-4zM924 724h2v1h-2zM1275 724h1v1h-1zM1299 724h1v1h-1zM1319 724h3v1h-3zM1323 724h1v1h-1zM1351 724h2v1h-2zM1361 724h6v1h-6zM1372 724h1v1h-1zM1383 724h1v1h-1zM1391 724h2v1h-2zM1407 724h3v1h-3zM1413 724h4v1h-4zM1421 724h4v1h-4zM9 725h3v1h-3zM120 725h1v1h-1zM204 725h2v1h-2zM393 725h1v1h-1zM398 725h2v1h-2zM424 725h1v1h-1zM440 725h1v1h-1zM582 725h1v1h-1zM630 725h1v1h-1zM642 725h1v1h-1zM647 725h3v1h-3zM655 725h5v1h-5zM787 725h2v1h-2zM822 725h1v1h-1zM890 725h11v1h-11zM926 725h1v1h-1zM986 725h2v1h-2zM1015 725h5v1h-5zM1273 725h2v1h-2zM1300 725h2v1h-2zM1317 725h2v1h-2zM1324 725h1v1h-1zM1350 725h1v1h-1zM1373 725h2v1h-2zM1383 725h1v1h-1zM1393 725h1v1h-1zM1405 725h2v1h-2zM1417 725h4v1h-4zM5 726h4v1h-4zM121 726h2v1h-2zM127 726h6v1h-6zM154 726h11v1h-11zM203 726h1v1h-1zM394 726h1v1h-1zM396 726h2v1h-2zM425 726h1v1h-1zM439 726h1v1h-1zM583 726h1v1h-1zM595 726h2v1h-2zM629 726h1v1h-1zM642 726h1v1h-1zM645 726h2v1h-2zM822 726h1v1h-1zM888 726h2v1h-2zM927 726h2v1h-2zM983 726h3v1h-3zM988 726h2v1h-2zM1010 726h5v1h-5zM1020 726h2v1h-2zM1272 726h1v1h-1zM1302 726h1v1h-1zM1314 726h3v1h-3zM1324 726h1v1h-1zM1348 726h2v1h-2zM1375 726h1v1h-1zM1382 726h1v1h-1zM1394 726h1v1h-1zM1399 726h6v1h-6zM3 727h2v1h-2zM123 727h4v1h-4zM133 727h4v1h-4zM152 727h2v1h-2zM165 727h2v1h-2zM201 727h2v1h-2zM395 727h1v1h-1zM425 727h1v1h-1zM439 727h1v1h-1zM583 727h1v1h-1zM594 727h1v1h-1zM597 727h2v1h-2zM618 727h2v1h-2zM629 727h1v1h-1zM643 727h2v1h-2zM822 727h1v1h-1zM886 727h2v1h-2zM929 727h2v1h-2zM981 727h2v1h-2zM990 727h1v1h-1zM1007 727h3v1h-3zM1022 727h2v1h-2zM1033 727h3v1h-3zM1271 727h1v1h-1zM1303 727h2v1h-2zM1311 727h3v1h-3zM1325 727h1v1h-1zM1347 727h1v1h-1zM1376 727h1v1h-1zM1381 727h1v1h-1zM1395 727h4v1h-4zM137 728h4v1h-4zM150 728h2v1h-2zM167 728h3v1h-3zM199 728h2v1h-2zM426 728h1v1h-1zM438 728h1v1h-1zM584 728h1v1h-1zM593 728h1v1h-1zM599 728h3v1h-3zM616 728h2v1h-2zM620 728h2v1h-2zM628 728h1v1h-1zM823 728h1v1h-1zM884 728h2v1h-2zM931 728h1v1h-1zM979 728h2v1h-2zM991 728h2v1h-2zM1005 728h2v1h-2zM1024 728h2v1h-2zM1029 728h4v1h-4zM1036 728h2v1h-2zM1187 728h4v1h-4zM1269 728h2v1h-2zM1305 728h2v1h-2zM1309 728h2v1h-2zM1325 728h1v1h-1zM1345 728h2v1h-2zM1377 728h2v1h-2zM1380 728h1v1h-1zM141 729h4v1h-4zM148 729h2v1h-2zM170 729h2v1h-2zM186 729h3v1h-3zM198 729h1v1h-1zM427 729h2v1h-2zM437 729h1v1h-1zM584 729h1v1h-1zM592 729h1v1h-1zM602 729h3v1h-3zM614 729h2v1h-2zM622 729h2v1h-2zM628 729h1v1h-1zM823 729h1v1h-1zM883 729h1v1h-1zM932 729h1v1h-1zM978 729h1v1h-1zM993 729h2v1h-2zM999 729h6v1h-6zM1026 729h3v1h-3zM1038 729h2v1h-2zM1187 729h1v1h-1zM1191 729h6v1h-6zM1268 729h1v1h-1zM1307 729h2v1h-2zM1325 729h1v1h-1zM1344 729h1v1h-1zM1379 729h1v1h-1zM145 730h3v1h-3zM172 730h2v1h-2zM184 730h2v1h-2zM189 730h4v1h-4zM196 730h2v1h-2zM429 730h4v1h-4zM436 730h1v1h-1zM585 730h1v1h-1zM591 730h1v1h-1zM605 730h4v1h-4zM612 730h2v1h-2zM624 730h2v1h-2zM627 730h1v1h-1zM824 730h1v1h-1zM882 730h1v1h-1zM932 730h1v1h-1zM978 730h1v1h-1zM995 730h4v1h-4zM1040 730h2v1h-2zM1066 730h2v1h-2zM1186 730h1v1h-1zM1197 730h4v1h-4zM1263 730h5v1h-5zM1326 730h1v1h-1zM1343 730h1v1h-1zM174 731h2v1h-2zM182 731h2v1h-2zM193 731h3v1h-3zM433 731h3v1h-3zM585 731h1v1h-1zM590 731h1v1h-1zM609 731h3v1h-3zM626 731h2v1h-2zM824 731h1v1h-1zM881 731h1v1h-1zM933 731h1v1h-1zM977 731h1v1h-1zM1042 731h2v1h-2zM1064 731h2v1h-2zM1068 731h2v1h-2zM1170 731h2v1h-2zM1186 731h1v1h-1zM1201 731h11v1h-11zM1255 731h8v1h-8zM1326 731h1v1h-1zM1341 731h2v1h-2zM176 732h2v1h-2zM180 732h2v1h-2zM586 732h1v1h-1zM589 732h1v1h-1zM824 732h1v1h-1zM881 732h1v1h-1zM933 732h1v1h-1zM976 732h1v1h-1zM1044 732h2v1h-2zM1062 732h2v1h-2zM1070 732h2v1h-2zM1167 732h3v1h-3zM1172 732h1v1h-1zM1185 732h1v1h-1zM1212 732h1v1h-1zM1250 732h5v1h-5zM1326 732h1v1h-1zM1340 732h1v1h-1zM178 733h2v1h-2zM586 733h1v1h-1zM588 733h1v1h-1zM825 733h1v1h-1zM880 733h1v1h-1zM934 733h1v1h-1zM976 733h1v1h-1zM1046 733h2v1h-2zM1060 733h2v1h-2zM1072 733h2v1h-2zM1165 733h2v1h-2zM1172 733h1v1h-1zM1185 733h1v1h-1zM1213 733h1v1h-1zM1248 733h2v1h-2zM1327 733h1v1h-1zM1339 733h1v1h-1zM587 734h1v1h-1zM825 734h1v1h-1zM879 734h1v1h-1zM934 734h1v1h-1zM975 734h1v1h-1zM1048 734h2v1h-2zM1055 734h5v1h-5zM1074 734h2v1h-2zM1090 734h2v1h-2zM1162 734h3v1h-3zM1173 734h1v1h-1zM1184 734h1v1h-1zM1214 734h1v1h-1zM1246 734h2v1h-2zM1327 734h1v1h-1zM1338 734h1v1h-1zM826 735h1v1h-1zM878 735h1v1h-1zM935 735h1v1h-1zM974 735h1v1h-1zM1050 735h5v1h-5zM1076 735h2v1h-2zM1088 735h2v1h-2zM1092 735h1v1h-1zM1159 735h3v1h-3zM1173 735h1v1h-1zM1184 735h1v1h-1zM1215 735h1v1h-1zM1244 735h2v1h-2zM1328 735h1v1h-1zM1338 735h1v1h-1zM826 736h1v1h-1zM877 736h1v1h-1zM936 736h1v1h-1zM974 736h1v1h-1zM1078 736h2v1h-2zM1086 736h2v1h-2zM1093 736h1v1h-1zM1157 736h2v1h-2zM1174 736h1v1h-1zM1183 736h1v1h-1zM1216 736h1v1h-1zM1243 736h1v1h-1zM1328 736h1v1h-1zM1337 736h1v1h-1zM827 737h1v1h-1zM877 737h1v1h-1zM936 737h1v1h-1zM973 737h1v1h-1zM1080 737h2v1h-2zM1084 737h2v1h-2zM1094 737h1v1h-1zM1113 737h6v1h-6zM1155 737h2v1h-2zM1174 737h1v1h-1zM1183 737h1v1h-1zM1217 737h1v1h-1zM1241 737h2v1h-2zM1328 737h1v1h-1zM1336 737h1v1h-1zM827 738h1v1h-1zM876 738h1v1h-1zM937 738h1v1h-1zM972 738h1v1h-1zM1082 738h2v1h-2zM1095 738h1v1h-1zM1109 738h4v1h-4zM1119 738h5v1h-5zM1154 738h1v1h-1zM1175 738h1v1h-1zM1183 738h1v1h-1zM1218 738h1v1h-1zM1239 738h2v1h-2zM1329 738h1v1h-1zM1335 738h1v1h-1zM828 739h1v1h-1zM873 739h3v1h-3zM937 739h1v1h-1zM972 739h1v1h-1zM1096 739h1v1h-1zM1106 739h3v1h-3zM1124 739h1v1h-1zM1153 739h1v1h-1zM1175 739h1v1h-1zM1182 739h1v1h-1zM1219 739h2v1h-2zM1238 739h1v1h-1zM1329 739h1v1h-1zM1335 739h1v1h-1zM829 740h1v1h-1zM869 740h4v1h-4zM938 740h1v1h-1zM971 740h1v1h-1zM1097 740h1v1h-1zM1103 740h3v1h-3zM1125 740h1v1h-1zM1139 740h1v1h-1zM1152 740h1v1h-1zM1176 740h1v1h-1zM1182 740h1v1h-1zM1221 740h2v1h-2zM1236 740h2v1h-2zM1329 740h1v1h-1zM1334 740h1v1h-1zM830 741h1v1h-1zM866 741h3v1h-3zM938 741h1v1h-1zM969 741h2v1h-2zM1098 741h1v1h-1zM1101 741h2v1h-2zM1126 741h1v1h-1zM1137 741h2v1h-2zM1140 741h1v1h-1zM1151 741h1v1h-1zM1176 741h1v1h-1zM1181 741h1v1h-1zM1223 741h3v1h-3zM1231 741h5v1h-5zM1330 741h1v1h-1zM1333 741h1v1h-1zM831 742h2v1h-2zM851 742h2v1h-2zM864 742h2v1h-2zM939 742h2v1h-2zM967 742h2v1h-2zM1099 742h2v1h-2zM1127 742h2v1h-2zM1135 742h2v1h-2zM1141 742h2v1h-2zM1151 742h1v1h-1zM1177 742h1v1h-1zM1181 742h1v1h-1zM1226 742h5v1h-5zM1330 742h1v1h-1zM1332 742h1v1h-1zM833 743h1v1h-1zM850 743h1v1h-1zM853 743h2v1h-2zM862 743h2v1h-2zM941 743h4v1h-4zM951 743h6v1h-6zM966 743h1v1h-1zM1129 743h1v1h-1zM1134 743h1v1h-1zM1143 743h1v1h-1zM1150 743h1v1h-1zM1177 743h1v1h-1zM1180 743h1v1h-1zM1331 743h2v1h-2zM834 744h1v1h-1zM850 744h1v1h-1zM855 744h3v1h-3zM860 744h2v1h-2zM945 744h6v1h-6zM957 744h4v1h-4zM964 744h2v1h-2zM1130 744h1v1h-1zM1132 744h2v1h-2zM1144 744h1v1h-1zM1149 744h1v1h-1zM1178 744h1v1h-1zM1180 744h1v1h-1zM1331 744h1v1h-1zM835 745h1v1h-1zM849 745h1v1h-1zM858 745h2v1h-2zM961 745h3v1h-3zM1131 745h1v1h-1zM1145 745h2v1h-2zM1148 745h1v1h-1zM1178 745h2v1h-2zM836 746h1v1h-1zM848 746h1v1h-1zM1147 746h1v1h-1zM1179 746h1v1h-1zM837 747h1v1h-1zM847 747h1v1h-1zM838 748h1v1h-1zM847 748h1v1h-1zM839 749h1v1h-1zM846 749h1v1h-1zM840 750h1v1h-1zM845 750h1v1h-1zM841 751h1v1h-1zM844 751h1v1h-1zM842 752h1v1h-1zM844 752h1v1h-1zM843 753h1v1h-1z" fill="#00b0d8"/>
</g>
<g clip-path="url(#cd)" shape-rendering="crispEdges">
<rect x="3" y="883" width="1" height="3" fill="#00b0d8"/>
<rect x="11" y="874" width="1" height="12" fill="#00b0d8"/>
<rect x="19" y="856" width="1" height="30" fill="#00b0d8"/>
<rect x="27" y="845" width="1" height="41" fill="#00b0d8"/>
<rect x="35" y="840" width="1" height="46" fill="#00b0d8"/>
<rect x="43" y="837" width="1" height="49" fill="#00b0d8"/>
<rect x="51" y="836" width="1" height="50" fill="#00b0d8"/>
<rect x="59" y="835" width="1" height="51" fill="#00b0d8"/>
<rect x="67" y="825" width="1" height="61" fill="#00b0d8"/>
<rect x="75" y="817" width="1" height="69" fill="#00b0d8"/>
<rect x="83" y="812" width="1" height="74" fill="#00b0d8"/>
<rect x="91" y="809" width="1" height="77" fill="#00b0d8"/>
<rect x="99" y="806" width="1" height="80" fill="#00b0d8"/>
<rect x="107" y="810" width="1" height="76" fill="#00b0d8"/>
<rect x="115" y="812" width="1" height="74" fill="#00b0d8"/>
<rect x="123" y="818" width="1" height="68" fill="#00b0d8"/>
<rect x="131" y="824" width="1" height="62" fill="#00b0d8"/>
<rect x="139" y="829" width="1" height="57" fill="#00b0d8"/>
<rect x="147" y="835" width="1" height="51" fill="#00b0d8"/>
<rect x="155" y="838" width="1" height="48" fill="#00b0d8"/>
<rect x="163" y="840" width="1" height="46" fill="#00b0d8"/>
<rect x="171" y="845" width="1" height="41" fill="#00b0d8"/>
<rect x="179" y="851" width="1" height="35" fill="#00b0d8"/>
<rect x="187" y="853" width="1" height="33" fill="#00b0d8"/>
<rect x="195" y="857" width="1" height="29" fill="#00b0d8"/>
<rect x="203" y="857" width="1" height="29" fill="#00b0d8"/>
<rect x="211" y="855" width="1" height="31" fill="#00b0d8"/>
<rect x="219" y="853" width="1" height="33" fill="#00b0d8"/>
<rect x="227" y="853" width="1" height="33" fill="#00b0d8"/>
<rect x="235" y="851" width="1" height="35" fill="#00b0d8"/>
<rect x="243" y="848" width="1" height="38" fill="#00b0d8"/>
<rect x="251" y="842" width="1" height="44" fill="#00b0d8"/>
<rect x="259" y="840" width="1" height="46" fill="#00b0d8"/>
<rect x="267" y="835" width="1" height="51" fill="#00b0d8"/>
<rect x="275" y="833" width="1" height="53" fill="#00b0d8"/>
<rect x="283" y="829" width="1" height="57" fill="#00b0d8"/>
<rect x="291" y="822" width="1" height="64" fill="#00b0d8"/>
<rect x="299" y="817" width="1" height="69" fill="#00b0d8"/>
<rect x="307" y="812" width="1" height="74" fill="#00b0d8"/>
<rect x="315" y="813" width="1" height="73" fill="#00b0d8"/>
<rect x="323" y="813" width="1" height="73" fill="#00b0d8"/>
<rect x="331" y="814" width="1" height="72" fill="#00b0d8"/>
<rect x="339" y="815" width="1" height="71" fill="#00b0d8"/>
<rect x="347" y="819" width="1" height="67" fill="#00b0d8"/>
<rect x="355" y="823" width="1" height="63" fill="#00b0d8"/>
<rect x="363" y="827" width="1" height="59" fill="#00b0d8"/>
<rect x="371" y="831" width="1" height="55" fill="#00b0d8"/>
<rect x="379" y="835" width="1" height="51" fill="#00b0d8"/>
<rect x="387" y="837" width="1" height="49" fill="#00b0d8"/>
<rect x="395" y="842" width="1" height="44" fill="#00b0d8"/>
<rect x="403" y="845" width="1" height="41" fill="#00b0d8"/>
<rect x="411" y="846" width="1" height="40" fill="#00b0d8"/>
<rect x="419" y="847" width="1" height="39" fill="#00b0d8"/>
<rect x="427" y="851" width="1" height="35" fill="#00b0d8"/>
<rect x="435" y="855" width="1" height="31" fill="#00b0d8"/>
<rect x="443" y="855" width="1" height="31" fill="#00b0d8"/>
<rect x="451" y="853" width="1" height="33" fill="#00b0d8"/>
<rect x="459" y="854" width="1" height="32" fill="#00b0d8"/>
<rect x="467" y="853" width="1" height="33" fill="#00b0d8"/>
<rect x="475" y="852" width="1" height="34" fill="#00b0d8"/>
<rect x="483" y="850" width="1" height="36" fill="#00b0d8"/>
<rect x="491" y="847" width="1" height="39" fill="#00b0d8"/>
<rect x="499" y="840" width="1" height="46" fill="#00b0d8"/>
<rect x="507" y="834" width="1" height="52" fill="#00b0d8"/>
<rect x="515" y="833" width="1" height="53" fill="#00b0d8"/>
<rect x="523" y="833" width="1" height="53" fill="#00b0d8"/>
<rect x="531" y="832" width="1" height="54" fill="#00b0d8"/>
<rect x="539" y="832" width="1" height="54" fill="#00b0d8"/>
<rect x="547" y="835" width="1" height="51" fill="#00b0d8"/>
<rect x="555" y="836" width="1" height="50" fill="#00b0d8"/>
<rect x="563" y="835" width="1" height="51" fill="#00b0d8"/>
<rect x="571" y="835" width="1" height="51" fill="#00b0d8"/>
<rect x="579" y="838" width="1" height="48" fill="#00b0d8"/>
<rect x="587" y="845" width="1" height="41" fill="#00b0d8"/>
<rect x="595" y="848" width="1" height="38" fill="#00b0d8"/>
<rect x="603" y="852" width="1" height="34" fill="#00b0d8"/>
<rect x="611" y="856" width="1" height="30" fill="#00b0d8"/>
<rect x="619" y="858" width="1" height="28" fill="#00b0d8"/>
<rect x="627" y="861" width="1" height="25" fill="#00b0d8"/>
<rect x="635" y="854" width="1" height="32" fill="#00b0d8"/>
<rect x="643" y="855" width="1" height="31" fill="#00b0d8"/>
<rect x="651" y="854" width="1" height="32" fill="#00b0d8"/>
<rect x="659" y="855" width="1" height="31" fill="#00b0d8"/>
<rect x="667" y="852" width="1" height="34" fill="#00b0d8"/>
<rect x="675" y="848" width="1" height="38" fill="#00b0d8"/>
<rect x="683" y="841" width="1" height="45" fill="#00b0d8"/>
<rect x="691" y="836" width="1" height="50" fill="#00b0d8"/>
<rect x="699" y="831" width="1" height="55" fill="#00b0d8"/>
<rect x="707" y="829" width="1" height="57" fill="#00b0d8"/>
<rect x="715" y="828" width="1" height="58" fill="#00b0d8"/>
<rect x="723" y="825" width="1" height="61" fill="#00b0d8"/>
<rect x="731" y="819" width="1" height="67" fill="#00b0d8"/>
<rect x="739" y="813" width="1" height="73" fill="#00b0d8"/>
<rect x="747" y="812" width="1" height="74" fill="#00b0d8"/>
<rect x="755" y="812" width="1" height="74" fill="#00b0d8"/>
<rect x="763" y="816" width="1" height="70" fill="#00b0d8"/>
<rect x="771" y="820" width="1" height="66" fill="#00b0d8"/>
<rect x="779" y="822" width="1" height="64" fill="#00b0d8"/>
<rect x="787" y="828" width="1" height="58" fill="#00b0d8"/>
<rect x="795" y="831" width="1" height="55" fill="#00b0d8"/>
<rect x="803" y="833" width="1" height="53" fill="#00b0d8"/>
<rect x="811" y="833" width="1" height="53" fill="#00b0d8"/>
<rect x="819" y="835" width="1" height="51" fill="#00b0d8"/>
<rect x="827" y="845" width="1" height="41" fill="#00b0d8"/>
<rect x="835" y="858" width="1" height="28" fill="#00b0d8"/>
<rect x="843" y="875" width="1" height="11" fill="#00b0d8"/>
<rect x="851" y="882" width="1" height="4" fill="#00b0d8"/>
<rect x="859" y="885" width="1" height="5" fill="#00b0d8"/>
<rect x="867" y="885" width="1" height="9" fill="#00b0d8"/>
<rect x="875" y="885" width="1" height="10" fill="#00b0d8"/>
<rect x="883" y="885" width="1" height="5" fill="#00b0d8"/>
<rect x="891" y="885" width="1" height="1" fill="#00b0d8"/>
<rect x="899" y="879" width="1" height="7" fill="#00b0d8"/>
<rect x="907" y="873" width="1" height="13" fill="#00b0d8"/>
<rect x="915" y="869" width="1" height="17" fill="#00b0d8"/>
<rect x="923" y="866" width="1" height="20" fill="#00b0d8"/>
<rect x="931" y="866" width="1" height="20" fill="#00b0d8"/>
<rect x="939" y="875" width="1" height="11" fill="#00b0d8"/>
<rect x="947" y="882" width="1" height="4" fill="#00b0d8"/>
<rect x="955" y="885" width="1" height="2" fill="#00b0d8"/>
<rect x="963" y="885" width="1" height="8" fill="#00b0d8"/>
<rect x="971" y="885" width="1" height="10" fill="#00b0d8"/>
<rect x="979" y="885" width="1" height="5" fill="#00b0d8"/>
<rect x="987" y="885" width="1" height="1" fill="#00b0d8"/>
<rect x="995" y="883" width="1" height="3" fill="#00b0d8"/>
<rect x="1003" y="880" width="1" height="6" fill="#00b0d8"/>
<rect x="1011" y="876" width="1" height="10" fill="#00b0d8"/>
<rect x="1019" y="873" width="1" height="13" fill="#00b0d8"/>
<rect x="1027" y="872" width="1" height="14" fill="#00b0d8"/>
<rect x="1035" y="871" width="1" height="15" fill="#00b0d8"/>
<rect x="1043" y="872" width="1" height="14" fill="#00b0d8"/>
<rect x="1051" y="876" width="1" height="10" fill="#00b0d8"/>
<rect x="1059" y="876" width="1" height="10" fill="#00b0d8"/>
<rect x="1067" y="876" width="1" height="10" fill="#00b0d8"/>
<rect x="1075" y="877" width="1" height="9" fill="#00b0d8"/>
<rect x="1083" y="881" width="1" height="5" fill="#00b0d8"/>
<rect x="1091" y="882" width="1" height="4" fill="#00b0d8"/>
<rect x="1099" y="885" width="1" height="1" fill="#00b0d8"/>
<rect x="1107" y="885" width="1" height="2" fill="#00b0d8"/>
<rect x="1115" y="885" width="1" height="3" fill="#00b0d8"/>
<rect x="1123" y="885" width="1" height="4" fill="#00b0d8"/>
<rect x="1131" y="885" width="1" height="9" fill="#00b0d8"/>
<rect x="1139" y="885" width="1" height="10" fill="#00b0d8"/>
<rect x="1147" y="885" width="1" height="14" fill="#00b0d8"/>
<rect x="1155" y="885" width="1" height="13" fill="#00b0d8"/>
<rect x="1163" y="885" width="1" height="11" fill="#00b0d8"/>
<rect x="1171" y="885" width="1" height="8" fill="#00b0d8"/>
<rect x="1179" y="885" width="1" height="13" fill="#00b0d8"/>
<rect x="1187" y="885" width="1" height="7" fill="#00b0d8"/>
<rect x="1195" y="885" width="1" height="3" fill="#00b0d8"/>
<rect x="1203" y="885" width="1" height="1" fill="#00b0d8"/>
<rect x="1211" y="885" width="1" height="1" fill="#00b0d8"/>
<rect x="1219" y="885" width="1" height="2" fill="#00b0d8"/>
<rect x="1227" y="885" width="1" height="6" fill="#00b0d8"/>
<rect x="1235" y="885" width="1" height="9" fill="#00b0d8"/>
<rect x="1243" y="885" width="1" height="9" fill="#00b0d8"/>
<rect x="1251" y="885" width="1" height="7" fill="#00b0d8"/>
<rect x="1259" y="885" width="1" height="4" fill="#00b0d8"/>
<rect x="1267" y="885" width="1" height="1" fill="#00b0d8"/>
<rect x="1275" y="882" width="1" height="4" fill="#00b0d8"/>
<rect x="1283" y="873" width="1" height="13" fill="#00b0d8"/>
<rect x="1291" y="866" width="1" height="20" fill="#00b0d8"/>
<rect x="1299" y="864" width="1" height="22" fill="#00b0d8"/>
<rect x="1307" y="865" width="1" height="21" fill="#00b0d8"/>
<rect x="1315" y="864" width="1" height="22" fill="#00b0d8"/>
<rect x="1323" y="862" width="1" height="24" fill="#00b0d8"/>
<rect x="1331" y="872" width="1" height="14" fill="#00b0d8"/>
<rect x="1339" y="874" width="1" height="12" fill="#00b0d8"/>
<rect x="1347" y="870" width="1" height="16" fill="#00b0d8"/>
<rect x="1355" y="864" width="1" height="22" fill="#00b0d8"/>
<rect x="1363" y="860" width="1" height="26" fill="#00b0d8"/>
<rect x="1371" y="857" width="1" height="29" fill="#00b0d8"/>
<rect x="1379" y="858" width="1" height="28" fill="#00b0d8"/>
<rect x="1387" y="852" width="1" height="34" fill="#00b0d8"/>
<rect x="1395" y="852" width="1" height="34" fill="#00b0d8"/>
<rect x="1403" y="852" width="1" height="34" fill="#00b0d8"/>
<rect x="1411" y="849" width="1" height="37" fill="#00b0d8"/>
<rect x="1419" y="849" width="1" height="37" fill="#00b0d8"/>
<rect x="1427" y="848" width="1" height="38" fill="#00b0d8"/>
<rect x="1435" y="844" width="1" height="42" fill="#00b0d8"/>
<rect x="1443" y="834" width="1" height="52" fill="#00b0d8"/>
<rect x="1451" y="826" width="1" height="60" fill="#00b0d8"/>
<rect x="1459" y="820" width="1" height="66" fill="#00b0d8"/>
<rect x="1467" y="816" width="1" height="70" fill="#00b0d8"/>
<path d="M127 814h14v1h-14zM121 815h6v1h-6zM141 815h4v1h-4zM351 815h8v1h-8zM117 816h4v1h-4zM145 816h4v1h-4zM345 816h6v1h-6zM359 816h6v1h-6zM114 817h3v1h-3zM149 817h2v1h-2zM341 817h4v1h-4zM365 817h4v1h-4zM111 818h3v1h-3zM151 818h3v1h-3zM337 818h4v1h-4zM369 818h4v1h-4zM769 818h28v1h-28zM109 819h2v1h-2zM154 819h2v1h-2zM333 819h4v1h-4zM373 819h4v1h-4zM765 819h4v1h-4zM797 819h4v1h-4zM106 820h3v1h-3zM156 820h2v1h-2zM330 820h3v1h-3zM377 820h4v1h-4zM761 820h4v1h-4zM801 820h4v1h-4zM103 821h3v1h-3zM158 821h2v1h-2zM327 821h3v1h-3zM381 821h2v1h-2zM757 821h4v1h-4zM805 821h4v1h-4zM101 822h2v1h-2zM160 822h2v1h-2zM325 822h2v1h-2zM383 822h3v1h-3zM754 822h3v1h-3zM809 822h4v1h-4zM98 823h3v1h-3zM162 823h2v1h-2zM322 823h3v1h-3zM386 823h3v1h-3zM751 823h3v1h-3zM813 823h2v1h-2zM96 824h2v1h-2zM164 824h2v1h-2zM319 824h3v1h-3zM389 824h2v1h-2zM749 824h2v1h-2zM815 824h3v1h-3zM94 825h2v1h-2zM166 825h2v1h-2zM317 825h2v1h-2zM391 825h3v1h-3zM746 825h3v1h-3zM818 825h3v1h-3zM92 826h2v1h-2zM168 826h2v1h-2zM314 826h3v1h-3zM394 826h3v1h-3zM744 826h2v1h-2zM821 826h2v1h-2zM91 827h1v1h-1zM170 827h2v1h-2zM312 827h2v1h-2zM397 827h2v1h-2zM742 827h2v1h-2zM823 827h3v1h-3zM89 828h2v1h-2zM172 828h2v1h-2zM310 828h2v1h-2zM399 828h3v1h-3zM740 828h2v1h-2zM826 828h2v1h-2zM87 829h2v1h-2zM174 829h2v1h-2zM308 829h2v1h-2zM402 829h2v1h-2zM738 829h2v1h-2zM828 829h2v1h-2zM86 830h1v1h-1zM176 830h2v1h-2zM306 830h2v1h-2zM404 830h2v1h-2zM736 830h2v1h-2zM830 830h2v1h-2zM84 831h2v1h-2zM178 831h2v1h-2zM304 831h2v1h-2zM406 831h2v1h-2zM734 831h2v1h-2zM832 831h2v1h-2zM83 832h1v1h-1zM180 832h2v1h-2zM302 832h2v1h-2zM408 832h2v1h-2zM732 832h2v1h-2zM834 832h2v1h-2zM82 833h1v1h-1zM182 833h2v1h-2zM300 833h2v1h-2zM410 833h3v1h-3zM561 833h20v1h-20zM730 833h2v1h-2zM836 833h1v1h-1zM81 834h1v1h-1zM184 834h2v1h-2zM298 834h2v1h-2zM413 834h2v1h-2zM557 834h4v1h-4zM581 834h4v1h-4zM728 834h2v1h-2zM837 834h2v1h-2zM79 835h2v1h-2zM186 835h2v1h-2zM296 835h2v1h-2zM415 835h3v1h-3zM551 835h6v1h-6zM585 835h6v1h-6zM726 835h2v1h-2zM839 835h1v1h-1zM78 836h1v1h-1zM188 836h2v1h-2zM294 836h2v1h-2zM418 836h3v1h-3zM545 836h6v1h-6zM591 836h6v1h-6zM724 836h2v1h-2zM840 836h1v1h-1zM77 837h1v1h-1zM190 837h2v1h-2zM292 837h2v1h-2zM421 837h2v1h-2zM541 837h4v1h-4zM597 837h4v1h-4zM722 837h2v1h-2zM841 837h2v1h-2zM1466 837h1v1h-1zM76 838h1v1h-1zM192 838h2v1h-2zM290 838h2v1h-2zM423 838h3v1h-3zM537 838h4v1h-4zM601 838h4v1h-4zM719 838h3v1h-3zM843 838h1v1h-1zM1464 838h2v1h-2zM75 839h1v1h-1zM194 839h2v1h-2zM288 839h2v1h-2zM426 839h3v1h-3zM533 839h4v1h-4zM605 839h2v1h-2zM717 839h2v1h-2zM844 839h1v1h-1zM1462 839h2v1h-2zM74 840h1v1h-1zM196 840h2v1h-2zM286 840h2v1h-2zM429 840h2v1h-2zM530 840h3v1h-3zM607 840h3v1h-3zM714 840h3v1h-3zM845 840h1v1h-1zM1460 840h2v1h-2zM73 841h1v1h-1zM198 841h2v1h-2zM284 841h2v1h-2zM431 841h3v1h-3zM527 841h3v1h-3zM610 841h3v1h-3zM711 841h3v1h-3zM846 841h1v1h-1zM1458 841h2v1h-2zM71 842h2v1h-2zM200 842h2v1h-2zM281 842h3v1h-3zM434 842h3v1h-3zM525 842h2v1h-2zM613 842h2v1h-2zM709 842h2v1h-2zM847 842h2v1h-2zM1455 842h3v1h-3zM70 843h1v1h-1zM202 843h2v1h-2zM277 843h4v1h-4zM437 843h2v1h-2zM521 843h4v1h-4zM615 843h3v1h-3zM706 843h3v1h-3zM849 843h1v1h-1zM1453 843h2v1h-2zM69 844h1v1h-1zM204 844h2v1h-2zM274 844h3v1h-3zM439 844h3v1h-3zM517 844h4v1h-4zM618 844h3v1h-3zM703 844h3v1h-3zM850 844h1v1h-1zM1450 844h3v1h-3zM68 845h1v1h-1zM206 845h2v1h-2zM271 845h3v1h-3zM442 845h3v1h-3zM514 845h3v1h-3zM621 845h2v1h-2zM701 845h2v1h-2zM851 845h1v1h-1zM1448 845h2v1h-2zM67 846h1v1h-1zM208 846h2v1h-2zM269 846h2v1h-2zM445 846h4v1h-4zM511 846h3v1h-3zM623 846h3v1h-3zM698 846h3v1h-3zM852 846h1v1h-1zM1446 846h2v1h-2zM66 847h1v1h-1zM210 847h3v1h-3zM266 847h3v1h-3zM449 847h4v1h-4zM509 847h2v1h-2zM626 847h3v1h-3zM696 847h2v1h-2zM853 847h1v1h-1zM1444 847h2v1h-2zM65 848h1v1h-1zM213 848h4v1h-4zM263 848h3v1h-3zM453 848h4v1h-4zM505 848h4v1h-4zM629 848h4v1h-4zM694 848h2v1h-2zM854 848h1v1h-1zM1441 848h3v1h-3zM64 849h1v1h-1zM217 849h4v1h-4zM261 849h2v1h-2zM457 849h6v1h-6zM501 849h4v1h-4zM633 849h4v1h-4zM692 849h2v1h-2zM855 849h2v1h-2zM1437 849h4v1h-4zM63 850h1v1h-1zM221 850h4v1h-4zM255 850h6v1h-6zM463 850h8v1h-8zM495 850h6v1h-6zM637 850h4v1h-4zM689 850h3v1h-3zM857 850h1v1h-1zM1433 850h4v1h-4zM62 851h1v1h-1zM225 851h6v1h-6zM247 851h8v1h-8zM471 851h24v1h-24zM641 851h4v1h-4zM685 851h4v1h-4zM858 851h1v1h-1zM1429 851h4v1h-4zM61 852h1v1h-1zM231 852h16v1h-16zM645 852h4v1h-4zM681 852h4v1h-4zM859 852h1v1h-1zM1425 852h4v1h-4zM60 853h1v1h-1zM649 853h6v1h-6zM677 853h4v1h-4zM860 853h1v1h-1zM1421 853h4v1h-4zM59 854h1v1h-1zM655 854h22v1h-22zM861 854h1v1h-1zM1417 854h4v1h-4zM58 855h1v1h-1zM862 855h1v1h-1zM1413 855h4v1h-4zM57 856h1v1h-1zM863 856h2v1h-2zM1410 856h3v1h-3zM55 857h2v1h-2zM865 857h1v1h-1zM1407 857h3v1h-3zM54 858h1v1h-1zM866 858h1v1h-1zM1405 858h2v1h-2zM53 859h1v1h-1zM867 859h1v1h-1zM1401 859h4v1h-4zM52 860h1v1h-1zM868 860h1v1h-1zM1397 860h4v1h-4zM51 861h1v1h-1zM869 861h1v1h-1zM1391 861h6v1h-6zM50 862h1v1h-1zM870 862h1v1h-1zM1385 862h6v1h-6zM49 863h1v1h-1zM871 863h1v1h-1zM1381 863h4v1h-4zM48 864h1v1h-1zM872 864h1v1h-1zM1367 864h14v1h-14zM47 865h1v1h-1zM873 865h1v1h-1zM1359 865h8v1h-8zM46 866h1v1h-1zM874 866h1v1h-1zM1351 866h8v1h-8zM45 867h1v1h-1zM875 867h1v1h-1zM1343 867h8v1h-8zM44 868h1v1h-1zM876 868h1v1h-1zM1337 868h6v1h-6zM43 869h1v1h-1zM877 869h2v1h-2zM1333 869h4v1h-4zM42 870h1v1h-1zM879 870h1v1h-1zM1329 870h4v1h-4zM41 871h1v1h-1zM880 871h1v1h-1zM1325 871h4v1h-4zM40 872h1v1h-1zM881 872h2v1h-2zM1322 872h3v1h-3zM39 873h1v1h-1zM883 873h1v1h-1zM1071 873h8v1h-8zM1319 873h3v1h-3zM39 874h1v1h-1zM884 874h1v1h-1zM1055 874h16v1h-16zM1079 874h8v1h-8zM1317 874h2v1h-2zM38 875h1v1h-1zM885 875h2v1h-2zM943 875h16v1h-16zM1049 875h6v1h-6zM1087 875h8v1h-8zM1314 875h3v1h-3zM37 876h1v1h-1zM887 876h1v1h-1zM938 876h5v1h-5zM959 876h6v1h-6zM1045 876h4v1h-4zM1095 876h6v1h-6zM1311 876h3v1h-3zM36 877h1v1h-1zM888 877h1v1h-1zM935 877h3v1h-3zM965 877h4v1h-4zM1042 877h3v1h-3zM1101 877h4v1h-4zM1309 877h2v1h-2zM35 878h1v1h-1zM889 878h2v1h-2zM933 878h2v1h-2zM969 878h4v1h-4zM1039 878h3v1h-3zM1105 878h4v1h-4zM1306 878h3v1h-3zM34 879h1v1h-1zM891 879h1v1h-1zM930 879h3v1h-3zM973 879h4v1h-4zM1037 879h2v1h-2zM1109 879h4v1h-4zM1304 879h2v1h-2zM33 880h1v1h-1zM892 880h2v1h-2zM927 880h3v1h-3zM977 880h4v1h-4zM1034 880h3v1h-3zM1113 880h4v1h-4zM1302 880h2v1h-2zM33 881h1v1h-1zM894 881h2v1h-2zM925 881h2v1h-2zM981 881h4v1h-4zM1031 881h3v1h-3zM1117 881h4v1h-4zM1300 881h2v1h-2zM32 882h1v1h-1zM896 882h2v1h-2zM921 882h4v1h-4zM985 882h4v1h-4zM1029 882h2v1h-2zM1121 882h4v1h-4zM1298 882h2v1h-2zM31 883h1v1h-1zM898 883h5v1h-5zM917 883h4v1h-4zM989 883h4v1h-4zM1023 883h6v1h-6zM1125 883h4v1h-4zM1295 883h3v1h-3zM30 884h1v1h-1zM903 884h14v1h-14zM993 884h6v1h-6zM1015 884h8v1h-8zM1129 884h6v1h-6zM1293 884h2v1h-2zM29 885h1v1h-1zM999 885h16v1h-16zM1135 885h5v1h-5zM1289 885h4v1h-4zM29 886h1v1h-1zM1140 886h2v1h-2zM1285 886h4v1h-4zM28 887h1v1h-1zM1142 887h2v1h-2zM1281 887h4v1h-4zM27 888h1v1h-1zM1144 888h2v1h-2zM1277 888h4v1h-4zM26 889h1v1h-1zM1146 889h3v1h-3zM1255 889h22v1h-22zM25 890h1v1h-1zM1149 890h4v1h-4zM1231 890h24v1h-24zM25 891h1v1h-1zM1153 891h6v1h-6zM1217 891h14v1h-14zM24 892h1v1h-1zM1159 892h8v1h-8zM1213 892h4v1h-4zM23 893h1v1h-1zM1167 893h6v1h-6zM1207 893h6v1h-6zM22 894h1v1h-1zM1173 894h4v1h-4zM1199 894h8v1h-8zM21 895h1v1h-1zM1177 895h22v1h-22zM21 896h1v1h-1zM20 897h1v1h-1zM19 898h1v1h-1zM17 899h2v1h-2zM16 900h1v1h-1zM15 901h1v1h-1zM13 902h2v1h-2zM12 903h1v1h-1zM11 904h1v1h-1zM9 905h2v1h-2zM7 906h2v1h-2zM6 907h1v1h-1zM4 908h2v1h-2zM3 909h1v1h-1z" fill="#000"/>
</g>
<g fill="#404040" shape-rendering="crispEdges">
<rect x="1866" y="6" width="2" height="1"/>
<rect x="1866" y="39" width="2" height="1"/>
<rect x="1866" y="72" width="2" height="1"/>
<rect x="1866" y="105" width="2" height="1"/>
<rect x="1866" y="138" width="2" height="1"/>
<rect x="1866" y="171" width="2" height="1"/>
<rect x="1866" y="204" width="2" height="1"/>
<rect x="1866" y="237" width="2" height="1"/>
<rect x="1866" y="270" width="2" height="1"/>
<rect x="1866" y="303" width="2" height="1"/>
<rect x="1866" y="336" width="2" height="1"/>
<rect x="1866" y="369" width="2" height="1"/>
<rect x="1866" y="402" width="2" height="1"/>
<rect x="1866" y="435" width="2" height="1"/>
<rect x="1866" y="468" width="2" height="1"/>
<rect x="1866" y="501" width="2" height="1"/>
<rect x="1866" y="534" width="2" height="1"/>
<rect x="1866" y="567" width="2" height="1"/>
<rect x="1866" y="600" width="2" height="1"/>
<rect x="1866" y="633" width="2" height="1"/>
<rect x="1866" y="666" width="2" height="1"/>
<rect x="1866" y="673" width="1" height="1"/>
<rect x="1866" y="795" width="1" height="1"/>
<rect x="1866" y="800" width="1" height="1"/>
<rect x="1866" y="885" width="1" height="1"/>
<rect x="1866" y="914" width="1" height="1"/>
<rect x="3" y="916" width="1" height="3"/>
<rect x="67" y="916" width="1" height="3"/>
<rect x="131" y="916" width="1" height="3"/>
<rect x="195" y="916" width="1" height="3"/>
<rect x="259" y="916" width="1" height="3"/>
<rect x="323" y="916" width="1" height="3"/>
<rect x="387" y="916" width="1" height="3"/>
<rect x="451" y="916" width="1" height="3"/>
<rect x="515" y="916" width="1" height="3"/>
<rect x="579" y="916" width="1" height="3"/>
<rect x="643" y="916" width="1" height="3"/>
<rect x="707" y="916" width="1" height="3"/>
<rect x="771" y="916" width="1" height="3"/>
<rect x="835" y="916" width="1" height="3"/>
<rect x="899" y="916" width="1" height="3"/>
<rect x="963" y="916" width="1" height="3"/>
<rect x="1027" y="916" width="1" height="3"/>
<rect x="1091" y="916" width="1" height="3"/>
<rect x="1155" y="916" width="1" height="3"/>
<rect x="1219" y="916" width="1" height="3"/>
<rect x="1283" y="916" width="1" height="3"/>
<rect x="1347" y="916" width="1" height="3"/>
<rect x="1411" y="916" width="1" height="3"/>
<rect x="6" y="9" width="7" height="1"/><rect x="7" y="10" width="5" height="1"/><rect x="8" y="11" width="3" height="1"/><rect x="9" y="12" width="1" height="1"/>
</g>
<g font-size="10px" text-rendering="geometricPrecision">
<text transform="translate(1870.8,10) scale(0.9111,1)" fill="#000" stroke="#000" stroke-width=".16">34862.85</text>
<text transform="translate(1870.8,43) scale(0.9111,1)" fill="#000" stroke="#000" stroke-width=".16">34742.40</text>
<text transform="translate(1870.8,76) scale(0.9111,1)" fill="#000" stroke="#000" stroke-width=".16">34621.95</text>
<text transform="translate(1870.8,109) scale(0.9111,1)" fill="#000" stroke="#000" stroke-width=".16">34501.50</text>
<text transform="translate(1870.8,142) scale(0.9111,1)" fill="#000" stroke="#000" stroke-width=".16">34377.40</text>
<text transform="translate(1870.8,175) scale(0.9111,1)" fill="#000" stroke="#000" stroke-width=".16">34256.95</text>
<text transform="translate(1870.8,208) scale(0.9111,1)" fill="#000" stroke="#000" stroke-width=".16">34136.50</text>
<text transform="translate(1870.8,241) scale(0.9111,1)" fill="#000" stroke="#000" stroke-width=".16">34016.05</text>
<text transform="translate(1870.8,274) scale(0.9111,1)" fill="#000" stroke="#000" stroke-width=".16">33891.95</text>
<text transform="translate(1870.8,307) scale(0.9111,1)" fill="#000" stroke="#000" stroke-width=".16">33771.50</text>
<text transform="translate(1870.8,340) scale(0.9111,1)" fill="#000" stroke="#000" stroke-width=".16">33651.05</text>
<text transform="translate(1870.8,373) scale(0.9111,1)" fill="#000" stroke="#000" stroke-width=".16">33530.60</text>
<text transform="translate(1870.8,406) scale(0.9111,1)" fill="#000" stroke="#000" stroke-width=".16">33406.50</text>
<text transform="translate(1870.8,439) scale(0.9111,1)" fill="#000" stroke="#000" stroke-width=".16">33286.05</text>
<text transform="translate(1870.8,472) scale(0.9111,1)" fill="#000" stroke="#000" stroke-width=".16">33165.60</text>
<text transform="translate(1870.8,505) scale(0.9111,1)" fill="#000" stroke="#000" stroke-width=".16">33045.15</text>
<text transform="translate(1870.8,538) scale(0.9111,1)" fill="#000" stroke="#000" stroke-width=".16">32921.05</text>
<text transform="translate(1870.8,571) scale(0.9111,1)" fill="#000" stroke="#000" stroke-width=".16">32800.60</text>
<text transform="translate(1870.8,604) scale(0.9111,1)" fill="#000" stroke="#000" stroke-width=".16">32680.15</text>
<text transform="translate(1870.8,637) scale(0.9111,1)" fill="#000" stroke="#000" stroke-width=".16">32559.70</text>
<text transform="translate(1870.8,670) scale(0.9111,1)" fill="#000" stroke="#000" stroke-width=".16">32439.25</text>
<rect x="1867" y="85" width="46" height="11" fill="#404040" shape-rendering="crispEdges"/>
<text transform="translate(1870.8,93) scale(0.9111,1)" fill="#fff" stroke="#fff" stroke-width=".16">34556.00</text>
<rect x="1867" y="78" width="46" height="11" fill="#000" shape-rendering="crispEdges"/>
<text transform="translate(1870.8,87) scale(0.9111,1)" fill="#fff" stroke="#fff" stroke-width=".16">34578.00</text>
<rect x="1867" y="145" width="46" height="11" fill="#000" shape-rendering="crispEdges"/>
<text transform="translate(1870.8,154) scale(0.9111,1)" fill="#fff" stroke="#fff" stroke-width=".16">34330.00</text>
<rect x="1867" y="184" width="46" height="11" fill="#000" shape-rendering="crispEdges"/>
<text transform="translate(1870.8,193) scale(0.9111,1)" fill="#fff" stroke="#fff" stroke-width=".16">34187.00</text>
<rect x="1867" y="225" width="46" height="11" fill="#000" shape-rendering="crispEdges"/>
<text transform="translate(1870.8,234) scale(0.9111,1)" fill="#fff" stroke="#fff" stroke-width=".16">34035.00</text>
<rect x="1867" y="299" width="46" height="11" fill="#000" shape-rendering="crispEdges"/>
<text transform="translate(1870.8,308) scale(0.9111,1)" fill="#fff" stroke="#fff" stroke-width=".16">33765.00</text>
<rect x="1867" y="319" width="46" height="11" fill="#000" shape-rendering="crispEdges"/>
<text transform="translate(1870.8,328) scale(0.9111,1)" fill="#fff" stroke="#fff" stroke-width=".16">33690.00</text>
<text transform="translate(1868.9,682) scale(0.8990,1)" fill="#000" stroke="#000" stroke-width=".16">100</text>
<text transform="translate(1868,701) scale(0.8990,1)" fill="#000" stroke="#000" stroke-width=".16">80</text>
<text transform="translate(1868,775) scale(0.8990,1)" fill="#000" stroke="#000" stroke-width=".16">20</text>
<text transform="translate(1869.2,793) scale(0.8990,1)" fill="#000" stroke="#000" stroke-width=".16">0</text>
<text transform="translate(1869.2,809) scale(0.9129,1)" fill="#000" stroke="#000" stroke-width=".16">156.205</text>
<text transform="translate(1868.9,889) scale(0.9248,1)" fill="#000" stroke="#000" stroke-width=".16">0.00</text>
<text transform="translate(1868.8,912) scale(0.9435,1)" fill="#000" stroke="#000" stroke-width=".16">-54.954</text>
<text transform="translate(1.8,928) scale(0.9083,1)" fill="#000" stroke="#000" stroke-width=".16">26 Mar 2021</text>
<text transform="translate(65.8,928) scale(0.9164,1)" fill="#000" stroke="#000" stroke-width=".16">29 Mar 16:00</text>
<text transform="translate(129.8,928) scale(0.9164,1)" fill="#000" stroke="#000" stroke-width=".16">31 Mar 00:00</text>
<text transform="translate(193.8,928) scale(0.9284,1)" fill="#000" stroke="#000" stroke-width=".16">1 Apr 08:00</text>
<text transform="translate(257.8,928) scale(0.9284,1)" fill="#000" stroke="#000" stroke-width=".16">4 Apr 23:00</text>
<text transform="translate(321.8,928) scale(0.9284,1)" fill="#000" stroke="#000" stroke-width=".16">6 Apr 04:00</text>
<text transform="translate(385.8,928) scale(0.9284,1)" fill="#000" stroke="#000" stroke-width=".16">7 Apr 12:00</text>
<text transform="translate(449.8,928) scale(0.9284,1)" fill="#000" stroke="#000" stroke-width=".16">8 Apr 20:00</text>
<text transform="translate(513.8,928) scale(0.9255,1)" fill="#000" stroke="#000" stroke-width=".16">12 Apr 00:00</text>
<text transform="translate(577.8,928) scale(0.9255,1)" fill="#000" stroke="#000" stroke-width=".16">13 Apr 08:00</text>
<text transform="translate(641.8,928) scale(0.9255,1)" fill="#000" stroke="#000" stroke-width=".16">14 Apr 16:00</text>
<text transform="translate(705.8,928) scale(0.9255,1)" fill="#000" stroke="#000" stroke-width=".16">16 Apr 00:00</text>
<text transform="translate(769.8,928) scale(0.9255,1)" fill="#000" stroke="#000" stroke-width=".16">19 Apr 04:00</text>
<text transform="translate(833.8,928) scale(0.9255,1)" fill="#000" stroke="#000" stroke-width=".16">20 Apr 12:00</text>
<text transform="translate(897.8,928) scale(0.9255,1)" fill="#000" stroke="#000" stroke-width=".16">21 Apr 20:00</text>
<text transform="translate(961.8,928) scale(0.9255,1)" fill="#000" stroke="#000" stroke-width=".16">23 Apr 04:00</text>
<text transform="translate(1025.8,928) scale(0.9255,1)" fill="#000" stroke="#000" stroke-width=".16">26 Apr 08:00</text>
<text transform="translate(1089.8,928) scale(0.9255,1)" fill="#000" stroke="#000" stroke-width=".16">27 Apr 16:00</text>
<text transform="translate(1153.8,928) scale(0.9255,1)" fill="#000" stroke="#000" stroke-width=".16">29 Apr 00:00</text>
<text transform="translate(1217.8,928) scale(0.9255,1)" fill="#000" stroke="#000" stroke-width=".16">30 Apr 08:00</text>
<text transform="translate(1281.8,928) scale(0.9267,1)" fill="#000" stroke="#000" stroke-width=".16">3 May 12:00</text>
<text transform="translate(1345.8,928) scale(0.9267,1)" fill="#000" stroke="#000" stroke-width=".16">4 May 20:00</text>
<text transform="translate(1409.8,928) scale(0.9267,1)" fill="#000" stroke="#000" stroke-width=".16">6 May 04:00</text>
<text transform="translate(18.3,14) scale(0.9235,1)" fill="#000" stroke="#000" stroke-width=".16">.US30Cash,H4  34564.50 34571.00 34551.00 34556.00</text>
<text transform="translate(7.2,684) scale(0.9199,1)" fill="#000" stroke="#000" stroke-width=".16">RSI(14) 68.8662</text>
<text transform="translate(7.2,811) scale(0.9312,1)" fill="#000" stroke="#000" stroke-width=".16">MACD(12,26,9) 128.378 88.142</text>
</g>
<g font-weight="bold" font-size="14.2px">
<text x="1742" y="80.4" fill="#1eb4e0" textLength="48" lengthAdjust="spacingAndGlyphs">~34578</text>
<text x="1743.3" y="147.6" fill="#4d5966" textLength="48" lengthAdjust="spacingAndGlyphs">~34330</text>
<text x="1744.2" y="186.7" fill="#4d5966" textLength="48" lengthAdjust="spacingAndGlyphs">~34187</text>
<text x="1745.2" y="227.7" fill="#4d5966" textLength="48" lengthAdjust="spacingAndGlyphs">~34035</text>
<text x="1747.2" y="301" fill="#4d5966" textLength="48" lengthAdjust="spacingAndGlyphs">~33765</text>
<text x="308.5" y="458.6" fill="#ffc000" textLength="50.5" lengthAdjust="spacingAndGlyphs">21 EMA</text>
<text x="323.7" y="496.1" fill="#ff0000" textLength="50" lengthAdjust="spacingAndGlyphs">50 EMA</text>
<text x="347" y="560.8" fill="#00ff00" textLength="57.6" lengthAdjust="spacingAndGlyphs">100 EMA</text>
<text x="454" y="648" fill="#000" textLength="59" lengthAdjust="spacingAndGlyphs">200 EMA</text>
</g>
<g fill="url(#lg)" font-weight="bold" font-size="67.7px">
<text x="169.6 205.1 235.75" y="70.6" clip-path="url(#cj)">JFD</text>
<rect x="234.3" y="32.8" width="8" height="42" fill="#fff"/>
<rect x="240.8" y="20" width="10.9" height="54" fill="#fff"/>
<rect x="246.8" y="24" width="2.3" height="46.6"/>
<rect x="244.7" y="40" width="6.6" height="15"/>
</g>
</svg>
</body></html>
